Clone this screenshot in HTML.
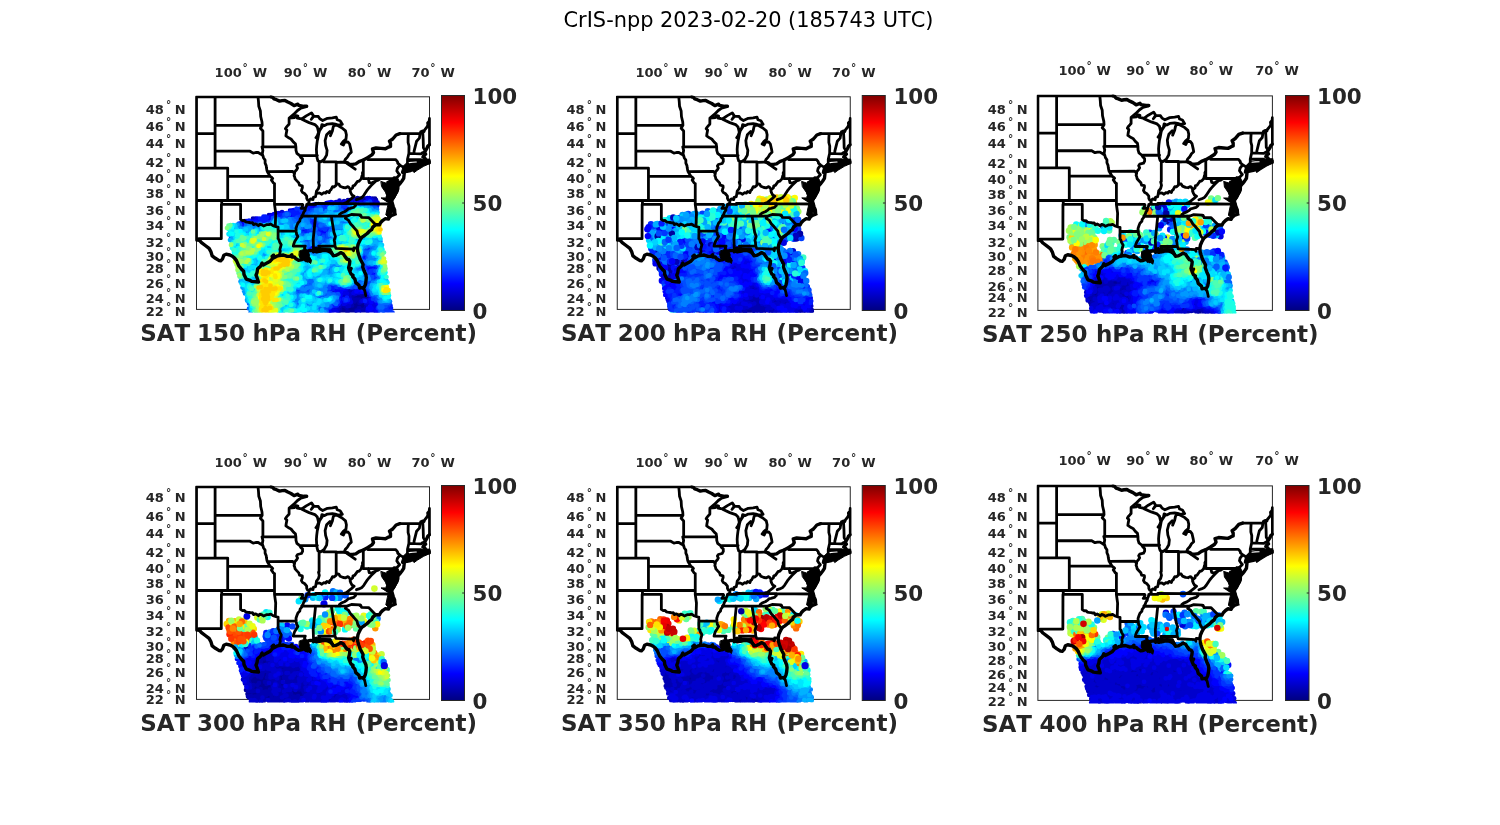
<!DOCTYPE html>
<html lang="en"><head><meta charset="utf-8"><title>CrIS-npp 2023-02-20 (185743 UTC)</title>
<style>html,body{margin:0;padding:0;background:#fff}svg{display:block}text{font-family:"DejaVu Sans","Liberation Sans",sans-serif;fill:#262626;font-kerning:none}.b{font-weight:bold}.t{font-size:13px}.c{font-size:21.4px}.x{font-size:23px}.d{font-size:10.5px}.D circle{r:3.2px}</style></head><body>
<svg width="1500" height="825" viewBox="0 0 1500 825">
<defs>
<linearGradient id="jet" x1="0" y1="0" x2="0" y2="1"><stop offset="0.0000" stop-color="#800000"/><stop offset="0.0156" stop-color="#8f0000"/><stop offset="0.0312" stop-color="#9f0000"/><stop offset="0.0469" stop-color="#af0000"/><stop offset="0.0625" stop-color="#bf0000"/><stop offset="0.0781" stop-color="#cf0000"/><stop offset="0.0938" stop-color="#df0000"/><stop offset="0.1094" stop-color="#ef0000"/><stop offset="0.1250" stop-color="#ff0000"/><stop offset="0.1406" stop-color="#ff1000"/><stop offset="0.1562" stop-color="#ff2000"/><stop offset="0.1719" stop-color="#ff3000"/><stop offset="0.1875" stop-color="#ff4000"/><stop offset="0.2031" stop-color="#ff5000"/><stop offset="0.2188" stop-color="#ff6000"/><stop offset="0.2344" stop-color="#ff7000"/><stop offset="0.2500" stop-color="#ff8000"/><stop offset="0.2656" stop-color="#ff8f00"/><stop offset="0.2812" stop-color="#ff9f00"/><stop offset="0.2969" stop-color="#ffaf00"/><stop offset="0.3125" stop-color="#ffbf00"/><stop offset="0.3281" stop-color="#ffcf00"/><stop offset="0.3438" stop-color="#ffdf00"/><stop offset="0.3594" stop-color="#ffef00"/><stop offset="0.3750" stop-color="#ffff00"/><stop offset="0.3906" stop-color="#efff10"/><stop offset="0.4062" stop-color="#dfff20"/><stop offset="0.4219" stop-color="#cfff30"/><stop offset="0.4375" stop-color="#bfff40"/><stop offset="0.4531" stop-color="#afff50"/><stop offset="0.4688" stop-color="#9fff60"/><stop offset="0.4844" stop-color="#8fff70"/><stop offset="0.5000" stop-color="#80ff80"/><stop offset="0.5156" stop-color="#70ff8f"/><stop offset="0.5312" stop-color="#60ff9f"/><stop offset="0.5469" stop-color="#50ffaf"/><stop offset="0.5625" stop-color="#40ffbf"/><stop offset="0.5781" stop-color="#30ffcf"/><stop offset="0.5938" stop-color="#20ffdf"/><stop offset="0.6094" stop-color="#10ffef"/><stop offset="0.6250" stop-color="#00ffff"/><stop offset="0.6406" stop-color="#00efff"/><stop offset="0.6562" stop-color="#00dfff"/><stop offset="0.6719" stop-color="#00cfff"/><stop offset="0.6875" stop-color="#00bfff"/><stop offset="0.7031" stop-color="#00afff"/><stop offset="0.7188" stop-color="#009fff"/><stop offset="0.7344" stop-color="#008fff"/><stop offset="0.7500" stop-color="#0080ff"/><stop offset="0.7656" stop-color="#0070ff"/><stop offset="0.7812" stop-color="#0060ff"/><stop offset="0.7969" stop-color="#0050ff"/><stop offset="0.8125" stop-color="#0040ff"/><stop offset="0.8281" stop-color="#0030ff"/><stop offset="0.8438" stop-color="#0020ff"/><stop offset="0.8594" stop-color="#0010ff"/><stop offset="0.8750" stop-color="#0000ff"/><stop offset="0.8906" stop-color="#0000ef"/><stop offset="0.9062" stop-color="#0000df"/><stop offset="0.9219" stop-color="#0000cf"/><stop offset="0.9375" stop-color="#0000bf"/><stop offset="0.9531" stop-color="#0000af"/><stop offset="0.9688" stop-color="#00009f"/><stop offset="0.9844" stop-color="#00008f"/><stop offset="1.0000" stop-color="#000080"/></linearGradient>
<clipPath id="cb"><rect x="-1.4" y="-1.4" width="235.8" height="215.4"/></clipPath>
<clipPath id="cd"><rect x="-3" y="-3" width="239.0" height="218.6"/></clipPath>
<g id="map" fill="none" stroke="#000" stroke-width="2.8" stroke-linejoin="round" stroke-linecap="round" clip-path="url(#cb)">
<path stroke-width="3.4" d="M74.6 0.0L76.2 0.5L77.5 2.1L80.0 2.9L83.1 4.3L85.6 3.8L88.5 3.6L91.3 5.2L94.5 6.7L97.6 8.8L101.4 7.4L102.3 8.6L107.4 9.5L110.2 9.5M148.3 65.2L151.1 66.1L152.7 67.4L156.2 67.6L159.3 67.1L162.5 64.9L166.8 63.2L171.5 60.6L175.7 57.8L177.0 55.7L176.0 52.2L179.5 51.2L184.5 51.6L188.9 52.0L192.1 50.3L194.0 49.6L194.0 46.6L193.0 44.4L196.2 42.2L199.6 38.2L203.4 36.9M233.0 47.9L231.4 49.2L230.5 51.4L229.2 53.5L228.0 55.5L229.1 57.4L227.3 58.7L226.5 60.2L228.3 61.2L229.5 63.3L229.9 64.8L233.0 64.8M233.0 65.7L230.2 66.3L228.9 67.0L228.6 65.0L227.0 66.7L225.8 67.1L224.8 65.5L224.2 64.6L224.2 67.6L223.6 68.2L221.4 68.6L217.9 69.0L214.7 69.2L212.2 70.5L210.0 71.4L208.4 73.0L208.1 71.3L208.4 71.3M207.7 74.5L209.4 72.6L212.8 72.0L216.6 71.5L218.5 70.1L217.3 71.7L219.5 71.3L221.2 70.7L217.9 72.4L214.1 73.7L210.3 74.6L207.7 74.9L207.7 74.5M206.2 75.5L207.8 75.9L207.5 78.8L207.2 81.6L205.3 84.5L203.4 86.9L202.0 88.3L201.8 86.3L199.6 85.3L198.1 83.7L198.1 82.9L198.4 84.9L199.0 86.9L199.6 88.4L200.9 89.5L201.2 92.2L200.3 95.0L199.0 97.0L197.4 99.8L195.5 102.8L195.1 101.3L195.8 99.4L197.1 96.3L195.8 95.8L196.2 93.8L194.6 93.4L193.3 91.0L194.3 89.4L193.3 87.7L194.3 86.1L195.2 84.5L194.6 83.3L193.3 84.5L192.4 86.1L191.4 85.7L192.4 87.7L191.8 89.8L192.1 92.2L192.7 93.4L193.2 95.5L193.6 96.6L193.0 98.8L190.8 96.6L193.3 99.4L192.7 101.7L190.8 100.2L193.3 103.5L191.1 103.3L193.3 104.1L195.2 104.3L196.0 107.2M196.0 107.2L196.8 110.0L198.1 113.1L198.4 117.3L195.2 118.5L193.0 120.4L191.9 122.3L188.9 121.8L186.4 123.5L184.2 125.7L182.9 128.0L179.2 127.9L176.3 130.3L175.1 132.9L172.9 134.4L170.7 136.7L167.2 139.3L165.6 140.4L164.4 141.7L162.8 144.8L161.5 147.8L160.9 151.4L161.2 154.4L162.2 158.0L163.7 162.3L165.3 165.2L166.6 167.7L166.2 170.2L167.8 174.5L169.4 178.0L169.8 180.8L169.4 185.1L168.8 187.9L167.5 190.6L164.4 191.0L163.1 191.2L162.5 188.5L159.3 185.8L158.4 182.3L156.2 179.8L156.5 178.4L154.6 177.3L153.3 174.5L154.6 171.7L152.7 173.1L152.1 170.9L153.0 167.4L153.3 164.5L152.1 162.7L150.5 162.3L148.6 159.8L146.7 156.9L144.2 155.8L142.6 156.9L139.2 158.6L136.7 158.9L136.0 157.6L134.4 155.8L131.6 154.2L129.1 153.6L125.9 153.8L124.7 154.2L122.7 154.5L120.9 154.9L119.6 154.9L120.3 153.3L119.6 151.5L119.0 153.6L117.1 154.9L117.1 153.8L114.0 153.6L111.5 154.2L109.6 155.1L108.3 155.8L110.2 156.2L111.5 158.0L109.6 159.1L110.8 160.9L112.4 162.0L113.0 163.4L111.1 164.1L110.8 162.7L108.6 161.3L107.1 160.2L106.7 162.3L104.5 163.1L102.0 163.4L99.5 162.0L97.9 160.2L95.4 160.2L95.4 158.0L93.8 159.5L90.7 159.6L86.9 158.2L82.8 158.7L81.2 159.0L77.5 160.9L77.1 158.4L75.6 159.5L76.2 161.6L73.7 164.4L69.9 166.5L66.8 168.1L65.5 166.3L64.2 169.2L62.7 170.6L61.1 172.0L60.5 175.9L59.5 178.4L60.8 181.6L62.0 185.3M3.0 143.5L5.0 145.8L8.8 148.7L12.6 151.6L14.5 155.1L15.7 159.1L18.9 161.5L22.7 163.8L24.2 164.0L26.1 162.0L27.3 158.4L29.6 157.4L33.4 158.2L35.9 159.5L38.1 161.3L40.0 163.8L42.2 168.9L45.0 172.5L47.2 174.5L47.5 177.7L49.7 182.3L52.9 183.3L55.4 184.6L58.9 184.9L62.0 185.3"/>
<path d="M0.0 0.0L74.6 0.0M0.0 0.0L0.0 143.5M0.0 143.5L3.0 143.5M18.6 0.0L18.6 71.3M0.0 36.9L18.6 36.9M18.6 28.5L65.7 28.5M18.6 54.4L53.5 54.4L56.7 56.3L59.2 55.7L61.7 55.7L64.5 57.4L66.4 58.8M0.0 71.3L31.2 71.3M31.2 71.3L31.2 103.7M31.2 79.6L73.7 79.6M0.0 103.7L78.0 103.7M25.2 103.7L25.2 107.6M24.9 107.6L44.1 107.6M24.9 107.6L24.8 141.9M24.8 141.9L2.4 141.9L2.4 142.8L3.0 143.5M44.1 107.6L44.1 122.6M44.1 122.6L46.0 123.8L47.9 123.7L49.1 125.0L50.7 125.4L52.9 125.7L54.5 126.0L56.0 125.9L57.0 127.8L58.9 127.0L60.8 128.0L62.0 128.9L63.3 127.3L65.5 128.0L67.1 129.2L69.9 127.9L72.4 127.8L74.3 127.3L76.5 128.9L78.8 129.6L80.3 130.1L81.6 130.3M78.8 129.6L79.2 116.2L78.0 107.6M78.0 107.6L78.0 86.8M81.6 130.3L81.6 141.9M81.6 134.3L99.7 134.4M81.6 141.9L82.5 143.0L83.1 145.2L84.7 147.9L84.1 150.0L83.4 152.6L83.8 154.4L83.4 156.2L82.8 158.7M78.0 107.6L106.1 107.6L106.4 108.4L105.5 110.4L104.7 111.5L108.9 111.5M66.4 58.8L67.1 61.2L68.6 63.3L68.6 66.3L69.7 68.8L70.0 71.3L70.4 73.4L71.2 75.5L72.4 77.5L73.7 79.6L75.3 80.7L76.2 81.6L74.9 83.3L76.1 84.9L76.8 86.1L78.0 86.8M66.4 58.8L65.8 57.0L66.4 53.5L65.5 50.1L66.4 50.1L66.4 34.2L63.9 31.5L65.7 28.5L65.5 25.2L64.2 19.7L63.9 14.2L62.3 9.5L62.0 4.8L61.5 0.0M66.4 50.1L99.4 50.1M70.7 74.8L96.2 74.6L97.6 76.3L98.1 76.5M103.0 58.6L120.9 58.8M93.8 21.1L92.6 21.9L92.6 27.3L91.6 28.4L89.7 30.6L88.9 32.0L90.4 33.3L89.7 36.9L89.4 39.1L92.6 41.3L94.5 42.2L97.0 45.3L98.9 47.0L99.4 50.1L99.5 53.5L100.4 56.5L103.0 58.6L104.5 60.8L106.0 62.1L106.1 64.6L104.9 66.7L101.1 67.7L100.1 69.2L101.1 71.3L100.1 73.0L98.2 75.1L98.1 76.5L97.6 78.8L98.2 80.2L98.6 82.1L100.4 84.1L102.3 86.1L103.0 88.4L105.8 89.0L105.9 90.7L104.9 93.8L106.1 95.8L108.0 96.7L110.2 99.4L110.2 101.5L111.1 103.3L112.4 103.7L112.7 105.3L111.8 106.8L110.2 107.6L109.9 109.2L108.9 111.5L108.6 113.5L107.4 115.0L106.4 117.7L105.2 119.3L105.2 120.4L103.6 122.3L103.3 124.2L101.4 126.1L100.4 128.8L99.5 131.4L99.7 134.4L100.1 137.4L101.4 139.7L99.8 142.3L98.2 144.8L97.3 147.1L96.8 149.3M96.8 149.3L108.8 149.3L108.0 151.5L109.3 153.6L109.6 155.1M166.8 74.3L165.9 76.3L166.2 77.9L165.5 79.0L164.7 82.1L162.5 84.5L160.9 84.5L160.3 85.6L159.0 87.3L158.1 88.6L156.5 89.0L156.2 91.0L154.6 92.4L153.7 92.4L152.1 90.2L151.1 89.9L149.2 91.0L146.7 90.7L143.6 89.4L142.3 87.3L139.7 86.9L139.5 88.6L137.6 90.2L136.0 89.9L134.4 93.0L133.5 93.6L132.6 95.8L130.4 94.6L129.1 96.4L127.2 95.9L125.3 97.5L123.4 96.3L122.2 96.2L120.3 96.7L119.5 97.4L119.0 99.8L116.8 100.5L116.5 102.9L114.0 102.1L112.4 103.7M119.5 97.4L120.0 94.2L121.9 91.8L122.8 88.6L122.0 85.3L122.6 84.9L122.6 65.4M139.7 86.9L139.7 65.5M127.1 65.0L139.7 65.0L139.7 65.5L148.3 65.2M166.8 81.9L166.8 63.2M171.5 60.6L171.5 62.9L199.3 62.9L201.1 65.0L201.2 66.3L203.4 68.3M203.4 68.3L200.9 71.6L200.3 74.2L201.8 76.3L203.1 77.9L200.7 80.4L199.0 81.2L198.1 82.9M203.4 68.3L208.4 71.3M166.8 81.9L196.5 81.9M199.0 81.2L197.7 80.9L196.5 81.9L196.5 92.2L201.2 92.2M157.6 99.4L155.5 98.2L154.6 96.6L153.7 94.4L153.7 92.4M157.6 99.4L155.2 101.6L153.0 103.3L149.9 105.7L146.9 106.8M146.9 106.8L159.4 106.9L196.0 107.2M146.9 106.8L119.2 106.5L119.2 107.6L110.2 107.6M159.4 106.9L159.0 108.8L157.1 110.6L153.7 111.5L151.8 111.9L150.5 113.3L148.0 114.9L144.8 116.2L142.9 117.7L142.8 119.3M105.2 119.3L142.8 119.3L150.4 119.3M150.4 119.3L154.9 117.7L163.5 118.1L163.5 118.9L164.2 118.5L165.1 120.6L172.1 120.8L179.2 127.9M150.4 119.3L148.9 121.6L151.8 123.3L154.0 126.9L156.2 129.2L157.7 131.0L160.6 134.4L161.2 137.4L162.8 140.0L164.4 141.7M118.4 119.3L119.0 120.0L116.7 142.6L117.1 154.9M134.8 119.3L137.4 135.4L138.9 139.7L137.7 143.4L138.2 145.6L138.5 149.3M122.2 149.3L138.5 149.3L139.4 151.5L156.2 152.4L157.1 153.9L157.4 151.1L160.9 151.4M122.2 149.3L123.4 151.8L123.1 153.6L122.7 154.5M203.4 36.9L223.6 36.9L224.2 35.1L226.2 34.2L227.6 34.7L228.0 33.3L230.5 30.2L231.4 28.4L231.1 26.1L232.7 24.3L233.0 21.6M233.0 21.6L233.0 47.9M211.9 36.9L211.6 41.3L211.6 45.7L212.5 49.2L212.4 56.5L211.0 62.5L211.0 68.8L209.7 70.5L210.0 71.4M223.6 36.9L222.9 41.3L220.1 44.4L219.1 48.3L217.6 54.4L217.5 56.7M212.4 56.5L224.8 57.0L225.4 56.3L227.3 55.4M211.0 62.5L221.7 62.8L224.3 62.8L224.3 63.8L225.1 65.5L225.8 67.1M221.7 62.8L221.7 68.0L221.4 68.6M228.6 53.7L226.9 50.9L226.7 43.1L226.2 34.2M171.8 81.7L172.7 85.8L175.2 86.4L177.0 85.2L179.4 84.1L181.8 83.4L183.3 82.4M179.4 84.1L177.0 86.4L174.6 88.8L172.7 90.9L170.9 93.0L169.1 95.8L167.3 98.5L165.5 100.6L162.4 102.1L160.0 102.9M109.9 9.8L104.4 11.3L101.0 13.7L97.1 17.6L92.7 21.2L98.1 20.7L99.8 18.8L101.4 19.3L100.8 21.3L103.4 21.7L105.3 22.2L109.7 19.1L115.0 16.1L117.0 19.1L114.7 22.6L117.5 19.3L121.8 19.7L123.3 22.0L126.2 23.7L131.0 21.5L135.9 21.0L139.8 20.3L140.7 22.9L143.6 23.9L144.8 25.8L145.8 27.5L141.7 28.3L138.8 27.3L135.9 26.8L131.0 27.3L128.1 28.8L125.4 27.8L124.7 31.2L126.2 29.2L124.2 32.2L122.1 35.5L120.8 38.9L119.4 40.9L121.8 37.5L122.8 34.1L123.5 32.2L122.3 36.5L121.5 40.9L120.8 43.8L120.2 48.6L119.9 52.5L120.2 58.3L120.7 61.7L121.5 64.2L124.2 65.1L127.6 62.7L130.1 58.3L130.6 53.5L129.1 48.6L128.6 43.8L130.1 38.0L133.5 34.6L134.9 36.5L133.9 38.9L135.9 34.1L136.7 30.2L137.8 28.3L140.7 28.5L145.6 31.2L149.0 34.1L149.9 38.0L149.5 42.3L146.6 44.8L144.8 47.2L147.0 48.2L148.3 45.2L151.4 45.0L153.1 47.2L154.3 52.5L154.8 55.4L152.6 57.4L150.9 60.3L148.7 62.7L148.0 64.8M105.3 22.5L112.6 25.8L118.4 27.8L120.8 30.2L122.1 35.5M148.0 64.8L158.7 72.4M166.4 191.3L168.1 193.4L169.3 198.8"/>
<polygon points="205.3,74.5 206.5,69.5 211.4,65.0 221.1,63.3 228.4,62.3 233.5,62.3 233.5,66.6 227.2,69.5 221.1,73.2 217.5,75.8 216.0,73.5 209.0,75.6" fill="#000" stroke-width="1"/>
<polygon points="184.7,84.7 192.0,87.1 196.8,84.2 201.1,81.1 203.2,85.3 201.9,93.8 198.3,101.1 195.8,104.7 196.8,112.0 200.0,118.1 195.8,115.8 192.2,120.7 189.3,118.1 190.8,110.8 192.0,105.9 184.5,101.1 190.8,101.1 189.5,96.2 185.3,90.1" fill="#000" stroke-width="1"/>
<polygon points="103.2,154.1 107.4,152.7 109.9,153.2 112.3,156.2 112.9,159.9 115.0,163.5 114.2,166.7 111.1,164.2 108.7,165.0 107.4,162.6 103.8,162.0 102.6,158.7" fill="#000" stroke-width="1"/>
<polygon points="117.1,150.8 134.1,151.4 135.3,153.8 137.1,157.4 134.7,157.4 132.9,154.1 117.1,153.2" fill="#000" stroke-width="1"/>
<path stroke="#fff" stroke-width="1.1" d="M212.7 65.8L216.1 65.4L219.8 65.2"/>
</g>
</defs>
<rect width="1500" height="825" fill="#fff"/>
<text x="748.5" y="27" text-anchor="middle" font-size="20.9" fill="#000" style="fill:#000">CrIS-npp 2023-02-20 (185743 UTC)</text>
<rect x="196.50" y="96.80" width="233.00" height="212.60" fill="#fff" stroke="#262626" stroke-width="1"/>
<g transform="translate(196.50,96.80) scale(1.00000,1.00000)">
<g clip-path="url(#cd)"><g transform="translate(-196.50,-96.80) scale(0.5)" fill="none" stroke-width="9.4" stroke-linecap="round"><path stroke="#000099" d="M712 398h0M715 396h0M720 397h0M725 396h0M731 397h0M750 397h0M696 400h0M715 399h0M722 401h0M727 401h0M732 400h0M726 587h0M709 592h0M714 592h0M719 591h0M723 591h0M727 591h0M708 596h0M712 596h0M717 595h0M722 595h0M725 594h0M731 594h0M734 594h0M706 598h0M722 598h0M731 598h0M712 603h0M718 605h0M706 608h0M710 608h0M714 606h0M723 608h0M729 608h0M708 611h0M712 612h0M716 612h0M721 610h0M725 611h0M730 612h0M681 617h0M688 617h0M696 616h0M701 616h0M706 615h0M711 614h0M714 616h0M723 616h0M728 616h0M683 620h0M688 620h0M693 621h0M697 620h0M704 621h0M708 619h0M682 625h0M686 624h0M692 624h0M699 623h0M704 624h0M709 623h0"/><path stroke="#0000b2" d="M745 397h0M688 402h0M700 400h0M709 399h0M718 399h0M752 400h0M674 404h0M624 410h0M628 409h0M625 413h0M538 430h0M506 437h0M703 579h0M696 582h0M700 583h0M705 583h0M721 587h0M706 591h0M733 590h0M684 594h0M703 594h0M741 594h0M709 600h0M713 599h0M719 599h0M709 603h0M719 606h0M686 611h0M689 612h0M704 611h0M679 614h0M693 615h0M718 616h0M732 615h0M680 619h0M713 621h0M717 619h0M721 619h0M727 620h0M729 619h0M677 623h0M695 623h0M724 625h0M727 624h0M734 625h0"/><path stroke="#0000cc" d="M679 401h0M705 399h0M746 401h0M672 404h0M680 404h0M684 406h0M708 404h0M725 404h0M749 403h0M616 413h0M629 414h0M558 426h0M564 424h0M542 430h0M511 437h0M631 446h0M627 449h0M609 458h0M620 496h0M624 495h0M737 532h0M741 533h0M699 579h0M707 578h0M713 578h0M660 584h0M665 583h0M668 582h0M691 581h0M698 587h0M701 588h0M711 588h0M717 586h0M730 585h0M686 590h0M690 590h0M695 591h0M699 590h0M688 595h0M699 595h0M736 600h0M722 603h0M749 604h0M682 608h0M695 608h0M700 606h0M732 607h0M737 607h0M746 606h0M679 612h0M695 612h0M698 612h0M736 610h0M669 616h0M674 616h0M665 621h0M676 619h0M662 623h0M714 624h0M718 623h0M752 624h0"/><path stroke="#0000e6" d="M735 396h0M739 396h0M743 400h0M653 406h0M657 405h0M666 405h0M689 404h0M693 403h0M699 404h0M702 405h0M717 404h0M721 404h0M745 405h0M755 405h0M631 409h0M686 408h0M745 408h0M620 414h0M626 417h0M580 421h0M584 421h0M553 426h0M566 426h0M548 428h0M490 442h0M503 442h0M507 442h0M626 443h0M483 445h0M488 446h0M625 447h0M633 447h0M607 464h0M610 463h0M646 466h0M627 493h0M615 497h0M745 532h0M741 538h0M748 546h0M746 549h0M748 558h0M671 580h0M692 579h0M686 582h0M711 582h0M718 584h0M729 583h0M685 586h0M688 585h0M694 587h0M707 586h0M737 590h0M680 595h0M745 595h0M700 600h0M728 600h0M684 604h0M699 604h0M702 604h0M725 602h0M734 604h0M739 602h0M688 608h0M691 606h0M742 609h0M751 608h0M744 613h0M749 611h0M753 610h0M663 617h0M747 615h0M750 616h0M660 621h0M671 621h0M735 621h0M745 619h0M749 620h0M669 623h0M674 625h0M737 624h0M743 623h0M746 623h0"/><path stroke="#0000ff" d="M737 401h0M662 404h0M712 406h0M654 408h0M660 409h0M663 409h0M668 409h0M674 407h0M752 409h0M755 409h0M622 416h0M650 417h0M683 418h0M686 416h0M692 417h0M695 417h0M587 420h0M591 426h0M594 426h0M550 430h0M556 430h0M561 430h0M585 430h0M592 430h0M540 434h0M544 432h0M575 434h0M581 433h0M586 433h0M515 437h0M537 438h0M541 438h0M629 437h0M493 442h0M512 441h0M515 442h0M520 441h0M524 441h0M536 440h0M539 442h0M638 445h0M484 451h0M488 451h0M626 453h0M637 459h0M644 460h0M638 463h0M644 462h0M647 462h0M653 462h0M655 462h0M649 467h0M621 493h0M740 496h0M729 512h0M727 517h0M751 533h0M735 536h0M745 537h0M748 538h0M738 541h0M742 549h0M750 550h0M750 559h0M665 571h0M671 570h0M660 579h0M676 579h0M681 579h0M685 578h0M690 577h0M717 578h0M720 580h0M673 583h0M677 582h0M682 583h0M713 583h0M724 584h0M734 582h0M680 586h0M735 587h0M681 591h0M681 599h0M741 599h0M680 604h0M694 602h0M743 604h0M753 602h0M755 607h0M740 613h0M736 617h0M743 617h0M658 620h0M740 619h0M753 620h0M781 619h0M659 624h0M755 624h0"/><path stroke="#0019ff" d="M731 404h0M646 409h0M650 410h0M676 410h0M683 410h0M690 410h0M696 409h0M727 408h0M742 407h0M635 412h0M647 414h0M652 413h0M695 413h0M754 413h0M604 418h0M609 417h0M614 418h0M617 417h0M593 422h0M596 421h0M615 420h0M619 421h0M688 420h0M694 420h0M581 424h0M586 424h0M599 425h0M603 426h0M563 430h0M588 429h0M596 428h0M602 429h0M527 433h0M531 433h0M534 435h0M559 432h0M562 435h0M589 434h0M604 433h0M520 437h0M524 439h0M529 436h0M532 437h0M626 437h0M498 441h0M531 442h0M624 441h0M506 445h0M511 445h0M514 445h0M522 445h0M528 446h0M533 445h0M632 450h0M483 453h0M487 454h0M628 455h0M604 457h0M613 459h0M642 458h0M655 459h0M659 457h0M601 464h0M616 461h0M619 462h0M609 466h0M613 467h0M639 467h0M638 472h0M643 469h0M624 480h0M600 483h0M603 483h0M628 497h0M634 497h0M734 496h0M619 499h0M725 512h0M724 516h0M733 532h0M754 536h0M744 545h0M739 550h0M753 555h0M618 558h0M718 563h0M738 566h0M661 569h0M664 575h0M669 573h0M676 575h0M681 575h0M686 575h0M720 575h0M725 575h0M666 578h0M726 579h0M731 580h0M595 582h0M656 583h0M642 595h0M694 595h0M678 599h0M688 598h0M696 600h0M690 602h0M730 602h0M664 608h0M677 608h0M666 612h0M671 611h0M674 611h0M781 611h0M779 617h0M782 616h0M776 620h0"/><path stroke="#0033ff" d="M740 403h0M637 408h0M640 409h0M699 408h0M714 410h0M720 410h0M722 408h0M731 408h0M644 413h0M656 414h0M684 414h0M690 412h0M746 412h0M750 413h0M593 417h0M600 417h0M632 418h0M646 416h0M654 418h0M602 421h0M606 422h0M612 420h0M624 420h0M647 420h0M697 422h0M573 426h0M576 427h0M608 426h0M614 425h0M672 426h0M639 431h0M567 434h0M595 434h0M600 433h0M610 432h0M564 437h0M574 437h0M597 438h0M602 437h0M621 438h0M594 442h0M633 441h0M478 447h0M492 447h0M520 446h0M538 445h0M607 445h0M621 447h0M622 451h0M635 450h0M635 455h0M639 455h0M642 454h0M646 456h0M652 455h0M658 453h0M618 458h0M650 459h0M624 462h0M633 462h0M605 467h0M618 466h0M648 471h0M651 471h0M650 476h0M655 474h0M612 479h0M615 480h0M621 480h0M653 480h0M608 484h0M612 483h0M646 484h0M643 487h0M630 491h0M638 495h0M623 501h0M728 500h0M732 501h0M736 501h0M735 512h0M734 516h0M731 521h0M740 530h0M747 530h0M682 532h0M756 533h0M730 536h0M731 540h0M741 542h0M746 541h0M736 546h0M740 545h0M731 551h0M749 553h0M622 559h0M756 558h0M736 563h0M744 562h0M621 565h0M715 567h0M733 567h0M706 570h0M713 570h0M732 570h0M735 570h0M673 574h0M704 575h0M714 573h0M729 573h0M734 574h0M594 578h0M598 578h0M735 577h0M599 584h0M618 582h0M738 581h0M601 588h0M607 586h0M670 588h0M740 586h0M742 590h0M637 596h0M750 596h0M754 595h0M692 600h0M746 598h0M752 601h0M760 598h0M776 611h0M640 615h0M659 615h0M756 616h0M769 615h0M773 617h0M653 620h0M759 619h0M767 620h0M771 621h0M769 625h0M774 624h0M780 623h0M785 625h0"/><path stroke="#004dff" d="M735 406h0M705 408h0M638 413h0M675 411h0M739 412h0M637 416h0M676 417h0M751 416h0M628 420h0M671 422h0M679 421h0M617 426h0M623 424h0M677 424h0M569 429h0M578 429h0M607 430h0M610 429h0M615 430h0M549 435h0M552 433h0M571 432h0M613 432h0M617 434h0M546 436h0M560 439h0M589 438h0M592 437h0M605 436h0M599 441h0M637 443h0M564 445h0M643 447h0M693 446h0M697 445h0M480 449h0M645 451h0M649 450h0M510 454h0M513 455h0M551 454h0M608 455h0M662 454h0M600 458h0M623 458h0M663 458h0M678 459h0M630 462h0M626 468h0M637 467h0M656 467h0M607 470h0M635 471h0M656 471h0M462 474h0M637 474h0M646 474h0M659 476h0M664 476h0M630 480h0M647 478h0M655 479h0M594 484h0M616 484h0M637 484h0M651 484h0M637 489h0M653 486h0M614 493h0M637 492h0M643 496h0M731 495h0M744 496h0M627 499h0M632 501h0M637 500h0M629 503h0M730 504h0M627 508h0M728 507h0M722 512h0M736 515h0M747 516h0M726 522h0M729 528h0M754 529h0M727 532h0M721 537h0M751 542h0M754 544h0M739 553h0M744 554h0M743 558h0M628 563h0M722 560h0M739 562h0M750 562h0M617 566h0M663 567h0M719 566h0M742 567h0M611 571h0M616 570h0M621 570h0M656 570h0M675 569h0M716 571h0M720 570h0M609 573h0M655 574h0M658 575h0M701 574h0M711 574h0M615 577h0M620 580h0M639 579h0M658 577h0M738 578h0M614 582h0M571 587h0M574 586h0M596 585h0M653 587h0M661 586h0M666 588h0M676 588h0M642 591h0M646 591h0M651 590h0M654 590h0M674 591h0M677 590h0M747 591h0M752 590h0M647 594h0M674 600h0M755 598h0M675 604h0M760 607h0M765 609h0M779 607h0M615 611h0M661 613h0M768 610h0M771 612h0M646 615h0M650 615h0M653 615h0M637 619h0M762 620h0M761 624h0M765 625h0"/><path stroke="#0066ff" d="M736 409h0M667 412h0M678 413h0M699 412h0M718 413h0M720 413h0M726 413h0M730 412h0M641 417h0M745 417h0M754 418h0M658 421h0M666 420h0M674 420h0M683 421h0M627 425h0M631 426h0M642 427h0M668 424h0M691 425h0M574 428h0M620 429h0M642 430h0M632 434h0M584 438h0M616 437h0M635 438h0M648 438h0M652 439h0M661 439h0M544 443h0M586 442h0M589 442h0M616 441h0M640 442h0M683 442h0M495 446h0M500 447h0M542 447h0M561 445h0M569 445h0M574 447h0M587 446h0M593 446h0M602 447h0M611 447h0M648 447h0M685 446h0M690 445h0M493 449h0M507 449h0M512 449h0M584 451h0M641 451h0M654 450h0M663 451h0M477 453h0M492 453h0M505 455h0M519 453h0M579 455h0M582 455h0M602 455h0M584 458h0M595 458h0M628 459h0M631 458h0M682 457h0M686 459h0M661 462h0M630 467h0M683 468h0M602 471h0M683 470h0M626 476h0M464 478h0M635 480h0M643 478h0M717 478h0M720 479h0M626 482h0M642 482h0M655 482h0M688 484h0M614 488h0M620 486h0M474 491h0M609 492h0M618 491h0M738 491h0M746 492h0M751 491h0M613 500h0M743 500h0M746 501h0M750 500h0M620 503h0M624 505h0M727 504h0M734 505h0M739 504h0M633 508h0M734 507h0M737 507h0M752 517h0M727 524h0M725 529h0M736 528h0M663 533h0M676 534h0M724 532h0M652 537h0M657 537h0M662 536h0M716 537h0M726 537h0M659 543h0M715 541h0M755 550h0M670 554h0M758 553h0M628 557h0M760 556h0M617 562h0M620 562h0M624 562h0M725 561h0M731 563h0M614 566h0M628 565h0M710 565h0M722 566h0M625 569h0M702 570h0M725 569h0M740 571h0M604 574h0M619 573h0M644 574h0M649 575h0M690 573h0M696 574h0M737 575h0M603 579h0M625 579h0M630 577h0M644 579h0M589 582h0M603 584h0M607 584h0M641 581h0M591 586h0M610 587h0M616 588h0M619 588h0M657 587h0M595 590h0M618 590h0M660 590h0M663 591h0M668 590h0M755 591h0M634 595h0M595 600h0M669 602h0M498 607h0M594 606h0M598 606h0M651 607h0M659 607h0M669 606h0M672 608h0M769 606h0M775 606h0M593 610h0M639 612h0M642 612h0M656 610h0M759 613h0M763 611h0M498 617h0M635 617h0M759 615h0M765 615h0M647 620h0M653 623h0"/><path stroke="#0080ff" d="M709 409h0M661 414h0M702 414h0M711 412h0M735 412h0M701 417h0M632 420h0M638 420h0M653 422h0M661 420h0M754 420h0M637 426h0M645 426h0M650 427h0M655 424h0M685 425h0M625 429h0M633 430h0M649 429h0M666 428h0M689 429h0M623 432h0M626 434h0M637 434h0M663 435h0M673 433h0M686 433h0M556 438h0M568 439h0M579 438h0M611 438h0M656 437h0M666 438h0M580 442h0M608 442h0M613 442h0M658 443h0M663 443h0M685 441h0M695 443h0M579 445h0M583 445h0M598 447h0M616 447h0M653 446h0M679 446h0M702 446h0M498 451h0M504 450h0M515 451h0M525 450h0M557 451h0M562 450h0M567 449h0M580 450h0M599 449h0M614 450h0M619 451h0M589 455h0M592 454h0M612 453h0M666 453h0M472 457h0M480 457h0M507 457h0M516 458h0M580 458h0M591 458h0M669 459h0M673 459h0M492 463h0M496 463h0M667 463h0M684 461h0M598 466h0M622 468h0M660 467h0M598 470h0M612 471h0M625 470h0M630 471h0M660 470h0M679 471h0M467 475h0M632 474h0M668 476h0M607 478h0M639 478h0M750 479h0M623 484h0M631 483h0M658 482h0M690 484h0M761 483h0M611 487h0M633 488h0M648 489h0M657 486h0M681 487h0M507 492h0M641 493h0M658 491h0M733 493h0M741 491h0M749 496h0M642 500h0M634 505h0M531 507h0M622 507h0M636 507h0M630 511h0M739 512h0M743 511h0M741 517h0M756 516h0M661 520h0M736 521h0M741 519h0M745 519h0M750 522h0M733 524h0M665 530h0M670 528h0M703 529h0M660 532h0M669 533h0M674 532h0M718 532h0M761 532h0M666 537h0M713 537h0M723 540h0M727 540h0M756 542h0M607 546h0M657 545h0M661 547h0M605 549h0M607 549h0M727 548h0M674 554h0M713 553h0M727 554h0M731 555h0M736 554h0M613 557h0M734 559h0M738 558h0M611 561h0M712 562h0M755 561h0M632 565h0M667 567h0M727 567h0M746 565h0M606 569h0M648 571h0M652 570h0M598 575h0M614 576h0M622 575h0M626 575h0M605 578h0M610 579h0M634 578h0M648 579h0M651 579h0M623 583h0M644 581h0M650 583h0M743 583h0M578 586h0M647 587h0M745 588h0M599 591h0M626 591h0M631 591h0M637 590h0M593 596h0M597 594h0M652 596h0M656 595h0M674 595h0M762 595h0M589 600h0M599 600h0M589 604h0M592 602h0M597 602h0M653 603h0M665 603h0M759 603h0M780 603h0M614 608h0M618 608h0M621 608h0M594 614h0M501 625h0M608 625h0"/><path stroke="#0099ff" d="M672 413h0M673 416h0M737 416h0M742 417h0M642 420h0M703 421h0M744 420h0M749 422h0M681 426h0M695 425h0M630 429h0M661 431h0M683 429h0M692 431h0M660 434h0M668 434h0M678 432h0M683 434h0M705 434h0M709 435h0M714 435h0M639 439h0M669 439h0M678 437h0M558 441h0M575 443h0M604 442h0M645 441h0M654 441h0M668 442h0M555 447h0M475 449h0M576 449h0M590 451h0M609 449h0M668 450h0M672 451h0M677 449h0M682 450h0M687 451h0M469 456h0M501 454h0M597 455h0M614 454h0M619 453h0M671 453h0M674 453h0M679 454h0M685 454h0M483 457h0M520 457h0M561 461h0M669 464h0M494 468h0M560 472h0M593 471h0M676 471h0M585 474h0M590 474h0M610 475h0M640 476h0M674 476h0M723 476h0M743 476h0M746 475h0M662 480h0M666 479h0M670 479h0M712 480h0M754 480h0M759 480h0M463 482h0M747 482h0M754 483h0M606 487h0M624 488h0M629 487h0M661 487h0M727 488h0M748 488h0M753 486h0M470 492h0M651 491h0M654 492h0M729 492h0M755 493h0M610 496h0M649 495h0M726 495h0M753 497h0M561 499h0M571 499h0M610 500h0M723 499h0M612 505h0M615 505h0M639 504h0M745 503h0M525 509h0M722 509h0M742 507h0M524 512h0M529 513h0M533 512h0M625 512h0M634 511h0M748 512h0M720 517h0M722 521h0M755 520h0M512 525h0M608 523h0M723 523h0M737 526h0M506 528h0M514 528h0M638 528h0M661 528h0M744 528h0M758 529h0M609 532h0M615 538h0M620 538h0M648 536h0M759 538h0M608 541h0M613 540h0M650 540h0M654 542h0M664 540h0M710 541h0M720 543h0M602 545h0M611 545h0M665 546h0M730 546h0M641 551h0M649 549h0M654 550h0M660 551h0M663 550h0M759 549h0M606 554h0M634 554h0M638 554h0M707 552h0M717 553h0M720 555h0M605 556h0M608 558h0M631 559h0M706 557h0M709 557h0M729 558h0M481 563h0M486 561h0M500 563h0M505 561h0M651 563h0M708 561h0M494 565h0M497 566h0M650 565h0M654 566h0M660 565h0M752 565h0M629 569h0M679 570h0M485 575h0M596 575h0M632 574h0M636 573h0M642 573h0M742 575h0M487 577h0M488 582h0M636 583h0M490 587h0M588 585h0M624 588h0M629 587h0M590 591h0M614 591h0M769 591h0M601 594h0M607 594h0M629 594h0M666 594h0M669 595h0M759 594h0M494 600h0M645 598h0M667 599h0M764 600h0M583 604h0M629 603h0M658 605h0M763 603h0M590 608h0M605 608h0M646 608h0M653 608h0M597 613h0M621 612h0M623 611h0M634 613h0M654 611h0M590 614h0M634 620h0M612 624h0M618 623h0M623 624h0M626 623h0M644 624h0M649 624h0"/><path stroke="#00b2ff" d="M668 416h0M706 418h0M728 417h0M731 416h0M658 425h0M663 426h0M751 424h0M651 430h0M670 429h0M678 428h0M641 433h0M654 435h0M691 433h0M551 439h0M642 439h0M676 438h0M684 438h0M564 442h0M649 442h0M674 442h0M677 441h0M692 440h0M656 447h0M671 445h0M730 447h0M520 449h0M534 449h0M539 450h0M545 451h0M554 449h0M594 450h0M605 450h0M658 449h0M472 454h0M496 456h0M546 453h0M557 455h0M466 457h0M490 457h0M497 460h0M502 459h0M563 458h0M576 457h0M500 463h0M518 463h0M564 461h0M569 461h0M575 463h0M498 466h0M562 467h0M567 467h0M595 466h0M685 466h0M463 471h0M467 471h0M566 472h0M588 471h0M615 471h0M621 470h0M667 471h0M599 475h0M603 476h0M612 476h0M623 475h0M728 474h0M752 474h0M755 474h0M460 480h0M468 480h0M497 479h0M675 478h0M726 479h0M730 478h0M745 478h0M590 484h0M696 485h0M751 484h0M603 487h0M667 486h0M684 488h0M717 488h0M743 488h0M757 488h0M646 491h0M719 492h0M724 492h0M473 495h0M567 499h0M576 500h0M645 501h0M529 503h0M559 504h0M607 503h0M644 503h0M652 504h0M655 505h0M757 505h0M535 507h0M608 509h0M613 507h0M618 509h0M642 508h0M621 512h0M637 512h0M512 517h0M635 517h0M640 517h0M505 520h0M509 521h0M514 521h0M607 521h0M665 521h0M516 525h0M605 524h0M672 525h0M741 525h0M745 525h0M501 529h0M510 529h0M615 528h0M629 530h0M635 529h0M643 528h0M675 528h0M681 529h0M684 529h0M720 529h0M511 533h0M605 534h0M613 532h0M618 534h0M622 532h0M655 534h0M686 534h0M715 532h0M487 537h0M491 536h0M504 538h0M510 538h0M610 536h0M708 536h0M490 541h0M509 540h0M647 540h0M668 542h0M678 542h0M643 547h0M648 546h0M651 544h0M671 547h0M676 545h0M680 544h0M716 545h0M725 545h0M601 548h0M645 549h0M506 554h0M510 554h0M611 552h0M624 554h0M628 554h0M644 555h0M661 553h0M665 553h0M702 555h0M763 553h0M483 559h0M507 557h0M513 559h0M669 557h0M681 559h0M714 558h0M718 556h0M725 557h0M492 561h0M497 562h0M510 563h0M607 561h0M633 563h0M773 562h0M508 565h0M635 567h0M640 566h0M645 567h0M704 567h0M755 566h0M634 570h0M642 571h0M686 571h0M689 571h0M744 570h0M489 573h0M746 575h0M491 578h0M745 578h0M508 582h0M585 583h0M632 584h0M750 586h0M752 586h0M587 591h0M622 591h0M773 590h0M631 598h0M640 600h0M665 601h0M778 600h0M495 602h0M624 602h0M647 603h0M662 603h0M768 602h0M772 602h0M776 602h0M581 606h0M608 609h0M627 606h0M640 609h0M501 612h0M570 613h0M575 612h0M646 611h0M502 615h0M562 615h0M565 621h0M620 619h0M644 620h0M586 624h0M635 625h0M642 625h0"/><path stroke="#00ccff" d="M708 413h0M659 416h0M665 417h0M739 420h0M742 425h0M746 426h0M755 425h0M655 430h0M674 429h0M645 433h0M696 435h0M690 437h0M695 437h0M698 438h0M704 438h0M711 437h0M550 441h0M552 441h0M567 442h0M572 441h0M701 442h0M547 445h0M675 445h0M707 446h0M470 451h0M549 449h0M571 451h0M690 451h0M700 449h0M569 454h0M574 453h0M463 457h0M474 459h0M492 459h0M513 459h0M549 457h0M559 457h0M568 458h0M571 459h0M464 463h0M486 462h0M524 463h0M579 463h0M582 463h0M598 463h0M676 464h0M680 464h0M688 463h0M693 462h0M470 466h0M479 466h0M517 467h0M590 466h0M664 468h0M669 465h0M495 470h0M505 471h0M510 472h0M568 470h0M584 471h0M670 472h0M559 474h0M563 475h0M581 474h0M596 475h0M618 476h0M734 476h0M736 476h0M603 478h0M761 478h0M668 484h0M682 482h0M715 483h0M718 483h0M474 487h0M591 486h0M675 488h0M699 486h0M730 487h0M761 488h0M467 493h0M536 493h0M539 492h0M603 491h0M764 490h0M529 495h0M533 495h0M536 496h0M541 496h0M571 496h0M583 496h0M652 497h0M656 495h0M521 500h0M558 500h0M650 498h0M522 503h0M564 505h0M570 505h0M578 503h0M649 504h0M753 504h0M761 504h0M603 507h0M646 508h0M649 508h0M654 508h0M660 509h0M752 509h0M536 511h0M644 513h0M717 513h0M754 512h0M757 513h0M509 515h0M524 515h0M660 517h0M669 517h0M624 522h0M628 521h0M635 521h0M656 520h0M670 519h0M508 524h0M613 526h0M618 526h0M642 526h0M646 526h0M656 526h0M664 524h0M667 524h0M750 526h0M518 528h0M610 528h0M620 529h0M646 529h0M656 529h0M709 529h0M493 533h0M497 533h0M516 533h0M627 533h0M709 533h0M495 537h0M607 538h0M644 537h0M669 537h0M483 541h0M494 540h0M498 541h0M502 542h0M617 543h0M683 540h0M686 542h0M705 541h0M488 545h0M495 545h0M500 545h0M626 546h0M630 545h0M698 546h0M707 545h0M711 545h0M612 549h0M626 548h0M636 548h0M669 551h0M720 550h0M722 549h0M514 555h0M616 554h0M646 555h0M653 553h0M656 554h0M489 558h0M503 557h0M636 559h0M649 557h0M679 557h0M765 558h0M769 558h0M513 561h0M644 562h0M647 562h0M667 563h0M669 561h0M489 566h0M504 567h0M595 565h0M598 565h0M610 565h0M673 565h0M676 565h0M761 566h0M490 571h0M506 569h0M508 569h0M600 569h0M639 571h0M698 569h0M749 571h0M494 583h0M504 582h0M576 583h0M628 583h0M748 582h0M750 583h0M756 582h0M564 586h0M582 585h0M642 587h0M757 586h0M562 592h0M566 592h0M582 591h0M603 591h0M495 595h0M589 594h0M611 596h0M625 596h0M662 596h0M586 598h0M604 600h0M626 599h0M636 600h0M773 600h0M601 604h0M611 603h0M615 603h0M620 605h0M633 603h0M643 603h0M631 609h0M564 613h0M588 611h0M602 611h0M610 612h0M568 617h0M577 615h0M582 616h0M586 615h0M599 615h0M610 614h0M614 615h0M623 616h0M631 615h0M502 618h0M560 619h0M614 619h0M624 620h0M630 620h0M562 625h0M566 623h0M590 625h0M632 623h0"/><path stroke="#00e5ff" d="M710 417h0M715 416h0M699 428h0M715 430h0M749 428h0M650 435h0M699 433h0M720 434h0M718 437h0M714 442h0M552 446h0M665 447h0M711 445h0M734 446h0M466 450h0M736 451h0M525 455h0M561 454h0M564 454h0M690 455h0M704 455h0M713 454h0M717 454h0M730 455h0M525 457h0M723 457h0M460 463h0M468 462h0M513 462h0M528 463h0M587 463h0M457 468h0M475 466h0M484 466h0M488 467h0M513 467h0M557 466h0M573 466h0M581 468h0M672 467h0M678 465h0M691 466h0M458 469h0M491 470h0M578 470h0M471 475h0M476 475h0M567 474h0M695 474h0M760 476h0M492 479h0M561 479h0M597 480h0M694 480h0M734 479h0M740 478h0M467 484h0M664 483h0M672 484h0M678 482h0M710 483h0M479 488h0M543 486h0M574 488h0M597 488h0M671 487h0M688 487h0M693 489h0M703 486h0M722 487h0M739 486h0M479 491h0M664 492h0M761 493h0M469 496h0M560 497h0M564 495h0M573 495h0M579 494h0M763 495h0M526 501h0M529 500h0M580 501h0M656 499h0M757 500h0M519 504h0M533 504h0M555 503h0M573 505h0M684 505h0M722 504h0M748 505h0M517 508h0M521 507h0M665 508h0M719 508h0M615 512h0M658 511h0M661 512h0M502 517h0M530 517h0M608 518h0M630 516h0M646 518h0M651 517h0M654 516h0M664 516h0M690 516h0M520 520h0M596 520h0M611 519h0M637 521h0M676 520h0M707 522h0M757 522h0M520 525h0M658 524h0M704 525h0M606 529h0M624 529h0M654 529h0M697 530h0M717 529h0M764 530h0M503 534h0M507 534h0M691 532h0M697 533h0M500 536h0M626 536h0M679 538h0M685 537h0M688 537h0M698 537h0M703 537h0M762 538h0M481 540h0M604 541h0M700 541h0M617 545h0M634 546h0M639 544h0M685 544h0M692 546h0M702 544h0M759 547h0M494 548h0M596 551h0M622 551h0M631 549h0M673 550h0M697 549h0M706 549h0M709 550h0M714 551h0M766 550h0M593 553h0M621 553h0M679 553h0M494 557h0M499 558h0M646 559h0M655 558h0M659 559h0M663 558h0M672 559h0M602 561h0M657 563h0M703 562h0M758 563h0M767 562h0M483 567h0M764 566h0M775 565h0M496 570h0M591 571h0M692 570h0M754 572h0M493 574h0M586 573h0M589 574h0M751 574h0M495 579h0M508 579h0M588 579h0M749 579h0M752 579h0M757 578h0M561 587h0M494 591h0M609 591h0M762 591h0M764 591h0M561 595h0M768 595h0M498 600h0M582 599h0M614 598h0M619 599h0M621 598h0M651 600h0M654 600h0M770 598h0M607 604h0M639 602h0M585 608h0M637 606h0M578 611h0M629 610h0M572 617h0M616 617h0M628 616h0M504 620h0M571 619h0M600 619h0M593 623h0M599 623h0M603 625h0"/><path stroke="#00ffff" d="M718 417h0M724 417h0M707 421h0M734 421h0M734 424h0M736 426h0M745 429h0M711 442h0M661 447h0M725 446h0M529 451h0M695 451h0M705 450h0M464 455h0M736 453h0M739 453h0M530 458h0M553 457h0M692 459h0M727 459h0M477 463h0M481 462h0M555 462h0M697 463h0M461 467h0M465 468h0M502 467h0M575 467h0M585 466h0M487 469h0M502 470h0M513 472h0M574 472h0M690 472h0M693 470h0M749 472h0M752 471h0M499 476h0M678 476h0M719 474h0M589 480h0M592 480h0M680 478h0M698 480h0M492 484h0M531 484h0M545 484h0M548 483h0M552 484h0M558 483h0M562 482h0M725 484h0M728 484h0M538 488h0M546 488h0M708 488h0M711 486h0M735 486h0M502 493h0M530 493h0M545 490h0M573 492h0M600 490h0M669 493h0M673 492h0M713 492h0M476 496h0M505 495h0M524 495h0M607 497h0M721 496h0M759 497h0M535 500h0M540 500h0M549 500h0M552 499h0M765 499h0M468 505h0M472 504h0M663 503h0M665 504h0M513 507h0M539 509h0M678 507h0M747 507h0M500 512h0M506 513h0M514 511h0M518 513h0M612 513h0M648 512h0M652 512h0M666 512h0M489 516h0M495 515h0M498 516h0M518 516h0M614 516h0M619 516h0M623 515h0M626 517h0M672 516h0M677 517h0M683 516h0M695 515h0M706 517h0M523 519h0M601 521h0M616 521h0M620 520h0M653 520h0M716 520h0M503 524h0M527 524h0M530 524h0M598 525h0M636 526h0M650 524h0M709 524h0M603 530h0M694 529h0M490 532h0M520 532h0M600 534h0M631 533h0M635 532h0M701 532h0M765 532h0M481 537h0M515 536h0M602 537h0M693 537h0M621 541h0M641 541h0M672 540h0M761 542h0M491 547h0M597 545h0M619 546h0M721 546h0M771 545h0M619 550h0M677 550h0M681 551h0M699 548h0M770 550h0M495 555h0M601 554h0M766 553h0M517 558h0M641 559h0M701 559h0M570 561h0M573 561h0M587 562h0M598 561h0M675 563h0M763 561h0M512 565h0M589 566h0M604 566h0M696 567h0M769 565h0M486 570h0M589 569h0M597 571h0M576 575h0M756 575h0M498 583h0M568 584h0M571 582h0M581 581h0M761 583h0M635 588h0M559 592h0M571 590h0M778 591h0M569 595h0M583 594h0M614 594h0M620 594h0M771 595h0M777 594h0M659 599h0M501 604h0M565 603h0M579 602h0M576 606h0M504 612h0M606 612h0M603 617h0M575 619h0M591 621h0M596 621h0M607 620h0M610 620h0M559 624h0"/><path stroke="#1affe5" d="M701 427h0M728 425h0M722 430h0M740 430h0M754 429h0M733 432h0M737 433h0M709 438h0M706 441h0M738 447h0M724 450h0M727 449h0M527 456h0M541 454h0M697 455h0M708 453h0M457 458h0M545 459h0M696 458h0M701 458h0M733 458h0M473 463h0M510 463h0M534 462h0M591 463h0M697 465h0M474 471h0M476 470h0M483 470h0M557 470h0M697 470h0M727 470h0M732 470h0M759 472h0M481 474h0M502 474h0M571 474h0M578 476h0M692 476h0M474 479h0M477 478h0M500 480h0M515 480h0M540 479h0M550 480h0M555 479h0M565 480h0M583 479h0M707 480h0M499 483h0M520 482h0M526 484h0M566 483h0M577 484h0M734 485h0M737 484h0M741 483h0M468 488h0M482 486h0M496 486h0M554 486h0M568 486h0M511 491h0M562 492h0M568 492h0M576 491h0M584 492h0M677 492h0M695 490h0M464 496h0M603 495h0M662 495h0M475 500h0M479 501h0M517 499h0M545 501h0M660 499h0M478 505h0M582 505h0M670 503h0M470 507h0M476 508h0M576 507h0M667 508h0M757 508h0M472 513h0M509 511h0M607 513h0M670 512h0M693 513h0M520 515h0M534 516h0M604 518h0M686 517h0M761 517h0M592 522h0M642 522h0M679 520h0M704 521h0M596 525h0M679 524h0M700 524h0M718 526h0M482 527h0M487 529h0M491 529h0M524 530h0M528 527h0M688 528h0M713 529h0M649 533h0M706 532h0M598 538h0M639 538h0M674 538h0M513 541h0M563 542h0M599 540h0M635 541h0M691 542h0M696 540h0M482 546h0M505 545h0M594 545h0M689 545h0M764 546h0M486 550h0M490 550h0M497 550h0M511 550h0M590 548h0M692 550h0M492 552h0M499 552h0M587 553h0M598 553h0M685 553h0M573 558h0M577 557h0M580 558h0M586 558h0M600 556h0M687 557h0M578 561h0M582 563h0M593 562h0M639 560h0M660 561h0M587 566h0M700 565h0M499 571h0M758 570h0M767 569h0M772 570h0M498 574h0M509 573h0M580 573h0M762 586h0M498 590h0M500 595h0M566 596h0M573 595h0M578 595h0M571 598h0M607 600h0M562 602h0M582 610h0M589 621h0"/><path stroke="#33ffcc" d="M727 420h0M731 420h0M725 424h0M703 430h0M734 430h0M723 433h0M735 437h0M720 441h0M718 446h0M722 445h0M709 449h0M719 450h0M732 450h0M531 455h0M538 454h0M694 454h0M727 454h0M534 460h0M541 458h0M539 462h0M547 464h0M507 467h0M702 472h0M743 471h0M495 475h0M527 475h0M530 474h0M555 476h0M683 474h0M687 474h0M702 475h0M705 475h0M520 478h0M537 479h0M546 478h0M570 480h0M579 480h0M683 478h0M689 479h0M702 479h0M471 483h0M485 484h0M489 483h0M517 485h0M535 483h0M539 483h0M571 484h0M701 483h0M705 483h0M534 487h0M552 488h0M566 486h0M581 491h0M596 491h0M481 496h0M510 495h0M547 496h0M554 496h0M665 496h0M707 495h0M711 495h0M718 496h0M467 500h0M469 500h0M485 499h0M490 501h0M586 500h0M605 498h0M664 498h0M761 499h0M482 503h0M513 505h0M537 504h0M543 504h0M545 503h0M551 505h0M675 503h0M679 504h0M502 508h0M508 507h0M544 509h0M563 507h0M682 509h0M760 507h0M469 512h0M477 513h0M491 513h0M495 511h0M602 511h0M676 511h0M481 518h0M483 515h0M599 517h0M709 517h0M714 516h0M500 520h0M531 522h0M589 521h0M646 521h0M713 519h0M535 525h0M623 526h0M681 526h0M756 526h0M497 528h0M530 534h0M539 534h0M645 534h0M588 538h0M594 538h0M629 538h0M634 536h0M559 542h0M585 540h0M508 546h0M575 544h0M578 545h0M767 545h0M503 549h0M507 549h0M517 551h0M572 549h0M487 553h0M690 554h0M698 555h0M773 554h0M567 558h0M566 561h0M680 563h0M515 567h0M581 566h0M683 567h0M515 570h0M583 571h0M502 575h0M572 574h0M501 578h0M573 578h0M579 579h0M583 579h0M512 583h0M497 587h0M505 587h0M638 586h0M504 591h0M575 591h0M505 594h0M557 594h0M502 600h0M568 600h0M576 599h0M564 606h0M566 609h0M572 606h0M509 616h0M511 616h0M557 615h0M579 620h0M571 623h0M577 624h0"/><path stroke="#4dffb2" d="M713 420h0M716 420h0M722 421h0M705 424h0M719 426h0M725 430h0M743 433h0M722 437h0M740 437h0M713 449h0M459 454h0M721 455h0M543 464h0M551 462h0M549 468h0M553 468h0M699 466h0M732 467h0M737 466h0M747 467h0M722 471h0M735 471h0M740 472h0M710 474h0M715 474h0M481 479h0M573 478h0M476 482h0M479 482h0M586 484h0M486 487h0M525 487h0M561 487h0M579 488h0M587 487h0M549 490h0M554 492h0M557 492h0M590 491h0M691 492h0M700 491h0M710 493h0M486 497h0M550 496h0M589 497h0M495 500h0M600 503h0M690 505h0M717 505h0M768 505h0M567 507h0M600 507h0M673 508h0M487 513h0M711 512h0M763 511h0M595 517h0M700 515h0M527 522h0M499 525h0M591 526h0M627 524h0M687 525h0M692 525h0M696 524h0M715 524h0M533 528h0M591 528h0M766 527h0M525 534h0M536 533h0M529 537h0M767 538h0M580 541h0M591 540h0M596 540h0M632 540h0M569 546h0M584 546h0M589 545h0M568 548h0M577 550h0M585 550h0M686 550h0M481 554h0M519 554h0M584 553h0M683 562h0M698 562h0M572 565h0M691 566h0M569 571h0M762 570h0M762 574h0M504 578h0M562 584h0M499 587h0M509 587h0M513 586h0M508 590h0M569 603h0M573 604h0M504 608h0M516 608h0M511 611h0M511 621h0M508 623h0M581 623h0"/><path stroke="#66ff99" d="M710 426h0M715 424h0M709 428h0M712 429h0M729 430h0M729 433h0M746 433h0M734 441h0M736 441h0M759 442h0M457 451h0M461 450h0M745 454h0M713 457h0M737 459h0M506 463h0M702 463h0M522 467h0M545 467h0M728 468h0M743 468h0M751 467h0M518 472h0M528 472h0M533 471h0M541 472h0M484 474h0M489 476h0M507 475h0M535 474h0M538 474h0M544 474h0M486 478h0M524 478h0M511 484h0M580 484h0M463 488h0M501 488h0M504 489h0M527 489h0M494 492h0M498 490h0M491 495h0M591 494h0M598 496h0M670 495h0M690 495h0M498 499h0M599 499h0M668 501h0M672 500h0M678 501h0M719 501h0M510 505h0M480 509h0M494 508h0M499 508h0M547 508h0M572 509h0M714 507h0M543 512h0M680 511h0M685 513h0M698 512h0M470 516h0M474 515h0M488 520h0M699 521h0M484 524h0M586 525h0M631 525h0M477 528h0M597 529h0M483 534h0M641 534h0M541 536h0M515 540h0M567 540h0M628 541h0M766 541h0M770 540h0M477 546h0M515 545h0M581 549h0M479 553h0M575 553h0M579 553h0M695 554h0M563 558h0M590 557h0M696 559h0M561 562h0M575 567h0M687 566h0M566 570h0M573 569h0M578 570h0M568 575h0M568 578h0M763 579h0M777 586h0M512 591h0M510 594h0M562 599h0M515 604h0M557 604h0M559 606h0M514 613h0M550 611h0M561 611h0M556 619h0M584 621h0M512 623h0"/><path stroke="#80ff80" d="M731 438h0M741 441h0M743 451h0M454 456h0M748 455h0M719 458h0M741 459h0M738 462h0M706 468h0M547 471h0M550 469h0M711 471h0M717 471h0M517 474h0M520 474h0M548 476h0M533 478h0M490 488h0M509 487h0M515 488h0M584 487h0M525 491h0M686 492h0M496 496h0M500 497h0M513 495h0M518 497h0M697 495h0M704 494h0M513 500h0M693 504h0M698 504h0M554 508h0M582 508h0M709 509h0M765 509h0M482 513h0M766 517h0M491 519h0M537 521h0M684 521h0M762 522h0M489 524h0M584 528h0M587 529h0M545 532h0M570 534h0M577 534h0M591 534h0M593 532h0M477 537h0M525 537h0M538 537h0M564 538h0M583 537h0M771 537h0M571 542h0M564 554h0M570 554h0M522 558h0M594 557h0M691 556h0M695 561h0M520 567h0M568 566h0M520 569h0M515 580h0M517 582h0M765 583h0M767 586h0M772 586h0M513 595h0M507 600h0M540 603h0M550 604h0M508 609h0M552 609h0M555 611h0M554 615h0M514 621h0M517 623h0"/><path stroke="#99ff66" d="M752 433h0M743 438h0M757 443h0M706 459h0M734 463h0M743 461h0M748 463h0M526 467h0M531 466h0M723 468h0M755 466h0M524 471h0M538 470h0M707 470h0M511 476h0M520 488h0M462 490h0M681 493h0M706 493h0M675 495h0M503 500h0M591 500h0M595 499h0M683 500h0M702 499h0M706 501h0M485 505h0M490 504h0M598 503h0M703 503h0M713 505h0M489 508h0M558 509h0M704 507h0M548 511h0M597 511h0M703 511h0M706 513h0M549 516h0M477 520h0M483 522h0M480 525h0M581 525h0M760 524h0M473 529h0M479 534h0M547 533h0M770 532h0M570 538h0M579 537h0M475 540h0M576 540h0M564 547h0M479 550h0M563 548h0M690 561h0M561 570h0M512 573h0M564 580h0M520 584h0M550 596h0M513 600h0M515 600h0M506 604h0M510 605h0M518 603h0M547 604h0M511 607h0M544 607h0M548 607h0M516 614h0M550 615h0"/><path stroke="#b3ff4c" d="M755 434h0M725 438h0M725 441h0M727 441h0M745 442h0M745 445h0M539 467h0M503 483h0M488 492h0M506 500h0M714 499h0M495 505h0M500 505h0M504 505h0M589 505h0M707 504h0M483 507h0M689 512h0M541 517h0M554 516h0M590 517h0M473 521h0M497 520h0M582 520h0M690 521h0M474 525h0M493 524h0M540 526h0M537 528h0M547 530h0M550 529h0M475 534h0M581 532h0M584 533h0M519 538h0M532 538h0M574 538h0M538 554h0M541 554h0M539 558h0M544 557h0M557 559h0M519 562h0M557 565h0M766 575h0M519 586h0M555 588h0M552 592h0M544 599h0M540 607h0M520 610h0M545 612h0M519 621h0M521 625h0"/><path stroke="#ccff33" d="M748 437h0M754 438h0M757 446h0M754 455h0M709 459h0M747 459h0M708 462h0M730 463h0M754 463h0M710 466h0M720 468h0M504 480h0M528 478h0M484 490h0M521 490h0M693 496h0M686 499h0M711 500h0M586 508h0M595 507h0M688 509h0M700 508h0M551 512h0M571 511h0M545 517h0M768 517h0M470 522h0M542 522h0M694 521h0M471 524h0M764 525h0M770 524h0M543 530h0M555 529h0M520 546h0M560 546h0M525 553h0M560 553h0M538 562h0M541 563h0M545 561h0M556 561h0M549 566h0M554 567h0M563 566h0M524 569h0M551 570h0M769 574h0M518 579h0M517 590h0M549 592h0M546 595h0M558 599h0M542 621h0M546 621h0M540 625h0"/><path stroke="#e5ff1a" d="M757 438h0M751 443h0M751 451h0M755 449h0M750 459h0M711 464h0M721 462h0M725 462h0M536 468h0M509 480h0M506 483h0M679 497h0M685 495h0M593 505h0M590 507h0M690 509h0M697 508h0M591 511h0M579 522h0M767 522h0M545 526h0M549 525h0M559 525h0M579 529h0M553 533h0M567 534h0M561 538h0M540 541h0M544 540h0M553 541h0M554 545h0M546 553h0M550 559h0M552 558h0M552 561h0M526 566h0M530 567h0M545 567h0M546 569h0M554 571h0M555 583h0M557 581h0M537 602h0M522 608h0M552 620h0M543 624h0M548 623h0M552 624h0"/><path stroke="#ffff00" d="M753 446h0M746 449h0M759 451h0M758 464h0M715 467h0M759 465h0M517 492h0M697 501h0M556 511h0M565 512h0M588 513h0M586 516h0M545 522h0M552 524h0M521 541h0M535 540h0M549 541h0M547 546h0M551 545h0M522 549h0M541 550h0M543 548h0M554 550h0M557 550h0M528 553h0M556 554h0M534 557h0M534 566h0M541 566h0M555 573h0M559 575h0M562 575h0M774 574h0M767 580h0M551 587h0M520 595h0M536 608h0M541 613h0M539 620h0"/><path stroke="#ffe500" d="M749 446h0M758 455h0M755 459h0M716 463h0M561 512h0M574 513h0M578 512h0M584 513h0M576 516h0M582 518h0M550 521h0M564 524h0M560 530h0M558 534h0M546 538h0M532 540h0M522 545h0M543 544h0M536 549h0M550 551h0M532 553h0M551 554h0M526 559h0M529 557h0M524 561h0M527 571h0M532 570h0M536 570h0M526 574h0M530 574h0M534 575h0M538 574h0M543 575h0M550 575h0M525 580h0M529 578h0M557 577h0M561 577h0M772 578h0M777 580h0M544 582h0M550 581h0M770 582h0M775 581h0M522 588h0M538 587h0M540 588h0M546 588h0M522 592h0M532 592h0M541 591h0M544 592h0M523 594h0M529 594h0M542 595h0M522 598h0M539 598h0M548 600h0M553 600h0M523 604h0M526 608h0M524 612h0M528 613h0M531 610h0M539 612h0M522 617h0M525 617h0M543 616h0M523 620h0M526 624h0M531 625h0M534 623h0"/><path stroke="#ffcc00" d="M761 459h0M691 500h0M558 518h0M563 517h0M567 515h0M571 517h0M555 519h0M560 520h0M566 520h0M570 519h0M574 520h0M568 524h0M573 526h0M576 524h0M566 529h0M569 530h0M575 529h0M561 532h0M551 537h0M555 537h0M526 542h0M528 547h0M533 544h0M537 545h0M526 548h0M531 548h0M529 561h0M532 563h0M541 571h0M517 575h0M522 574h0M531 578h0M537 578h0M541 578h0M547 578h0M551 577h0M525 583h0M530 583h0M536 583h0M538 583h0M527 586h0M532 587h0M527 590h0M535 590h0M533 594h0M536 594h0M526 598h0M529 598h0M536 599h0M529 603h0M533 604h0M531 607h0M531 616h0M536 617h0M540 616h0M527 620h0M532 621h0"/></g></g>
<use href="#map"/>
</g>
<rect x="441.50" y="95.50" width="23.00" height="215.00" fill="url(#jet)" stroke="#262626" stroke-width="1"/>
<path d="M464.50 203.00h-2.3" stroke="#262626" stroke-width="1"/>
<text class="b c" x="472.6" y="103.9">100</text>
<text class="b c" x="472.6" y="211.4">50</text>
<text class="b c" x="472.6" y="318.9">0</text>
<text class="b x" y="340.8"><tspan x="140.2">SAT</tspan><tspan x="197.0">150</tspan><tspan x="252.4">hPa</tspan><tspan x="309.5">RH</tspan><tspan x="355.7">(Percent)</tspan></text>
<text class="b t" x="214.6" y="76.9">100</text>
<text class="b d" x="245.1" y="70.6" text-anchor="middle">°</text>
<text class="b t" x="252.7" y="76.9">W</text>
<text class="b t" x="283.8" y="76.9">90</text>
<text class="b d" x="305.3" y="70.6" text-anchor="middle">°</text>
<text class="b t" x="312.9" y="76.9">W</text>
<text class="b t" x="347.8" y="76.9">80</text>
<text class="b d" x="369.3" y="70.6" text-anchor="middle">°</text>
<text class="b t" x="376.9" y="76.9">W</text>
<text class="b t" x="411.4" y="76.9">70</text>
<text class="b d" x="432.9" y="70.6" text-anchor="middle">°</text>
<text class="b t" x="440.5" y="76.9">W</text>
<text class="b t" x="145.7" y="113.7">48</text>
<text class="b d" x="168.6" y="107.6" text-anchor="middle">°</text>
<text class="b t" x="174.7" y="113.7">N</text>
<text class="b t" x="145.7" y="131.2">46</text>
<text class="b d" x="168.6" y="125.1" text-anchor="middle">°</text>
<text class="b t" x="174.7" y="131.2">N</text>
<text class="b t" x="145.7" y="148.2">44</text>
<text class="b d" x="168.6" y="142.1" text-anchor="middle">°</text>
<text class="b t" x="174.7" y="148.2">N</text>
<text class="b t" x="145.7" y="167.2">42</text>
<text class="b d" x="168.6" y="161.1" text-anchor="middle">°</text>
<text class="b t" x="174.7" y="167.2">N</text>
<text class="b t" x="145.7" y="183.4">40</text>
<text class="b d" x="168.6" y="177.3" text-anchor="middle">°</text>
<text class="b t" x="174.7" y="183.4">N</text>
<text class="b t" x="145.7" y="198.4">38</text>
<text class="b d" x="168.6" y="192.3" text-anchor="middle">°</text>
<text class="b t" x="174.7" y="198.4">N</text>
<text class="b t" x="145.7" y="215.2">36</text>
<text class="b d" x="168.6" y="209.1" text-anchor="middle">°</text>
<text class="b t" x="174.7" y="215.2">N</text>
<text class="b t" x="145.7" y="229.7">34</text>
<text class="b d" x="168.6" y="223.6" text-anchor="middle">°</text>
<text class="b t" x="174.7" y="229.7">N</text>
<text class="b t" x="145.7" y="246.7">32</text>
<text class="b d" x="168.6" y="240.6" text-anchor="middle">°</text>
<text class="b t" x="174.7" y="246.7">N</text>
<text class="b t" x="145.7" y="260.7">30</text>
<text class="b d" x="168.6" y="254.6" text-anchor="middle">°</text>
<text class="b t" x="174.7" y="260.7">N</text>
<text class="b t" x="145.7" y="273.2">28</text>
<text class="b d" x="168.6" y="267.1" text-anchor="middle">°</text>
<text class="b t" x="174.7" y="273.2">N</text>
<text class="b t" x="145.7" y="288.0">26</text>
<text class="b d" x="168.6" y="281.9" text-anchor="middle">°</text>
<text class="b t" x="174.7" y="288.0">N</text>
<text class="b t" x="145.7" y="302.5">24</text>
<text class="b d" x="168.6" y="296.4" text-anchor="middle">°</text>
<text class="b t" x="174.7" y="302.5">N</text>
<text class="b t" x="145.7" y="315.8">22</text>
<text class="b d" x="168.6" y="309.7" text-anchor="middle">°</text>
<text class="b t" x="174.7" y="315.8">N</text>
<rect x="617.25" y="96.80" width="233.00" height="212.60" fill="#fff" stroke="#262626" stroke-width="1"/>
<g transform="translate(617.25,96.80) scale(1.00000,1.00000)">
<g clip-path="url(#cd)"><g class="D" transform="translate(-196.50,-96.80)"><circle cx="256.2" cy="222.4" fill="#0000eb"/><circle cx="265.7" cy="251.6" fill="#00d8ff"/><circle cx="248.0" cy="224.2" fill="#0088ff"/><circle cx="305.6" cy="260.7" fill="#0056ff"/><circle cx="335.6" cy="258.2" fill="#0007ff"/><circle cx="276.3" cy="288.0" fill="#0096ff"/><circle cx="372.5" cy="233.5" fill="#0079ff"/><circle cx="334.0" cy="267.6" fill="#00afff"/><circle cx="339.6" cy="295.0" fill="#0041ff"/><circle cx="317.6" cy="253.7" fill="#0042ff"/><circle cx="318.1" cy="250.4" fill="#0016ff"/><circle cx="340.2" cy="281.7" fill="#0005ff"/><circle cx="307.0" cy="263.6" fill="#0046ff"/><circle cx="288.6" cy="273.7" fill="#0025ff"/><circle cx="303.7" cy="300.4" fill="#0000da"/><circle cx="348.6" cy="223.6" fill="#01fffe"/><circle cx="359.1" cy="279.2" fill="#00c3ff"/><circle cx="375.4" cy="261.9" fill="#00e7ff"/><circle cx="377.7" cy="304.7" fill="#0012ff"/><circle cx="289.1" cy="277.5" fill="#0048ff"/><circle cx="295.3" cy="286.7" fill="#2fffd0"/><circle cx="344.2" cy="308.7" fill="#0000c0"/><circle cx="353.5" cy="283.7" fill="#0083ff"/><circle cx="295.1" cy="279.3" fill="#0051ff"/><circle cx="274.7" cy="272.7" fill="#0000fd"/><circle cx="328.4" cy="289.0" fill="#0018ff"/><circle cx="318.6" cy="212.9" fill="#12ffed"/><circle cx="388.8" cy="312.1" fill="#0012ff"/><circle cx="250.8" cy="246.1" fill="#00f5ff"/><circle cx="276.3" cy="218.1" fill="#00ffff"/><circle cx="302.3" cy="210.4" fill="#00bbff"/><circle cx="253.9" cy="251.8" fill="#007cff"/><circle cx="359.0" cy="224.5" fill="#22ffdd"/><circle cx="249.5" cy="243.2" fill="#00ccff"/><circle cx="341.3" cy="238.3" fill="#05fffa"/><circle cx="371.3" cy="211.2" fill="#00e6ff"/><circle cx="299.1" cy="298.8" fill="#0000f5"/><circle cx="325.6" cy="220.1" fill="#00c5ff"/><circle cx="265.3" cy="277.4" fill="#0021ff"/><circle cx="321.2" cy="244.1" fill="#0084ff"/><circle cx="319.0" cy="302.8" fill="#0000f7"/><circle cx="332.3" cy="304.4" fill="#0000b4"/><circle cx="253.2" cy="283.7" fill="#0000ed"/><circle cx="341.4" cy="264.4" fill="#00bbff"/><circle cx="331.2" cy="218.2" fill="#00f2ff"/><circle cx="312.6" cy="235.4" fill="#00beff"/><circle cx="383.3" cy="295.2" fill="#00afff"/><circle cx="270.1" cy="299.2" fill="#0074ff"/><circle cx="330.4" cy="203.9" fill="#ffe500"/><circle cx="347.4" cy="264.5" fill="#0044ff"/><circle cx="261.1" cy="290.2" fill="#0066ff"/><circle cx="307.8" cy="258.4" fill="#0024ff"/><circle cx="259.9" cy="291.7" fill="#0000fe"/><circle cx="348.0" cy="207.2" fill="#fff600"/><circle cx="270.3" cy="248.0" fill="#002aff"/><circle cx="370.0" cy="267.5" fill="#00a7ff"/><circle cx="269.3" cy="228.6" fill="#00c0ff"/><circle cx="272.9" cy="223.3" fill="#04fffb"/><circle cx="367.6" cy="266.2" fill="#00a6ff"/><circle cx="296.8" cy="251.4" fill="#0000b0"/><circle cx="352.1" cy="218.0" fill="#42ffbd"/><circle cx="370.8" cy="236.3" fill="#0090ff"/><circle cx="274.2" cy="275.9" fill="#00009e"/><circle cx="322.0" cy="252.1" fill="#001cff"/><circle cx="327.1" cy="261.3" fill="#0000ed"/><circle cx="271.1" cy="283.3" fill="#00aeff"/><circle cx="234.4" cy="230.3" fill="#007eff"/><circle cx="292.2" cy="280.6" fill="#0000b5"/><circle cx="341.1" cy="219.2" fill="#00f6ff"/><circle cx="261.1" cy="300.9" fill="#0007ff"/><circle cx="369.7" cy="255.8" fill="#0000dd"/><circle cx="344.8" cy="291.5" fill="#0047ff"/><circle cx="334.4" cy="310.4" fill="#0000f4"/><circle cx="357.4" cy="249.1" fill="#004aff"/><circle cx="305.3" cy="224.1" fill="#00d1ff"/><circle cx="292.6" cy="226.6" fill="#00e7ff"/><circle cx="308.8" cy="297.6" fill="#0083ff"/><circle cx="287.2" cy="238.2" fill="#00edff"/><circle cx="340.2" cy="206.7" fill="#7bff84"/><circle cx="368.9" cy="213.1" fill="#56ffa9"/><circle cx="304.6" cy="308.5" fill="#0075ff"/><circle cx="283.6" cy="295.5" fill="#00afff"/><circle cx="287.1" cy="271.4" fill="#009fff"/><circle cx="297.6" cy="286.7" fill="#00c4ff"/><circle cx="313.8" cy="299.4" fill="#0000fe"/><circle cx="281.8" cy="240.1" fill="#0046ff"/><circle cx="295.1" cy="292.3" fill="#000aff"/><circle cx="346.6" cy="290.2" fill="#0000a1"/><circle cx="341.6" cy="199.3" fill="#f6ff09"/><circle cx="294.4" cy="277.6" fill="#0030ff"/><circle cx="314.1" cy="282.8" fill="#00beff"/><circle cx="246.7" cy="227.0" fill="#0098ff"/><circle cx="241.4" cy="237.0" fill="#0074ff"/><circle cx="278.2" cy="279.6" fill="#0031ff"/><circle cx="324.9" cy="288.8" fill="#0000b2"/><circle cx="249.5" cy="294.8" fill="#003fff"/><circle cx="314.1" cy="307.5" fill="#0000bf"/><circle cx="379.0" cy="276.4" fill="#00c8ff"/><circle cx="244.7" cy="279.4" fill="#0000fb"/><circle cx="280.9" cy="235.6" fill="#002bff"/><circle cx="348.0" cy="240.1" fill="#4effb1"/><circle cx="356.1" cy="291.9" fill="#0000b9"/><circle cx="282.3" cy="307.3" fill="#0023ff"/><circle cx="234.5" cy="260.1" fill="#0039ff"/><circle cx="309.0" cy="243.1" fill="#0000cf"/><circle cx="321.3" cy="207.3" fill="#a3ff5c"/><circle cx="301.2" cy="213.8" fill="#00c1ff"/><circle cx="290.6" cy="296.2" fill="#0039ff"/><circle cx="241.1" cy="280.8" fill="#0000f6"/><circle cx="278.3" cy="214.7" fill="#00d6ff"/><circle cx="295.0" cy="217.5" fill="#00faff"/><circle cx="263.7" cy="308.5" fill="#0079ff"/><circle cx="351.7" cy="307.1" fill="#00009e"/><circle cx="308.5" cy="216.3" fill="#0bfff4"/><circle cx="258.7" cy="218.0" fill="#0014ff"/><circle cx="289.2" cy="301.4" fill="#004cff"/><circle cx="319.8" cy="241.9" fill="#005bff"/><circle cx="387.9" cy="301.9" fill="#005dff"/><circle cx="372.2" cy="251.1" fill="#0000cf"/><circle cx="296.2" cy="262.0" fill="#001dff"/><circle cx="285.0" cy="260.7" fill="#006eff"/><circle cx="347.2" cy="276.8" fill="#00ebff"/><circle cx="356.7" cy="229.2" fill="#00bfff"/><circle cx="364.6" cy="276.6" fill="#007dff"/><circle cx="312.1" cy="264.8" fill="#000cff"/><circle cx="290.5" cy="266.5" fill="#0063ff"/><circle cx="235.9" cy="226.8" fill="#008cff"/><circle cx="253.0" cy="242.3" fill="#007cff"/><circle cx="265.5" cy="298.2" fill="#004bff"/><circle cx="279.5" cy="308.3" fill="#00009e"/><circle cx="257.6" cy="294.9" fill="#0000e6"/><circle cx="331.9" cy="226.0" fill="#36ffc9"/><circle cx="282.1" cy="225.3" fill="#00f8ff"/><circle cx="245.4" cy="236.4" fill="#0055ff"/><circle cx="351.6" cy="207.2" fill="#ffd300"/><circle cx="342.5" cy="310.7" fill="#0003ff"/><circle cx="288.9" cy="225.5" fill="#00dcff"/><circle cx="292.8" cy="264.4" fill="#006eff"/><circle cx="299.4" cy="217.4" fill="#00f6ff"/><circle cx="309.9" cy="249.1" fill="#00009e"/><circle cx="328.4" cy="301.1" fill="#0000d4"/><circle cx="332.7" cy="281.9" fill="#000eff"/><circle cx="244.3" cy="223.8" fill="#004cff"/><circle cx="271.0" cy="304.7" fill="#0000b8"/><circle cx="364.2" cy="216.1" fill="#00c8ff"/><circle cx="258.5" cy="311.2" fill="#000aff"/><circle cx="274.3" cy="292.7" fill="#0000ed"/><circle cx="369.4" cy="308.8" fill="#0000e7"/><circle cx="257.0" cy="307.6" fill="#0087ff"/><circle cx="255.4" cy="311.6" fill="#0016ff"/><circle cx="292.5" cy="250.8" fill="#0000a8"/><circle cx="347.2" cy="306.9" fill="#002bff"/><circle cx="308.0" cy="295.3" fill="#0018ff"/><circle cx="345.6" cy="297.7" fill="#00009e"/><circle cx="359.0" cy="305.7" fill="#0000d1"/><circle cx="358.6" cy="246.0" fill="#00e7ff"/><circle cx="249.0" cy="218.1" fill="#00ecff"/><circle cx="351.0" cy="269.3" fill="#00faff"/><circle cx="324.0" cy="310.5" fill="#0000a0"/><circle cx="328.5" cy="223.0" fill="#84ff7b"/><circle cx="253.1" cy="290.2" fill="#0000de"/><circle cx="303.5" cy="256.8" fill="#00009e"/><circle cx="274.4" cy="269.8" fill="#0021ff"/><circle cx="353.3" cy="285.8" fill="#00c8ff"/><circle cx="341.0" cy="204.0" fill="#ffe300"/><circle cx="337.2" cy="219.9" fill="#25ffda"/><circle cx="358.5" cy="225.9" fill="#00bfff"/><circle cx="258.8" cy="229.6" fill="#13ffec"/><circle cx="250.0" cy="308.2" fill="#0000c4"/><circle cx="352.5" cy="203.9" fill="#ffcb00"/><circle cx="253.2" cy="264.5" fill="#0000cc"/><circle cx="305.0" cy="289.4" fill="#0000ce"/><circle cx="276.9" cy="298.4" fill="#00d7ff"/><circle cx="301.4" cy="274.6" fill="#006eff"/><circle cx="378.9" cy="285.3" fill="#00a7ff"/><circle cx="296.0" cy="255.5" fill="#0029ff"/><circle cx="306.2" cy="285.4" fill="#0000e4"/><circle cx="310.8" cy="245.8" fill="#0000e3"/><circle cx="264.2" cy="300.8" fill="#001aff"/><circle cx="374.0" cy="285.0" fill="#006dff"/><circle cx="312.9" cy="247.8" fill="#0025ff"/><circle cx="383.8" cy="301.4" fill="#0017ff"/><circle cx="246.8" cy="233.2" fill="#005bff"/><circle cx="342.9" cy="258.8" fill="#00b8ff"/><circle cx="316.7" cy="266.1" fill="#00009e"/><circle cx="259.2" cy="236.5" fill="#00acff"/><circle cx="351.0" cy="288.9" fill="#003bff"/><circle cx="333.9" cy="273.6" fill="#0000e4"/><circle cx="345.6" cy="223.9" fill="#e7ff18"/><circle cx="377.4" cy="254.1" fill="#0072ff"/><circle cx="244.4" cy="228.6" fill="#0088ff"/><circle cx="375.0" cy="297.5" fill="#0000e1"/><circle cx="328.3" cy="280.3" fill="#001dff"/><circle cx="284.9" cy="278.7" fill="#005dff"/><circle cx="296.5" cy="244.6" fill="#0000c5"/><circle cx="350.0" cy="264.2" fill="#0054ff"/><circle cx="278.1" cy="264.7" fill="#00ccff"/><circle cx="259.9" cy="239.7" fill="#00a2ff"/><circle cx="337.5" cy="250.7" fill="#000fff"/><circle cx="364.7" cy="223.0" fill="#0025ff"/><circle cx="281.8" cy="229.7" fill="#009aff"/><circle cx="244.3" cy="255.1" fill="#0015ff"/><circle cx="271.5" cy="308.7" fill="#0051ff"/><circle cx="373.3" cy="203.5" fill="#ffd700"/><circle cx="261.1" cy="276.8" fill="#0030ff"/><circle cx="266.2" cy="248.3" fill="#0045ff"/><circle cx="322.8" cy="264.6" fill="#0031ff"/><circle cx="376.2" cy="208.5" fill="#7fff80"/><circle cx="361.0" cy="277.7" fill="#0afff5"/><circle cx="279.2" cy="288.5" fill="#00c0ff"/><circle cx="357.5" cy="295.5" fill="#0000a8"/><circle cx="355.4" cy="254.3" fill="#006eff"/><circle cx="282.1" cy="258.0" fill="#00efff"/><circle cx="249.4" cy="252.3" fill="#0081ff"/><circle cx="313.6" cy="255.6" fill="#0000b7"/><circle cx="316.5" cy="303.7" fill="#00009e"/><circle cx="343.0" cy="295.7" fill="#001cff"/><circle cx="281.5" cy="282.6" fill="#006bff"/><circle cx="250.4" cy="225.6" fill="#00a4ff"/><circle cx="364.6" cy="236.9" fill="#00a1ff"/><circle cx="247.3" cy="220.0" fill="#00d0ff"/><circle cx="373.2" cy="221.3" fill="#002aff"/><circle cx="295.6" cy="243.1" fill="#008bff"/><circle cx="317.1" cy="211.1" fill="#0efff1"/><circle cx="319.4" cy="216.6" fill="#00efff"/><circle cx="287.1" cy="299.5" fill="#0000d5"/><circle cx="301.7" cy="227.0" fill="#0082ff"/><circle cx="248.1" cy="285.0" fill="#00009e"/><circle cx="279.8" cy="280.4" fill="#0004ff"/><circle cx="341.7" cy="216.0" fill="#7bff84"/><circle cx="231.0" cy="242.7" fill="#00f0ff"/><circle cx="252.7" cy="226.9" fill="#0084ff"/><circle cx="305.2" cy="241.3" fill="#0000fc"/><circle cx="331.4" cy="228.8" fill="#00ccff"/><circle cx="380.2" cy="307.7" fill="#0030ff"/><circle cx="283.4" cy="297.4" fill="#0058ff"/><circle cx="370.6" cy="310.1" fill="#0011ff"/><circle cx="334.8" cy="229.6" fill="#11ffee"/><circle cx="323.9" cy="248.6" fill="#0032ff"/><circle cx="283.5" cy="275.5" fill="#0068ff"/><circle cx="367.9" cy="235.1" fill="#0071ff"/><circle cx="303.3" cy="311.9" fill="#0000f5"/><circle cx="228.3" cy="239.9" fill="#00d0ff"/><circle cx="371.5" cy="286.5" fill="#0010ff"/><circle cx="338.5" cy="260.8" fill="#00cfff"/><circle cx="273.4" cy="278.8" fill="#0000f9"/><circle cx="309.0" cy="273.8" fill="#0000e5"/><circle cx="261.9" cy="241.1" fill="#006bff"/><circle cx="292.4" cy="232.5" fill="#00a6ff"/><circle cx="271.5" cy="296.1" fill="#00009e"/><circle cx="265.5" cy="242.5" fill="#0007ff"/><circle cx="339.5" cy="223.3" fill="#20ffdf"/><circle cx="260.7" cy="251.3" fill="#0091ff"/><circle cx="338.9" cy="286.7" fill="#0000af"/><circle cx="286.9" cy="280.1" fill="#006fff"/><circle cx="345.6" cy="228.5" fill="#00c3ff"/><circle cx="314.1" cy="210.8" fill="#007aff"/><circle cx="253.6" cy="258.7" fill="#006aff"/><circle cx="317.6" cy="292.3" fill="#004bff"/><circle cx="374.6" cy="310.3" fill="#0000f4"/><circle cx="317.6" cy="205.1" fill="#007fff"/><circle cx="265.7" cy="290.2" fill="#0049ff"/><circle cx="247.2" cy="257.2" fill="#0058ff"/><circle cx="350.7" cy="250.4" fill="#0000f5"/><circle cx="273.5" cy="266.7" fill="#0085ff"/><circle cx="371.3" cy="198.9" fill="#81ff7e"/><circle cx="362.4" cy="306.7" fill="#00009e"/><circle cx="329.5" cy="275.8" fill="#003aff"/><circle cx="360.8" cy="260.6" fill="#00b2ff"/><circle cx="269.1" cy="294.5" fill="#0095ff"/><circle cx="382.0" cy="278.7" fill="#00deff"/><circle cx="353.1" cy="230.1" fill="#07fff8"/><circle cx="354.7" cy="257.8" fill="#00c4ff"/><circle cx="339.1" cy="288.7" fill="#0000ac"/><circle cx="246.6" cy="252.2" fill="#0021ff"/><circle cx="301.5" cy="263.5" fill="#003bff"/><circle cx="330.5" cy="243.3" fill="#00f2ff"/><circle cx="250.9" cy="273.9" fill="#005bff"/><circle cx="370.9" cy="297.8" fill="#0023ff"/><circle cx="306.8" cy="226.4" fill="#00ecff"/><circle cx="339.8" cy="245.7" fill="#00b1ff"/><circle cx="264.5" cy="295.6" fill="#001dff"/><circle cx="347.9" cy="244.7" fill="#40ffbf"/><circle cx="297.6" cy="232.9" fill="#0098ff"/><circle cx="259.9" cy="304.9" fill="#0048ff"/><circle cx="324.0" cy="236.8" fill="#0064ff"/><circle cx="275.5" cy="257.8" fill="#0000dc"/><circle cx="350.3" cy="232.1" fill="#009fff"/><circle cx="265.6" cy="244.2" fill="#0010ff"/><circle cx="344.1" cy="289.5" fill="#0000bf"/><circle cx="281.0" cy="224.3" fill="#0afff5"/><circle cx="271.1" cy="233.3" fill="#2dffd2"/><circle cx="281.8" cy="213.8" fill="#003cff"/><circle cx="294.0" cy="270.3" fill="#0000fb"/><circle cx="344.8" cy="251.4" fill="#008cff"/><circle cx="369.3" cy="251.0" fill="#0072ff"/><circle cx="350.3" cy="283.8" fill="#0000f5"/><circle cx="299.5" cy="208.9" fill="#00a6ff"/><circle cx="230.5" cy="248.6" fill="#002fff"/><circle cx="275.4" cy="227.6" fill="#0065ff"/><circle cx="341.0" cy="213.9" fill="#ddff22"/><circle cx="283.7" cy="217.4" fill="#00eaff"/><circle cx="274.3" cy="286.9" fill="#0005ff"/><circle cx="332.3" cy="254.5" fill="#0000f5"/><circle cx="304.0" cy="252.3" fill="#0000a8"/><circle cx="241.1" cy="247.6" fill="#006fff"/><circle cx="306.0" cy="278.9" fill="#0065ff"/><circle cx="321.5" cy="226.8" fill="#003dff"/><circle cx="369.8" cy="233.4" fill="#0069ff"/><circle cx="376.8" cy="257.3" fill="#0037ff"/><circle cx="304.0" cy="296.0" fill="#0055ff"/><circle cx="361.2" cy="283.5" fill="#0000e2"/><circle cx="279.6" cy="293.0" fill="#00acff"/><circle cx="338.9" cy="211.6" fill="#95ff6a"/><circle cx="337.0" cy="207.7" fill="#dcff23"/><circle cx="286.8" cy="308.5" fill="#0024ff"/><circle cx="229.7" cy="231.7" fill="#003dff"/><circle cx="322.3" cy="294.2" fill="#0015ff"/><circle cx="359.5" cy="267.9" fill="#002aff"/><circle cx="338.3" cy="255.8" fill="#008eff"/><circle cx="365.8" cy="307.4" fill="#0000a5"/><circle cx="265.9" cy="292.8" fill="#0045ff"/><circle cx="248.8" cy="273.9" fill="#0002ff"/><circle cx="333.9" cy="293.3" fill="#0000d8"/><circle cx="330.0" cy="213.7" fill="#6fff90"/><circle cx="320.8" cy="305.4" fill="#00009e"/><circle cx="297.1" cy="302.4" fill="#0059ff"/><circle cx="365.2" cy="226.0" fill="#21ffde"/><circle cx="359.5" cy="210.9" fill="#74ff8b"/><circle cx="367.1" cy="203.7" fill="#bcff43"/><circle cx="368.3" cy="290.0" fill="#0000d0"/><circle cx="262.5" cy="284.8" fill="#002cff"/><circle cx="276.7" cy="222.9" fill="#72ff8d"/><circle cx="238.8" cy="268.0" fill="#00009e"/><circle cx="251.1" cy="289.8" fill="#0028ff"/><circle cx="259.9" cy="282.9" fill="#00009e"/><circle cx="297.7" cy="266.7" fill="#006dff"/><circle cx="262.9" cy="267.6" fill="#00a3ff"/><circle cx="378.9" cy="289.0" fill="#0000d7"/><circle cx="377.4" cy="229.2" fill="#0037ff"/><circle cx="353.8" cy="248.0" fill="#71ff8e"/><circle cx="314.1" cy="262.9" fill="#0000c8"/><circle cx="331.6" cy="234.8" fill="#35ffca"/><circle cx="263.2" cy="255.6" fill="#0000ec"/><circle cx="281.1" cy="266.1" fill="#0056ff"/><circle cx="320.9" cy="266.0" fill="#0000da"/><circle cx="265.2" cy="219.0" fill="#0081ff"/><circle cx="338.7" cy="198.8" fill="#ffee00"/><circle cx="373.8" cy="226.6" fill="#0030ff"/><circle cx="315.4" cy="237.8" fill="#00abff"/><circle cx="377.0" cy="225.3" fill="#0039ff"/><circle cx="280.3" cy="298.3" fill="#0006ff"/><circle cx="238.0" cy="230.8" fill="#0052ff"/><circle cx="307.1" cy="273.4" fill="#001dff"/><circle cx="327.0" cy="294.3" fill="#0089ff"/><circle cx="378.7" cy="295.6" fill="#0007ff"/><circle cx="265.3" cy="269.4" fill="#0091ff"/><circle cx="362.2" cy="263.5" fill="#0000ec"/><circle cx="378.6" cy="293.1" fill="#008fff"/><circle cx="322.5" cy="307.9" fill="#0007ff"/><circle cx="256.8" cy="300.6" fill="#0055ff"/><circle cx="365.7" cy="300.8" fill="#00009e"/><circle cx="295.5" cy="310.7" fill="#000dff"/><circle cx="321.8" cy="257.8" fill="#0074ff"/><circle cx="373.0" cy="238.8" fill="#0032ff"/><circle cx="276.0" cy="309.0" fill="#005bff"/><circle cx="283.6" cy="242.9" fill="#002fff"/><circle cx="350.8" cy="227.0" fill="#00f7ff"/><circle cx="305.4" cy="229.2" fill="#00caff"/><circle cx="292.5" cy="282.5" fill="#003cff"/><circle cx="337.1" cy="288.7" fill="#00009e"/><circle cx="328.8" cy="271.5" fill="#0000d9"/><circle cx="318.6" cy="221.1" fill="#00c0ff"/><circle cx="357.6" cy="213.8" fill="#4fffb0"/><circle cx="272.7" cy="269.4" fill="#0057ff"/><circle cx="301.6" cy="307.2" fill="#0011ff"/><circle cx="351.6" cy="246.2" fill="#00b4ff"/><circle cx="305.6" cy="216.5" fill="#00faff"/><circle cx="323.7" cy="292.5" fill="#0000b3"/><circle cx="288.7" cy="251.3" fill="#0000f3"/><circle cx="344.8" cy="241.1" fill="#37ffc8"/><circle cx="359.1" cy="252.4" fill="#00a2ff"/><circle cx="367.1" cy="298.6" fill="#00009e"/><circle cx="328.7" cy="291.7" fill="#00009e"/><circle cx="357.0" cy="264.2" fill="#0075ff"/><circle cx="291.9" cy="311.6" fill="#003aff"/><circle cx="271.1" cy="285.4" fill="#00d8ff"/><circle cx="238.5" cy="227.4" fill="#0000e7"/><circle cx="344.8" cy="204.3" fill="#ffc900"/><circle cx="257.6" cy="245.7" fill="#0061ff"/><circle cx="308.6" cy="305.7" fill="#00a1ff"/><circle cx="362.3" cy="251.0" fill="#005fff"/><circle cx="362.8" cy="207.3" fill="#80ff7f"/><circle cx="252.7" cy="230.0" fill="#0005ff"/><circle cx="349.1" cy="262.0" fill="#003bff"/><circle cx="351.9" cy="273.5" fill="#003aff"/><circle cx="360.4" cy="203.6" fill="#fff100"/><circle cx="332.1" cy="296.0" fill="#0022ff"/><circle cx="269.1" cy="219.0" fill="#005dff"/><circle cx="258.1" cy="278.7" fill="#0067ff"/><circle cx="339.9" cy="226.1" fill="#00b4ff"/><circle cx="291.2" cy="293.2" fill="#0077ff"/><circle cx="326.2" cy="270.7" fill="#0052ff"/><circle cx="336.0" cy="299.1" fill="#0000b0"/><circle cx="314.3" cy="217.4" fill="#00ddff"/><circle cx="332.7" cy="251.1" fill="#005bff"/><circle cx="313.0" cy="279.4" fill="#0086ff"/><circle cx="343.5" cy="263.3" fill="#0081ff"/><circle cx="256.4" cy="252.5" fill="#00aeff"/><circle cx="299.7" cy="283.1" fill="#0000d2"/><circle cx="311.0" cy="290.2" fill="#0042ff"/><circle cx="261.7" cy="293.1" fill="#0062ff"/><circle cx="375.8" cy="263.1" fill="#006aff"/><circle cx="299.1" cy="248.1" fill="#0000a6"/><circle cx="301.8" cy="286.4" fill="#0000c7"/><circle cx="281.0" cy="255.5" fill="#0042ff"/><circle cx="262.0" cy="299.6" fill="#00bfff"/><circle cx="315.8" cy="286.3" fill="#0019ff"/><circle cx="319.8" cy="207.8" fill="#a1ff5e"/><circle cx="264.6" cy="239.4" fill="#0000f7"/><circle cx="297.7" cy="303.7" fill="#0047ff"/><circle cx="289.3" cy="290.0" fill="#00a1ff"/><circle cx="321.6" cy="253.5" fill="#0085ff"/><circle cx="374.0" cy="198.0" fill="#fffa00"/><circle cx="320.3" cy="297.7" fill="#000dff"/><circle cx="254.0" cy="302.8" fill="#0000e4"/><circle cx="346.2" cy="199.4" fill="#87ff78"/><circle cx="291.5" cy="305.1" fill="#00009e"/><circle cx="339.7" cy="233.3" fill="#06fff9"/><circle cx="297.1" cy="239.4" fill="#005eff"/><circle cx="261.8" cy="215.0" fill="#00a1ff"/><circle cx="323.2" cy="267.6" fill="#003eff"/><circle cx="368.2" cy="304.4" fill="#0097ff"/><circle cx="353.9" cy="252.6" fill="#00f1ff"/><circle cx="296.1" cy="276.1" fill="#008fff"/><circle cx="262.4" cy="304.2" fill="#0035ff"/><circle cx="324.8" cy="308.0" fill="#0000d4"/><circle cx="387.7" cy="293.1" fill="#0000c1"/><circle cx="326.5" cy="282.5" fill="#0000c9"/><circle cx="259.1" cy="248.1" fill="#009fff"/><circle cx="260.0" cy="255.7" fill="#0080ff"/><circle cx="308.5" cy="280.9" fill="#0021ff"/><circle cx="327.0" cy="312.0" fill="#0000d9"/><circle cx="301.4" cy="279.2" fill="#0000fd"/><circle cx="312.7" cy="268.0" fill="#0026ff"/><circle cx="330.6" cy="295.7" fill="#0000c5"/><circle cx="385.7" cy="286.6" fill="#0082ff"/><circle cx="331.3" cy="248.0" fill="#0046ff"/><circle cx="362.8" cy="289.2" fill="#0044ff"/><circle cx="358.4" cy="282.6" fill="#0035ff"/><circle cx="364.8" cy="305.8" fill="#0050ff"/><circle cx="355.5" cy="279.4" fill="#008cff"/><circle cx="321.1" cy="282.4" fill="#00009e"/><circle cx="278.1" cy="250.6" fill="#004aff"/><circle cx="263.5" cy="264.7" fill="#0052ff"/><circle cx="242.2" cy="237.9" fill="#00ecff"/><circle cx="317.4" cy="248.6" fill="#0042ff"/><circle cx="382.5" cy="257.4" fill="#3affc5"/><circle cx="381.7" cy="304.5" fill="#0038ff"/><circle cx="342.9" cy="276.2" fill="#95ff6a"/><circle cx="301.7" cy="231.8" fill="#00bfff"/><circle cx="370.5" cy="261.2" fill="#0000ff"/><circle cx="318.5" cy="296.1" fill="#0000db"/><circle cx="249.6" cy="220.1" fill="#00d5ff"/><circle cx="292.9" cy="294.9" fill="#0026ff"/><circle cx="312.0" cy="307.9" fill="#0008ff"/><circle cx="315.1" cy="295.2" fill="#0056ff"/><circle cx="338.3" cy="305.6" fill="#0000a9"/><circle cx="345.0" cy="305.4" fill="#0000ea"/><circle cx="236.6" cy="258.8" fill="#0000d3"/><circle cx="318.2" cy="289.5" fill="#0009ff"/><circle cx="257.8" cy="277.4" fill="#0000b6"/><circle cx="243.9" cy="248.8" fill="#0066ff"/><circle cx="250.5" cy="258.9" fill="#004cff"/><circle cx="280.0" cy="302.1" fill="#0078ff"/><circle cx="266.9" cy="311.8" fill="#0060ff"/><circle cx="268.6" cy="283.0" fill="#0000f6"/><circle cx="363.3" cy="210.2" fill="#88ff77"/><circle cx="307.4" cy="251.8" fill="#0000cb"/><circle cx="305.4" cy="235.5" fill="#0085ff"/><circle cx="308.1" cy="214.4" fill="#00bdff"/><circle cx="372.0" cy="201.1" fill="#65ff9a"/><circle cx="357.5" cy="262.1" fill="#00c8ff"/><circle cx="304.3" cy="225.7" fill="#00a6ff"/><circle cx="262.5" cy="247.9" fill="#00dfff"/><circle cx="334.9" cy="248.4" fill="#003dff"/><circle cx="361.0" cy="298.9" fill="#0000ac"/><circle cx="329.4" cy="265.1" fill="#0035ff"/><circle cx="365.9" cy="208.1" fill="#4fffb0"/><circle cx="289.6" cy="219.6" fill="#4bffb4"/><circle cx="328.1" cy="205.4" fill="#5fffa0"/><circle cx="330.2" cy="306.8" fill="#0000de"/><circle cx="339.2" cy="236.7" fill="#0efff1"/><circle cx="339.9" cy="252.7" fill="#006fff"/><circle cx="267.5" cy="213.9" fill="#0041ff"/><circle cx="367.4" cy="217.5" fill="#00c3ff"/><circle cx="246.5" cy="275.4" fill="#00009e"/><circle cx="310.6" cy="251.5" fill="#006eff"/><circle cx="373.5" cy="257.7" fill="#008fff"/><circle cx="363.1" cy="297.4" fill="#0000bf"/><circle cx="352.5" cy="261.3" fill="#0012ff"/><circle cx="267.5" cy="257.5" fill="#0024ff"/><circle cx="342.9" cy="214.7" fill="#86ff79"/><circle cx="291.3" cy="235.4" fill="#008aff"/><circle cx="231.3" cy="235.4" fill="#00dbff"/><circle cx="294.6" cy="266.8" fill="#005bff"/><circle cx="302.3" cy="217.6" fill="#00b1ff"/><circle cx="303.0" cy="259.8" fill="#007dff"/><circle cx="264.7" cy="226.0" fill="#00d4ff"/><circle cx="334.0" cy="261.6" fill="#00d1ff"/><circle cx="296.3" cy="228.6" fill="#0bfff4"/><circle cx="359.8" cy="309.9" fill="#0018ff"/><circle cx="306.0" cy="254.6" fill="#0000f5"/><circle cx="319.8" cy="210.3" fill="#68ff97"/><circle cx="362.5" cy="256.9" fill="#0070ff"/><circle cx="296.0" cy="271.1" fill="#009aff"/><circle cx="332.3" cy="261.2" fill="#0000bc"/><circle cx="367.4" cy="285.8" fill="#0000a8"/><circle cx="251.4" cy="263.3" fill="#0000c8"/><circle cx="251.6" cy="303.9" fill="#0049ff"/><circle cx="310.7" cy="254.3" fill="#0016ff"/><circle cx="293.5" cy="221.4" fill="#00cbff"/><circle cx="307.2" cy="277.4" fill="#0000fe"/><circle cx="338.5" cy="248.6" fill="#0028ff"/><circle cx="290.8" cy="263.3" fill="#0068ff"/><circle cx="354.7" cy="239.8" fill="#58ffa7"/><circle cx="387.8" cy="307.4" fill="#0011ff"/><circle cx="338.6" cy="217.9" fill="#38ffc7"/><circle cx="347.1" cy="269.6" fill="#00f5ff"/><circle cx="255.2" cy="267.5" fill="#00009e"/><circle cx="370.3" cy="274.2" fill="#11ffee"/><circle cx="258.1" cy="239.1" fill="#00f3ff"/><circle cx="323.2" cy="261.7" fill="#0064ff"/><circle cx="379.1" cy="258.8" fill="#0085ff"/><circle cx="272.8" cy="225.3" fill="#0071ff"/><circle cx="299.8" cy="272.5" fill="#0000e7"/><circle cx="371.0" cy="222.2" fill="#007cff"/><circle cx="340.9" cy="305.9" fill="#0012ff"/><circle cx="346.8" cy="310.2" fill="#00009e"/><circle cx="292.7" cy="301.1" fill="#005dff"/><circle cx="349.0" cy="248.2" fill="#00a8ff"/><circle cx="253.1" cy="219.1" fill="#00daff"/><circle cx="273.1" cy="262.1" fill="#0cfff3"/><circle cx="249.6" cy="299.1" fill="#0043ff"/><circle cx="342.9" cy="279.0" fill="#008cff"/><circle cx="365.6" cy="263.6" fill="#0016ff"/><circle cx="334.8" cy="216.4" fill="#64ff9b"/><circle cx="263.1" cy="280.7" fill="#0007ff"/><circle cx="327.9" cy="237.0" fill="#009aff"/><circle cx="243.8" cy="283.5" fill="#0031ff"/><circle cx="270.6" cy="241.0" fill="#0063ff"/><circle cx="297.9" cy="241.9" fill="#0013ff"/><circle cx="292.2" cy="229.1" fill="#0071ff"/><circle cx="325.0" cy="226.5" fill="#00dfff"/><circle cx="376.6" cy="271.5" fill="#00a5ff"/><circle cx="300.7" cy="246.4" fill="#0000dc"/><circle cx="330.1" cy="244.6" fill="#006aff"/><circle cx="234.7" cy="233.8" fill="#00c2ff"/><circle cx="296.0" cy="304.6" fill="#0000d7"/><circle cx="265.8" cy="281.7" fill="#0042ff"/><circle cx="355.3" cy="207.9" fill="#ffea00"/><circle cx="273.7" cy="310.0" fill="#0098ff"/><circle cx="303.0" cy="298.4" fill="#0000ec"/><circle cx="333.5" cy="301.4" fill="#00009e"/><circle cx="295.0" cy="211.8" fill="#007cff"/><circle cx="266.3" cy="223.2" fill="#00d0ff"/><circle cx="344.8" cy="271.4" fill="#0cfff3"/><circle cx="294.7" cy="298.2" fill="#0020ff"/><circle cx="271.5" cy="238.9" fill="#0059ff"/><circle cx="243.0" cy="270.1" fill="#0006ff"/><circle cx="377.1" cy="234.9" fill="#0000ba"/><circle cx="324.9" cy="276.8" fill="#0026ff"/><circle cx="251.0" cy="239.4" fill="#0084ff"/><circle cx="312.2" cy="272.7" fill="#0000c9"/><circle cx="239.8" cy="244.3" fill="#0090ff"/><circle cx="341.9" cy="211.5" fill="#b5ff4a"/><circle cx="301.9" cy="248.7" fill="#0000cb"/><circle cx="356.0" cy="197.4" fill="#ffca00"/><circle cx="312.1" cy="311.5" fill="#0011ff"/><circle cx="333.9" cy="279.4" fill="#00009e"/><circle cx="299.9" cy="290.2" fill="#0056ff"/><circle cx="278.3" cy="257.1" fill="#0068ff"/><circle cx="350.8" cy="275.5" fill="#00deff"/><circle cx="260.1" cy="260.1" fill="#0026ff"/><circle cx="290.9" cy="282.4" fill="#0000d7"/><circle cx="347.6" cy="258.7" fill="#0062ff"/><circle cx="283.6" cy="271.3" fill="#0073ff"/><circle cx="345.7" cy="253.8" fill="#00daff"/><circle cx="287.8" cy="255.3" fill="#0000bc"/><circle cx="329.5" cy="252.6" fill="#00a9ff"/><circle cx="321.1" cy="310.6" fill="#00009e"/><circle cx="321.8" cy="220.7" fill="#00d9ff"/><circle cx="248.0" cy="236.9" fill="#008fff"/><circle cx="373.5" cy="292.3" fill="#009fff"/><circle cx="313.8" cy="286.0" fill="#0000ba"/><circle cx="245.5" cy="245.8" fill="#00efff"/><circle cx="310.8" cy="208.5" fill="#00feff"/><circle cx="287.0" cy="245.1" fill="#00b5ff"/><circle cx="237.1" cy="260.2" fill="#0038ff"/><circle cx="294.5" cy="257.3" fill="#0085ff"/><circle cx="240.6" cy="254.7" fill="#0004ff"/><circle cx="279.9" cy="217.5" fill="#0efff1"/><circle cx="258.1" cy="222.4" fill="#0000f5"/><circle cx="252.4" cy="311.7" fill="#19ffe6"/><circle cx="274.8" cy="220.2" fill="#00bcff"/><circle cx="247.8" cy="255.1" fill="#0024ff"/><circle cx="365.6" cy="221.3" fill="#00b4ff"/><circle cx="366.3" cy="257.6" fill="#00beff"/><circle cx="260.8" cy="245.8" fill="#0039ff"/><circle cx="308.6" cy="266.7" fill="#0050ff"/><circle cx="350.6" cy="257.5" fill="#23ffdc"/><circle cx="377.3" cy="311.2" fill="#0000f5"/><circle cx="295.8" cy="234.9" fill="#003eff"/><circle cx="312.3" cy="212.8" fill="#00e1ff"/><circle cx="351.7" cy="300.7" fill="#0000ea"/><circle cx="370.1" cy="277.5" fill="#00f7ff"/><circle cx="291.4" cy="224.2" fill="#008bff"/><circle cx="303.9" cy="275.6" fill="#0059ff"/><circle cx="262.2" cy="216.4" fill="#00cdff"/><circle cx="353.6" cy="295.8" fill="#0088ff"/><circle cx="344.3" cy="301.1" fill="#0015ff"/><circle cx="253.5" cy="269.5" fill="#0000a6"/><circle cx="358.4" cy="257.1" fill="#007aff"/><circle cx="323.2" cy="233.0" fill="#007dff"/><circle cx="272.4" cy="251.5" fill="#005fff"/><circle cx="336.1" cy="214.3" fill="#84ff7b"/><circle cx="235.1" cy="244.7" fill="#007aff"/><circle cx="343.6" cy="282.9" fill="#0090ff"/><circle cx="381.5" cy="273.6" fill="#004bff"/><circle cx="275.0" cy="251.0" fill="#0002ff"/><circle cx="261.7" cy="235.5" fill="#00f0ff"/><circle cx="299.5" cy="238.7" fill="#0000b6"/><circle cx="371.7" cy="283.5" fill="#0076ff"/><circle cx="278.4" cy="287.2" fill="#000cff"/><circle cx="325.3" cy="238.5" fill="#00d0ff"/><circle cx="326.9" cy="262.9" fill="#0017ff"/><circle cx="325.5" cy="300.7" fill="#0000ca"/><circle cx="378.3" cy="279.8" fill="#6aff95"/><circle cx="290.2" cy="238.7" fill="#004dff"/><circle cx="319.5" cy="282.3" fill="#0018ff"/><circle cx="287.8" cy="285.5" fill="#000cff"/><circle cx="286.9" cy="228.9" fill="#0097ff"/><circle cx="332.0" cy="309.9" fill="#00009e"/><circle cx="234.6" cy="255.3" fill="#0097ff"/><circle cx="381.6" cy="267.9" fill="#003eff"/><circle cx="321.7" cy="271.2" fill="#0079ff"/><circle cx="354.1" cy="244.2" fill="#1dffe2"/><circle cx="334.4" cy="240.9" fill="#00b1ff"/><circle cx="312.1" cy="295.6" fill="#0000e0"/><circle cx="366.9" cy="197.3" fill="#fff700"/><circle cx="285.0" cy="309.8" fill="#0032ff"/><circle cx="310.5" cy="269.4" fill="#0000b8"/><circle cx="315.8" cy="279.0" fill="#0021ff"/><circle cx="323.8" cy="216.4" fill="#52ffad"/><circle cx="330.4" cy="219.6" fill="#5cffa3"/><circle cx="326.9" cy="297.4" fill="#0000fd"/><circle cx="230.4" cy="230.7" fill="#006aff"/><circle cx="372.3" cy="300.7" fill="#0029ff"/><circle cx="231.1" cy="233.0" fill="#00a2ff"/><circle cx="363.7" cy="205.0" fill="#afff50"/><circle cx="278.3" cy="262.0" fill="#0044ff"/><circle cx="370.5" cy="228.6" fill="#003bff"/><circle cx="289.0" cy="217.9" fill="#2effd1"/><circle cx="299.8" cy="211.6" fill="#009eff"/><circle cx="319.5" cy="229.4" fill="#00d5ff"/><circle cx="376.0" cy="295.0" fill="#0064ff"/><circle cx="344.5" cy="221.0" fill="#00cdff"/><circle cx="257.1" cy="289.9" fill="#000aff"/><circle cx="350.3" cy="220.7" fill="#17ffe8"/><circle cx="242.0" cy="261.9" fill="#0055ff"/><circle cx="308.7" cy="270.2" fill="#000dff"/><circle cx="240.4" cy="270.0" fill="#003eff"/><circle cx="319.2" cy="239.8" fill="#0032ff"/><circle cx="374.5" cy="305.3" fill="#0000a9"/><circle cx="249.0" cy="268.3" fill="#0000cb"/><circle cx="351.7" cy="197.4" fill="#e1ff1e"/><circle cx="362.7" cy="238.5" fill="#0028ff"/><circle cx="368.5" cy="226.7" fill="#00bcff"/><circle cx="349.1" cy="228.8" fill="#0068ff"/><circle cx="304.9" cy="211.3" fill="#00e8ff"/><circle cx="328.1" cy="268.1" fill="#0000d3"/><circle cx="242.5" cy="244.3" fill="#0087ff"/><circle cx="276.3" cy="236.0" fill="#0080ff"/><circle cx="326.1" cy="252.1" fill="#0000bd"/><circle cx="310.2" cy="291.6" fill="#00a6ff"/><circle cx="303.2" cy="222.6" fill="#53ffac"/><circle cx="272.8" cy="303.9" fill="#0055ff"/><circle cx="268.9" cy="264.9" fill="#00b6ff"/><circle cx="300.1" cy="296.5" fill="#0000ec"/><circle cx="293.1" cy="289.3" fill="#002bff"/><circle cx="268.0" cy="250.4" fill="#004dff"/><circle cx="279.2" cy="233.7" fill="#0068ff"/><circle cx="369.5" cy="202.3" fill="#9bff64"/><circle cx="240.2" cy="242.5" fill="#39ffc6"/><circle cx="328.4" cy="274.0" fill="#001cff"/><circle cx="360.1" cy="249.2" fill="#008eff"/><circle cx="342.0" cy="248.8" fill="#00b6ff"/><circle cx="253.6" cy="231.7" fill="#008aff"/><circle cx="334.0" cy="257.7" fill="#0082ff"/><circle cx="298.1" cy="288.1" fill="#008cff"/><circle cx="351.6" cy="201.4" fill="#ffd900"/><circle cx="332.4" cy="268.2" fill="#0007ff"/><circle cx="370.7" cy="279.8" fill="#00d0ff"/><circle cx="339.4" cy="204.1" fill="#ffc800"/><circle cx="277.5" cy="309.8" fill="#0000ac"/><circle cx="341.6" cy="230.4" fill="#38ffc7"/><circle cx="297.8" cy="229.1" fill="#00a3ff"/><circle cx="305.5" cy="298.0" fill="#003eff"/><circle cx="285.3" cy="250.4" fill="#0034ff"/><circle cx="280.9" cy="285.2" fill="#00c4ff"/><circle cx="377.6" cy="211.6" fill="#a0ff5f"/><circle cx="233.3" cy="225.7" fill="#0031ff"/><circle cx="289.4" cy="232.2" fill="#00dcff"/><circle cx="352.7" cy="298.5" fill="#0000fd"/><circle cx="365.7" cy="252.6" fill="#0066ff"/><circle cx="330.2" cy="233.5" fill="#00f1ff"/><circle cx="333.9" cy="219.2" fill="#00bcff"/><circle cx="278.0" cy="255.1" fill="#0000c7"/><circle cx="286.4" cy="232.9" fill="#00bcff"/><circle cx="313.9" cy="301.4" fill="#0027ff"/><circle cx="235.0" cy="239.5" fill="#00beff"/><circle cx="333.7" cy="289.5" fill="#00009e"/><circle cx="332.2" cy="207.2" fill="#71ff8e"/><circle cx="284.3" cy="274.1" fill="#0068ff"/><circle cx="360.3" cy="197.2" fill="#bcff43"/><circle cx="263.8" cy="231.9" fill="#2cffd3"/><circle cx="251.3" cy="223.0" fill="#0085ff"/><circle cx="258.0" cy="232.2" fill="#00ffff"/><circle cx="251.0" cy="270.6" fill="#0000a5"/><circle cx="281.7" cy="247.3" fill="#00009e"/><circle cx="344.9" cy="247.8" fill="#0075ff"/><circle cx="247.0" cy="270.1" fill="#00009e"/><circle cx="267.5" cy="226.6" fill="#00cfff"/><circle cx="357.0" cy="275.4" fill="#0024ff"/><circle cx="239.7" cy="252.1" fill="#00cbff"/><circle cx="357.4" cy="239.8" fill="#00cdff"/><circle cx="318.0" cy="311.6" fill="#00009e"/><circle cx="359.4" cy="228.6" fill="#6eff91"/><circle cx="267.0" cy="239.3" fill="#004cff"/><circle cx="246.7" cy="263.3" fill="#00009e"/><circle cx="349.5" cy="267.4" fill="#00edff"/><circle cx="321.4" cy="289.3" fill="#00009e"/><circle cx="316.9" cy="228.6" fill="#008cff"/><circle cx="381.0" cy="292.9" fill="#0057ff"/><circle cx="289.0" cy="256.7" fill="#0023ff"/><circle cx="297.1" cy="226.2" fill="#0030ff"/><circle cx="351.6" cy="212.8" fill="#c2ff3d"/><circle cx="276.5" cy="291.3" fill="#0013ff"/><circle cx="334.5" cy="210.7" fill="#ecff13"/><circle cx="315.7" cy="276.0" fill="#008fff"/><circle cx="349.9" cy="239.9" fill="#00abff"/><circle cx="276.2" cy="233.2" fill="#00feff"/><circle cx="268.0" cy="269.6" fill="#0000aa"/><circle cx="339.1" cy="280.7" fill="#0088ff"/><circle cx="278.3" cy="275.9" fill="#0000aa"/><circle cx="279.6" cy="296.1" fill="#0013ff"/><circle cx="290.5" cy="307.4" fill="#0000f6"/><circle cx="271.4" cy="263.5" fill="#0054ff"/><circle cx="382.5" cy="285.7" fill="#0073ff"/><circle cx="303.4" cy="246.2" fill="#000bff"/><circle cx="255.3" cy="242.2" fill="#00eaff"/><circle cx="287.8" cy="242.6" fill="#0034ff"/><circle cx="321.5" cy="273.9" fill="#0000c8"/><circle cx="301.0" cy="270.4" fill="#0000f1"/><circle cx="335.8" cy="304.0" fill="#00009e"/><circle cx="305.1" cy="303.8" fill="#0076ff"/><circle cx="356.5" cy="273.3" fill="#0090ff"/><circle cx="384.2" cy="271.1" fill="#00e7ff"/><circle cx="253.2" cy="267.7" fill="#000bff"/><circle cx="366.4" cy="311.8" fill="#0014ff"/><circle cx="257.0" cy="220.5" fill="#00a1ff"/><circle cx="347.0" cy="302.6" fill="#0000d2"/><circle cx="321.1" cy="279.8" fill="#0000b5"/><circle cx="292.6" cy="213.2" fill="#71ff8e"/><circle cx="304.9" cy="311.8" fill="#006eff"/><circle cx="370.0" cy="258.2" fill="#005eff"/><circle cx="240.2" cy="239.2" fill="#00f2ff"/><circle cx="276.7" cy="305.1" fill="#00eeff"/><circle cx="277.7" cy="229.7" fill="#00d2ff"/><circle cx="287.1" cy="211.1" fill="#0066ff"/><circle cx="274.6" cy="213.6" fill="#0069ff"/><circle cx="306.9" cy="206.6" fill="#003cff"/><circle cx="303.3" cy="238.1" fill="#0073ff"/><circle cx="385.1" cy="305.3" fill="#0000c8"/><circle cx="352.7" cy="305.6" fill="#0000fb"/><circle cx="230.2" cy="224.3" fill="#0028ff"/><circle cx="232.6" cy="237.9" fill="#0058ff"/><circle cx="363.7" cy="197.9" fill="#ffd100"/><circle cx="319.7" cy="246.2" fill="#0001ff"/><circle cx="353.8" cy="212.8" fill="#94ff6b"/><circle cx="326.0" cy="258.2" fill="#007fff"/><circle cx="374.2" cy="217.9" fill="#0082ff"/><circle cx="359.0" cy="220.3" fill="#00e5ff"/><circle cx="234.7" cy="235.9" fill="#00abff"/><circle cx="351.7" cy="236.1" fill="#004aff"/><circle cx="240.2" cy="230.5" fill="#0000f5"/><circle cx="259.4" cy="241.9" fill="#0017ff"/><circle cx="251.8" cy="280.6" fill="#00009e"/><circle cx="329.8" cy="208.1" fill="#29ffd6"/><circle cx="243.4" cy="264.9" fill="#0066ff"/><circle cx="343.5" cy="225.8" fill="#3cffc3"/><circle cx="353.5" cy="311.7" fill="#0000b0"/><circle cx="263.3" cy="224.4" fill="#00d6ff"/><circle cx="310.3" cy="286.3" fill="#0092ff"/><circle cx="375.6" cy="238.6" fill="#0000af"/><circle cx="290.7" cy="255.0" fill="#0000b3"/><circle cx="322.0" cy="275.8" fill="#0046ff"/><circle cx="226.6" cy="229.2" fill="#0002ff"/><circle cx="276.4" cy="273.3" fill="#0000da"/><circle cx="315.9" cy="233.8" fill="#00a9ff"/><circle cx="285.3" cy="236.1" fill="#0094ff"/><circle cx="267.3" cy="244.8" fill="#003dff"/><circle cx="331.3" cy="299.6" fill="#0000b9"/><circle cx="380.6" cy="238.0" fill="#003dff"/><circle cx="261.9" cy="273.5" fill="#0000f3"/><circle cx="324.9" cy="286.0" fill="#0048ff"/><circle cx="382.0" cy="311.7" fill="#0000cd"/><circle cx="335.4" cy="287.0" fill="#001bff"/><circle cx="348.3" cy="279.9" fill="#007aff"/><circle cx="257.3" cy="257.0" fill="#00b9ff"/><circle cx="252.5" cy="217.5" fill="#0000b9"/><circle cx="265.8" cy="287.0" fill="#0000f2"/><circle cx="291.1" cy="298.0" fill="#00e5ff"/><circle cx="314.7" cy="219.6" fill="#01fffe"/><circle cx="292.1" cy="242.8" fill="#0045ff"/><circle cx="300.8" cy="252.2" fill="#0057ff"/><circle cx="268.6" cy="232.8" fill="#4cffb3"/><circle cx="374.6" cy="254.5" fill="#004cff"/><circle cx="348.4" cy="216.6" fill="#00bbff"/><circle cx="374.0" cy="211.5" fill="#23ffdc"/><circle cx="287.0" cy="277.5" fill="#0090ff"/><circle cx="307.8" cy="307.7" fill="#006aff"/><circle cx="266.9" cy="273.6" fill="#000fff"/><circle cx="284.5" cy="292.4" fill="#000cff"/><circle cx="250.9" cy="235.7" fill="#00feff"/><circle cx="272.8" cy="217.5" fill="#0077ff"/><circle cx="375.8" cy="231.6" fill="#0045ff"/><circle cx="274.4" cy="249.4" fill="#0053ff"/><circle cx="348.4" cy="295.0" fill="#0005ff"/><circle cx="359.3" cy="208.2" fill="#61ff9e"/><circle cx="305.7" cy="248.9" fill="#0017ff"/><circle cx="283.0" cy="288.5" fill="#00d1ff"/><circle cx="323.3" cy="223.9" fill="#00c9ff"/><circle cx="340.0" cy="200.8" fill="#ffd200"/><circle cx="330.8" cy="222.4" fill="#00cdff"/><circle cx="291.2" cy="247.7" fill="#0000ec"/><circle cx="271.0" cy="266.9" fill="#0019ff"/><circle cx="348.5" cy="291.3" fill="#0000e7"/><circle cx="314.4" cy="208.7" fill="#00ccff"/><circle cx="241.2" cy="274.0" fill="#0014ff"/><circle cx="347.6" cy="232.1" fill="#0007ff"/><circle cx="256.1" cy="285.0" fill="#0004ff"/><circle cx="272.9" cy="214.2" fill="#00aaff"/><circle cx="309.1" cy="309.8" fill="#001aff"/><circle cx="287.3" cy="264.2" fill="#31ffce"/><circle cx="368.3" cy="208.3" fill="#8dff72"/><circle cx="356.6" cy="241.4" fill="#02fffd"/><circle cx="265.6" cy="230.1" fill="#39ffc6"/><circle cx="288.5" cy="291.4" fill="#0099ff"/><circle cx="236.9" cy="236.2" fill="#00009e"/><circle cx="331.0" cy="292.4" fill="#0000cc"/><circle cx="324.2" cy="242.8" fill="#1fffe0"/><circle cx="274.4" cy="282.1" fill="#003dff"/><circle cx="382.3" cy="283.0" fill="#0053ff"/><circle cx="342.6" cy="255.3" fill="#00a3ff"/><circle cx="300.0" cy="258.6" fill="#001dff"/><circle cx="290.6" cy="260.8" fill="#0061ff"/><circle cx="369.6" cy="291.4" fill="#0000f0"/><circle cx="352.7" cy="211.4" fill="#9aff65"/><circle cx="367.8" cy="210.2" fill="#f2ff0d"/><circle cx="253.2" cy="291.9" fill="#00009e"/><circle cx="243.8" cy="260.6" fill="#0073ff"/><circle cx="363.1" cy="311.4" fill="#0000dc"/><circle cx="302.1" cy="266.5" fill="#000cff"/><circle cx="254.7" cy="244.3" fill="#00a4ff"/><circle cx="337.6" cy="268.3" fill="#007bff"/><circle cx="270.6" cy="235.5" fill="#00cbff"/><circle cx="275.7" cy="265.1" fill="#0027ff"/><circle cx="262.0" cy="294.7" fill="#007dff"/><circle cx="380.4" cy="300.4" fill="#001aff"/><circle cx="244.3" cy="267.9" fill="#0000f7"/><circle cx="328.4" cy="211.4" fill="#8cff73"/><circle cx="376.9" cy="283.4" fill="#00a5ff"/><circle cx="299.4" cy="275.5" fill="#0004ff"/><circle cx="252.2" cy="247.6" fill="#00aeff"/><circle cx="377.4" cy="268.0" fill="#0078ff"/><circle cx="384.6" cy="289.6" fill="#003eff"/><circle cx="303.7" cy="281.9" fill="#0003ff"/><circle cx="232.0" cy="246.2" fill="#008eff"/><circle cx="355.6" cy="224.3" fill="#00e4ff"/><circle cx="254.8" cy="280.3" fill="#0076ff"/><circle cx="291.6" cy="286.5" fill="#000fff"/><circle cx="364.1" cy="261.7" fill="#0000ee"/><circle cx="316.2" cy="246.1" fill="#0000cc"/><circle cx="385.3" cy="297.4" fill="#0000a2"/><circle cx="311.5" cy="219.6" fill="#a4ff5b"/><circle cx="268.7" cy="277.4" fill="#003bff"/><circle cx="321.0" cy="286.7" fill="#0000d9"/><circle cx="335.5" cy="223.0" fill="#60ff9f"/><circle cx="259.9" cy="298.6" fill="#003eff"/><circle cx="248.0" cy="248.1" fill="#0088ff"/><circle cx="266.8" cy="235.5" fill="#10ffef"/><circle cx="273.6" cy="241.6" fill="#0069ff"/><circle cx="355.9" cy="266.0" fill="#00b6ff"/><circle cx="320.7" cy="261.7" fill="#0071ff"/><circle cx="260.0" cy="265.2" fill="#0000bf"/><circle cx="307.0" cy="240.1" fill="#002eff"/><circle cx="312.3" cy="281.7" fill="#0043ff"/><circle cx="285.8" cy="220.0" fill="#00f6ff"/><circle cx="345.4" cy="217.8" fill="#00dbff"/><circle cx="255.6" cy="230.4" fill="#00abff"/><circle cx="375.5" cy="279.4" fill="#0089ff"/><circle cx="253.8" cy="307.8" fill="#0015ff"/><circle cx="317.5" cy="271.3" fill="#0066ff"/><circle cx="377.4" cy="276.7" fill="#0000f8"/><circle cx="335.7" cy="302.3" fill="#00009e"/><circle cx="274.0" cy="254.0" fill="#003eff"/><circle cx="258.2" cy="282.5" fill="#0000d0"/><circle cx="357.3" cy="205.7" fill="#82ff7d"/><circle cx="349.7" cy="299.5" fill="#0000ff"/><circle cx="328.6" cy="285.3" fill="#0000c0"/><circle cx="235.0" cy="251.2" fill="#0000b1"/><circle cx="336.7" cy="281.8" fill="#0000cf"/><circle cx="254.7" cy="272.4" fill="#0008ff"/><circle cx="345.5" cy="210.2" fill="#ffe600"/><circle cx="379.2" cy="259.8" fill="#00aeff"/><circle cx="280.1" cy="273.0" fill="#0000c3"/><circle cx="348.0" cy="200.3" fill="#ffd400"/><circle cx="297.4" cy="263.3" fill="#0069ff"/><circle cx="288.4" cy="235.0" fill="#00b5ff"/><circle cx="273.1" cy="297.4" fill="#0076ff"/><circle cx="238.6" cy="264.4" fill="#0000dc"/><circle cx="286.5" cy="289.5" fill="#0011ff"/><circle cx="297.3" cy="219.2" fill="#0063ff"/><circle cx="368.3" cy="294.2" fill="#0000c7"/><circle cx="251.3" cy="285.3" fill="#0000ef"/><circle cx="302.3" cy="255.6" fill="#00009e"/><circle cx="319.7" cy="264.1" fill="#0081ff"/><circle cx="227.8" cy="227.2" fill="#0005ff"/><circle cx="284.6" cy="247.9" fill="#003eff"/><circle cx="303.3" cy="220.5" fill="#00d0ff"/><circle cx="270.6" cy="216.5" fill="#008aff"/><circle cx="256.6" cy="263.2" fill="#0048ff"/><circle cx="355.6" cy="288.9" fill="#0000a4"/><circle cx="361.5" cy="233.8" fill="#00b6ff"/><circle cx="259.2" cy="272.5" fill="#003fff"/><circle cx="316.7" cy="298.6" fill="#0000fb"/><circle cx="363.4" cy="286.3" fill="#005dff"/><circle cx="362.8" cy="292.2" fill="#0021ff"/><circle cx="337.6" cy="201.2" fill="#acff53"/><circle cx="362.5" cy="266.7" fill="#00eeff"/><circle cx="259.9" cy="286.1" fill="#0011ff"/><circle cx="326.7" cy="254.0" fill="#00009e"/><circle cx="277.8" cy="241.8" fill="#007aff"/><circle cx="341.4" cy="261.3" fill="#0bfff4"/><circle cx="280.4" cy="305.7" fill="#0000f9"/><circle cx="377.3" cy="273.1" fill="#0cfff3"/><circle cx="272.9" cy="301.6" fill="#006eff"/><circle cx="265.5" cy="254.2" fill="#0000fa"/><circle cx="371.7" cy="306.8" fill="#0000f4"/><circle cx="349.8" cy="253.8" fill="#00c7ff"/><circle cx="314.2" cy="292.0" fill="#00a0ff"/><circle cx="322.8" cy="229.2" fill="#009aff"/><circle cx="274.5" cy="246.1" fill="#0065ff"/><circle cx="336.3" cy="225.9" fill="#76ff89"/><circle cx="276.8" cy="247.2" fill="#0000b7"/><circle cx="321.4" cy="292.7" fill="#0000d7"/><circle cx="268.7" cy="308.3" fill="#007eff"/><circle cx="292.6" cy="273.4" fill="#0000c5"/><circle cx="354.3" cy="225.8" fill="#00b6ff"/><circle cx="382.6" cy="297.5" fill="#0037ff"/><circle cx="330.5" cy="280.2" fill="#0000e7"/><circle cx="277.9" cy="271.2" fill="#0000d4"/><circle cx="340.7" cy="276.2" fill="#09fff6"/><circle cx="301.6" cy="292.7" fill="#003aff"/><circle cx="342.1" cy="272.9" fill="#00a8ff"/><circle cx="287.0" cy="295.5" fill="#004dff"/><circle cx="311.4" cy="239.2" fill="#004bff"/><circle cx="322.1" cy="302.8" fill="#00009e"/><circle cx="239.2" cy="256.6" fill="#0000f0"/><circle cx="299.1" cy="293.1" fill="#00abff"/><circle cx="308.8" cy="232.2" fill="#00b8ff"/><circle cx="308.7" cy="236.5" fill="#0082ff"/><circle cx="340.0" cy="258.5" fill="#00d1ff"/><circle cx="287.2" cy="302.0" fill="#0000ad"/><circle cx="352.1" cy="241.1" fill="#00feff"/><circle cx="310.4" cy="223.6" fill="#35ffca"/><circle cx="258.4" cy="270.8" fill="#0000ce"/><circle cx="359.6" cy="254.2" fill="#0099ff"/><circle cx="361.0" cy="212.8" fill="#f6ff09"/><circle cx="358.9" cy="232.1" fill="#b7ff48"/><circle cx="368.4" cy="300.9" fill="#0028ff"/><circle cx="338.7" cy="241.7" fill="#0081ff"/><circle cx="355.4" cy="304.8" fill="#0031ff"/><circle cx="287.3" cy="224.1" fill="#37ffc8"/><circle cx="279.9" cy="261.7" fill="#0037ff"/><circle cx="286.6" cy="257.2" fill="#0072ff"/><circle cx="346.4" cy="283.7" fill="#0080ff"/><circle cx="231.9" cy="252.4" fill="#0029ff"/><circle cx="285.3" cy="286.5" fill="#0092ff"/><circle cx="331.5" cy="209.8" fill="#81ff7e"/><circle cx="362.2" cy="301.4" fill="#00009e"/><circle cx="262.0" cy="227.7" fill="#00f6ff"/><circle cx="311.0" cy="233.4" fill="#006dff"/><circle cx="348.8" cy="284.8" fill="#0065ff"/><circle cx="340.1" cy="308.1" fill="#00009e"/><circle cx="338.9" cy="230.1" fill="#1fffe0"/><circle cx="306.7" cy="292.6" fill="#00baff"/><circle cx="260.4" cy="219.2" fill="#0090ff"/><circle cx="353.8" cy="292.3" fill="#0000f8"/><circle cx="283.0" cy="252.7" fill="#0000ef"/><circle cx="373.9" cy="228.8" fill="#0000f4"/><circle cx="367.0" cy="273.7" fill="#0000f6"/><circle cx="352.8" cy="280.3" fill="#0083ff"/><circle cx="282.5" cy="220.5" fill="#009cff"/><circle cx="335.5" cy="309.0" fill="#00009e"/><circle cx="389.1" cy="304.1" fill="#0000d0"/><circle cx="325.0" cy="214.6" fill="#b9ff46"/><circle cx="283.0" cy="264.6" fill="#0cfff3"/><circle cx="324.9" cy="280.5" fill="#00009e"/><circle cx="345.9" cy="266.4" fill="#00fcff"/><circle cx="324.7" cy="204.8" fill="#70ff8f"/><circle cx="348.3" cy="204.8" fill="#ffc800"/><circle cx="329.0" cy="238.6" fill="#00e7ff"/><circle cx="302.9" cy="230.4" fill="#00b7ff"/><circle cx="364.4" cy="213.6" fill="#00eaff"/><circle cx="369.9" cy="305.8" fill="#004bff"/><circle cx="290.1" cy="245.2" fill="#0000b4"/><circle cx="318.3" cy="226.4" fill="#0058ff"/><circle cx="378.8" cy="269.5" fill="#00d9ff"/><circle cx="365.7" cy="288.3" fill="#00009e"/><circle cx="283.4" cy="222.4" fill="#00a3ff"/><circle cx="249.2" cy="261.6" fill="#0029ff"/><circle cx="344.8" cy="272.3" fill="#006bff"/><circle cx="296.1" cy="281.7" fill="#0000ba"/><circle cx="321.2" cy="214.9" fill="#06fff9"/><circle cx="357.3" cy="210.6" fill="#76ff89"/><circle cx="326.8" cy="232.0" fill="#007bff"/><circle cx="302.2" cy="236.4" fill="#0000ef"/><circle cx="308.3" cy="220.5" fill="#00efff"/><circle cx="263.5" cy="260.5" fill="#00009e"/><circle cx="375.9" cy="308.4" fill="#0020ff"/><circle cx="296.9" cy="214.9" fill="#00f8ff"/><circle cx="343.1" cy="200.5" fill="#ffcc00"/><circle cx="312.4" cy="300.5" fill="#0026ff"/><circle cx="242.1" cy="251.4" fill="#007dff"/><circle cx="235.1" cy="247.4" fill="#00b3ff"/><circle cx="254.5" cy="304.2" fill="#0021ff"/><circle cx="298.6" cy="260.9" fill="#0000a9"/><circle cx="256.7" cy="299.3" fill="#00c6ff"/><circle cx="366.1" cy="279.2" fill="#0088ff"/><circle cx="336.6" cy="263.6" fill="#0077ff"/><circle cx="247.8" cy="295.1" fill="#003aff"/><circle cx="348.2" cy="210.3" fill="#fdff02"/><circle cx="290.9" cy="269.4" fill="#0000c1"/><circle cx="327.0" cy="241.3" fill="#00a7ff"/><circle cx="298.4" cy="254.5" fill="#0000e3"/><circle cx="237.2" cy="255.1" fill="#0063ff"/><circle cx="354.1" cy="233.4" fill="#05fffa"/><circle cx="338.6" cy="291.9" fill="#0000e0"/><circle cx="357.8" cy="270.3" fill="#0040ff"/><circle cx="346.4" cy="225.5" fill="#13ffec"/><circle cx="339.2" cy="312.1" fill="#0000d5"/><circle cx="366.3" cy="293.3" fill="#00009e"/><circle cx="294.4" cy="239.0" fill="#008fff"/><circle cx="313.8" cy="260.4" fill="#0000ce"/><circle cx="310.3" cy="261.2" fill="#0000f7"/><circle cx="301.3" cy="241.3" fill="#0003ff"/><circle cx="265.4" cy="261.5" fill="#00009e"/><circle cx="361.5" cy="227.2" fill="#5dffa2"/><circle cx="262.9" cy="229.5" fill="#71ff8e"/><circle cx="349.7" cy="310.7" fill="#0001ff"/><circle cx="316.0" cy="225.9" fill="#2fffd0"/><circle cx="238.4" cy="248.7" fill="#008cff"/><circle cx="345.9" cy="235.5" fill="#4cffb3"/><circle cx="271.2" cy="220.0" fill="#00b7ff"/><circle cx="255.9" cy="248.0" fill="#005fff"/><circle cx="243.6" cy="233.0" fill="#0036ff"/><circle cx="227.1" cy="236.1" fill="#0000fa"/><circle cx="384.5" cy="273.1" fill="#0068ff"/><circle cx="244.9" cy="273.1" fill="#005fff"/><circle cx="326.3" cy="207.4" fill="#a1ff5e"/><circle cx="330.5" cy="282.9" fill="#0088ff"/><circle cx="357.4" cy="286.4" fill="#004cff"/><circle cx="279.7" cy="282.1" fill="#0000c5"/><circle cx="261.8" cy="308.4" fill="#0043ff"/><circle cx="269.4" cy="302.6" fill="#0098ff"/><circle cx="336.7" cy="245.8" fill="#00b7ff"/><circle cx="344.8" cy="206.5" fill="#acff53"/><circle cx="360.9" cy="236.3" fill="#65ff9a"/><circle cx="265.6" cy="305.0" fill="#00dcff"/><circle cx="328.4" cy="216.5" fill="#00c9ff"/><circle cx="329.3" cy="226.0" fill="#69ff96"/><circle cx="287.0" cy="283.9" fill="#002fff"/><circle cx="359.1" cy="216.4" fill="#05fffa"/><circle cx="315.2" cy="289.6" fill="#001aff"/><circle cx="292.6" cy="246.1" fill="#001cff"/><circle cx="359.9" cy="274.5" fill="#004aff"/><circle cx="299.2" cy="222.6" fill="#26ffd9"/><circle cx="276.7" cy="268.2" fill="#00009e"/><circle cx="267.3" cy="287.9" fill="#00ceff"/><circle cx="252.3" cy="254.3" fill="#0041ff"/><circle cx="244.0" cy="242.0" fill="#0065ff"/><circle cx="243.0" cy="257.7" fill="#0054ff"/><circle cx="363.9" cy="274.5" fill="#00aeff"/><circle cx="265.7" cy="218.0" fill="#0096ff"/><circle cx="360.8" cy="219.9" fill="#009bff"/><circle cx="248.1" cy="278.8" fill="#0020ff"/><circle cx="312.4" cy="226.9" fill="#5cffa3"/><circle cx="271.6" cy="288.1" fill="#0015ff"/><circle cx="327.5" cy="230.7" fill="#21ffde"/><circle cx="270.6" cy="253.7" fill="#0051ff"/><circle cx="283.7" cy="255.6" fill="#00c8ff"/><circle cx="373.5" cy="294.8" fill="#009fff"/><circle cx="238.2" cy="233.4" fill="#0047ff"/><circle cx="290.6" cy="212.8" fill="#34ffcb"/><circle cx="349.8" cy="272.4" fill="#0091ff"/><circle cx="287.0" cy="305.0" fill="#0000dc"/><circle cx="344.8" cy="287.0" fill="#0038ff"/><circle cx="338.1" cy="297.4" fill="#0000fa"/><circle cx="382.7" cy="275.9" fill="#007eff"/><circle cx="267.4" cy="267.0" fill="#00ceff"/><circle cx="270.9" cy="244.3" fill="#007eff"/><circle cx="357.7" cy="301.1" fill="#00009e"/><circle cx="338.7" cy="272.7" fill="#0069ff"/><circle cx="339.6" cy="270.9" fill="#004fff"/><circle cx="313.3" cy="230.0" fill="#00b1ff"/><circle cx="256.6" cy="234.8" fill="#00d2ff"/><circle cx="311.3" cy="276.8" fill="#00bdff"/><circle cx="263.8" cy="256.6" fill="#0025ff"/><circle cx="304.2" cy="231.7" fill="#00f4ff"/><circle cx="279.7" cy="220.2" fill="#44ffbb"/><circle cx="333.7" cy="239.8" fill="#00c3ff"/><circle cx="332.2" cy="276.2" fill="#0001ff"/><circle cx="308.3" cy="288.3" fill="#0072ff"/><circle cx="375.2" cy="222.4" fill="#0033ff"/><circle cx="355.1" cy="277.4" fill="#0075ff"/><circle cx="330.3" cy="286.6" fill="#00aaff"/><circle cx="367.2" cy="222.5" fill="#008aff"/><circle cx="355.5" cy="298.8" fill="#0000b5"/><circle cx="371.8" cy="218.2" fill="#0023ff"/><circle cx="234.8" cy="263.4" fill="#0000ee"/><circle cx="356.3" cy="235.4" fill="#00eeff"/><circle cx="314.5" cy="258.6" fill="#001eff"/><circle cx="271.7" cy="277.2" fill="#00009e"/><circle cx="336.9" cy="296.4" fill="#0000d2"/><circle cx="279.7" cy="227.0" fill="#16ffe9"/><circle cx="349.8" cy="198.3" fill="#e3ff1c"/><circle cx="324.0" cy="255.3" fill="#0020ff"/><circle cx="255.7" cy="261.8" fill="#0000ba"/><circle cx="380.3" cy="281.8" fill="#0000ed"/><circle cx="295.2" cy="222.5" fill="#00beff"/><circle cx="313.9" cy="305.7" fill="#0000a1"/><circle cx="376.0" cy="290.2" fill="#00a4ff"/><circle cx="359.3" cy="288.6" fill="#0000da"/><circle cx="282.2" cy="302.6" fill="#005bff"/><circle cx="276.1" cy="302.8" fill="#00ddff"/><circle cx="323.0" cy="274.6" fill="#0075ff"/><circle cx="339.8" cy="301.1" fill="#0000a7"/><circle cx="247.4" cy="293.4" fill="#0000dd"/><circle cx="280.8" cy="310.7" fill="#00009e"/><circle cx="251.1" cy="233.6" fill="#00009e"/><circle cx="237.6" cy="241.0" fill="#00f7ff"/><circle cx="255.5" cy="218.2" fill="#00c9ff"/><circle cx="357.1" cy="202.2" fill="#fff800"/><circle cx="336.3" cy="269.2" fill="#005aff"/><circle cx="275.6" cy="239.3" fill="#007cff"/><circle cx="357.4" cy="308.7" fill="#0000c9"/><circle cx="315.6" cy="251.1" fill="#0000d9"/><circle cx="324.6" cy="305.1" fill="#0000e1"/><circle cx="335.0" cy="204.5" fill="#faff05"/><circle cx="328.3" cy="257.6" fill="#0025ff"/><circle cx="381.0" cy="261.7" fill="#00d2ff"/><circle cx="302.1" cy="303.8" fill="#005dff"/><circle cx="372.6" cy="214.2" fill="#4bffb4"/><circle cx="342.6" cy="268.3" fill="#00ddff"/><circle cx="285.4" cy="305.6" fill="#00009e"/><circle cx="360.6" cy="295.2" fill="#0000ad"/><circle cx="328.0" cy="247.4" fill="#0029ff"/><circle cx="321.9" cy="239.6" fill="#0000e8"/><circle cx="244.7" cy="286.8" fill="#0057ff"/><circle cx="243.9" cy="220.3" fill="#1affe5"/><circle cx="341.7" cy="291.4" fill="#002aff"/><circle cx="261.7" cy="311.2" fill="#009aff"/><circle cx="354.1" cy="221.4" fill="#00bfff"/><circle cx="234.1" cy="242.3" fill="#00d3ff"/><circle cx="336.4" cy="233.2" fill="#00bdff"/><circle cx="316.5" cy="218.1" fill="#17ffe8"/><circle cx="348.0" cy="241.3" fill="#48ffb7"/><circle cx="364.7" cy="239.6" fill="#0047ff"/><circle cx="303.8" cy="214.7" fill="#00aeff"/><circle cx="275.7" cy="295.7" fill="#0003ff"/><circle cx="383.0" cy="308.8" fill="#0000b5"/><circle cx="355.8" cy="302.8" fill="#003fff"/><circle cx="321.0" cy="247.4" fill="#0055ff"/><circle cx="373.8" cy="271.3" fill="#006bff"/><circle cx="369.1" cy="264.5" fill="#0cfff3"/><circle cx="365.2" cy="232.5" fill="#00d0ff"/><circle cx="348.5" cy="220.7" fill="#79ff86"/><circle cx="346.5" cy="260.1" fill="#00afff"/><circle cx="325.0" cy="244.8" fill="#006aff"/><circle cx="265.2" cy="214.8" fill="#00a3ff"/><circle cx="350.3" cy="234.7" fill="#00fbff"/><circle cx="373.3" cy="275.6" fill="#001fff"/><circle cx="368.3" cy="282.8" fill="#005fff"/><circle cx="330.6" cy="274.3" fill="#0034ff"/><circle cx="354.8" cy="306.8" fill="#0002ff"/><circle cx="247.9" cy="228.6" fill="#0093ff"/><circle cx="342.0" cy="285.2" fill="#0084ff"/><circle cx="354.0" cy="223.0" fill="#0cfff3"/><circle cx="291.9" cy="217.0" fill="#29ffd6"/><circle cx="317.9" cy="261.6" fill="#0019ff"/><circle cx="253.3" cy="238.0" fill="#00b8ff"/><circle cx="273.0" cy="229.3" fill="#00d8ff"/><circle cx="243.3" cy="276.6" fill="#0000d2"/><circle cx="279.3" cy="245.3" fill="#0077ff"/><circle cx="286.2" cy="213.9" fill="#009fff"/><circle cx="250.3" cy="277.5" fill="#0000bc"/><circle cx="261.9" cy="270.6" fill="#0065ff"/><circle cx="255.0" cy="293.1" fill="#0000d2"/><circle cx="294.6" cy="308.2" fill="#0021ff"/><circle cx="310.2" cy="229.9" fill="#001fff"/><circle cx="308.1" cy="302.6" fill="#0022ff"/><circle cx="314.9" cy="270.9" fill="#0007ff"/><circle cx="379.3" cy="233.7" fill="#0000a6"/><circle cx="375.8" cy="214.0" fill="#00b8ff"/><circle cx="350.8" cy="295.3" fill="#00009e"/><circle cx="368.3" cy="259.7" fill="#0020ff"/><circle cx="332.1" cy="270.4" fill="#0000e3"/><circle cx="307.7" cy="244.5" fill="#0056ff"/><circle cx="332.3" cy="213.0" fill="#70ff8f"/><circle cx="287.4" cy="310.9" fill="#0055ff"/><circle cx="324.5" cy="299.2" fill="#00009e"/><circle cx="385.5" cy="280.9" fill="#0076ff"/><circle cx="300.0" cy="220.2" fill="#00bbff"/><circle cx="296.0" cy="272.4" fill="#0059ff"/><circle cx="287.5" cy="249.4" fill="#0024ff"/><circle cx="308.9" cy="211.4" fill="#004aff"/><circle cx="350.3" cy="304.6" fill="#00009e"/><circle cx="385.8" cy="310.1" fill="#0000b3"/><circle cx="368.2" cy="219.7" fill="#00e6ff"/><circle cx="266.5" cy="279.4" fill="#00c7ff"/><circle cx="270.2" cy="292.5" fill="#0000f3"/><circle cx="282.1" cy="233.2" fill="#0045ff"/><circle cx="321.2" cy="205.5" fill="#00aeff"/><circle cx="369.1" cy="270.9" fill="#0097ff"/><circle cx="342.6" cy="242.4" fill="#87ff78"/><circle cx="358.9" cy="291.8" fill="#0000c9"/><circle cx="249.7" cy="301.5" fill="#0037ff"/><circle cx="364.1" cy="280.1" fill="#009cff"/><circle cx="282.9" cy="246.4" fill="#0013ff"/><circle cx="366.3" cy="255.5" fill="#0014ff"/><circle cx="359.4" cy="242.1" fill="#0089ff"/><circle cx="304.9" cy="264.9" fill="#0000b2"/><circle cx="251.4" cy="261.3" fill="#0000fd"/><circle cx="297.5" cy="308.9" fill="#0028ff"/><circle cx="253.3" cy="294.9" fill="#0092ff"/><circle cx="295.3" cy="249.2" fill="#0060ff"/><circle cx="380.7" cy="262.9" fill="#26ffd9"/><circle cx="241.2" cy="267.2" fill="#0000ff"/><circle cx="258.8" cy="267.6" fill="#0000c4"/><circle cx="375.1" cy="235.8" fill="#0000bf"/><circle cx="258.4" cy="226.4" fill="#00c9ff"/><circle cx="245.8" cy="288.2" fill="#0042ff"/><circle cx="335.3" cy="235.7" fill="#008dff"/><circle cx="235.1" cy="224.4" fill="#00acff"/><circle cx="326.9" cy="304.1" fill="#00009e"/><circle cx="317.7" cy="242.9" fill="#009aff"/><circle cx="374.4" cy="273.5" fill="#25ffda"/><circle cx="229.2" cy="245.5" fill="#00f5ff"/><circle cx="334.1" cy="232.4" fill="#27ffd8"/><circle cx="337.2" cy="277.0" fill="#009eff"/><circle cx="283.9" cy="230.5" fill="#34ffcb"/><circle cx="305.5" cy="268.2" fill="#0003ff"/><circle cx="362.0" cy="202.0" fill="#fffe00"/><circle cx="297.6" cy="257.9" fill="#0080ff"/><circle cx="292.4" cy="210.4" fill="#15ffea"/><circle cx="268.9" cy="274.3" fill="#000cff"/><circle cx="315.7" cy="215.1" fill="#00b8ff"/><circle cx="304.3" cy="207.0" fill="#00b2ff"/><circle cx="332.8" cy="244.4" fill="#00e2ff"/><circle cx="353.6" cy="255.4" fill="#00d9ff"/><circle cx="269.2" cy="260.3" fill="#0000b4"/><circle cx="363.0" cy="242.8" fill="#0000e2"/><circle cx="249.6" cy="283.8" fill="#00009e"/><circle cx="372.7" cy="208.7" fill="#0efff1"/><circle cx="255.0" cy="255.5" fill="#0067ff"/><circle cx="316.7" cy="273.0" fill="#0000f1"/><circle cx="353.7" cy="270.5" fill="#0087ff"/><circle cx="373.3" cy="266.0" fill="#0075ff"/><circle cx="365.0" cy="295.6" fill="#00009e"/><circle cx="316.2" cy="222.2" fill="#1bffe4"/><circle cx="298.4" cy="235.6" fill="#004eff"/><circle cx="357.5" cy="310.7" fill="#0000b0"/><circle cx="342.8" cy="299.4" fill="#0000b2"/><circle cx="323.5" cy="211.1" fill="#5bffa4"/><circle cx="274.0" cy="235.9" fill="#0099ff"/><circle cx="319.7" cy="276.3" fill="#0000e4"/><circle cx="370.4" cy="205.5" fill="#c9ff36"/><circle cx="272.1" cy="258.4" fill="#006bff"/><circle cx="347.4" cy="213.8" fill="#73ff8c"/><circle cx="261.0" cy="232.2" fill="#01fffe"/><circle cx="320.1" cy="223.6" fill="#50ffaf"/><circle cx="335.2" cy="255.2" fill="#0000a9"/><circle cx="366.2" cy="230.3" fill="#00a4ff"/><circle cx="316.3" cy="235.8" fill="#0afff5"/><circle cx="317.5" cy="257.0" fill="#0058ff"/><circle cx="342.1" cy="236.3" fill="#2cffd3"/><circle cx="385.1" cy="291.7" fill="#007bff"/><circle cx="310.4" cy="257.9" fill="#0032ff"/><circle cx="287.8" cy="266.6" fill="#0042ff"/><circle cx="286.9" cy="227.2" fill="#00b6ff"/><circle cx="236.6" cy="224.0" fill="#00b0ff"/><circle cx="333.2" cy="308.6" fill="#00009e"/><circle cx="360.8" cy="285.0" fill="#0042ff"/><circle cx="269.3" cy="311.2" fill="#0000da"/><circle cx="347.3" cy="252.3" fill="#005aff"/><circle cx="296.2" cy="295.7" fill="#0020ff"/><circle cx="378.3" cy="299.6" fill="#004bff"/><circle cx="313.1" cy="223.8" fill="#3bffc4"/><circle cx="269.0" cy="222.4" fill="#00a3ff"/><circle cx="364.5" cy="281.9" fill="#00e4ff"/><circle cx="253.2" cy="276.2" fill="#0000e2"/><circle cx="314.0" cy="242.1" fill="#0062ff"/><circle cx="344.9" cy="232.8" fill="#00baff"/><circle cx="386.1" cy="295.1" fill="#0030ff"/><circle cx="287.2" cy="261.0" fill="#0097ff"/><circle cx="303.3" cy="269.8" fill="#0000f7"/><circle cx="372.7" cy="288.9" fill="#00a6ff"/><circle cx="344.2" cy="245.7" fill="#00b3ff"/><circle cx="321.1" cy="236.2" fill="#009bff"/><circle cx="285.4" cy="266.8" fill="#00eaff"/><circle cx="299.3" cy="280.2" fill="#0022ff"/><circle cx="242.3" cy="226.8" fill="#00c4ff"/><circle cx="307.8" cy="283.1" fill="#0000a9"/><circle cx="269.8" cy="279.8" fill="#00009e"/><circle cx="317.9" cy="308.8" fill="#00009e"/><circle cx="318.5" cy="232.1" fill="#00b7ff"/><circle cx="246.9" cy="281.9" fill="#000cff"/><circle cx="279.7" cy="239.7" fill="#0078ff"/><circle cx="240.8" cy="223.4" fill="#0019ff"/><circle cx="345.7" cy="279.2" fill="#00cbff"/><circle cx="353.6" cy="263.2" fill="#0ffff0"/><circle cx="369.5" cy="237.9" fill="#00d8ff"/><circle cx="377.0" cy="301.1" fill="#0070ff"/><circle cx="301.7" cy="301.9" fill="#0000e3"/><circle cx="372.9" cy="264.9" fill="#00acff"/><circle cx="337.0" cy="238.6" fill="#00eeff"/><circle cx="342.2" cy="222.9" fill="#00f5ff"/><circle cx="298.0" cy="310.7" fill="#0000bc"/><circle cx="352.6" cy="266.1" fill="#005eff"/><circle cx="377.4" cy="219.7" fill="#0051ff"/><circle cx="247.8" cy="239.7" fill="#0036ff"/><circle cx="357.2" cy="216.2" fill="#20ffdf"/><circle cx="353.8" cy="200.7" fill="#ffc700"/><circle cx="281.7" cy="241.4" fill="#0000ef"/><circle cx="363.2" cy="229.7" fill="#006eff"/><circle cx="344.7" cy="239.8" fill="#51ffae"/><circle cx="363.8" cy="255.8" fill="#0092ff"/><circle cx="365.3" cy="271.0" fill="#00bcff"/><circle cx="252.2" cy="299.6" fill="#004bff"/><circle cx="332.3" cy="263.2" fill="#0026ff"/><circle cx="259.8" cy="257.0" fill="#0046ff"/><circle cx="360.8" cy="271.1" fill="#00c1ff"/><circle cx="365.5" cy="200.3" fill="#ffca00"/></g><g transform="translate(-196.50,-96.80) scale(0.5)" fill="none" stroke-width="9.4" stroke-linecap="round"><path stroke="#000099" d="M626 534h0M658 602h0M662 603h0M667 602h0M644 621h0M648 621h0M652 621h0M658 621h0M661 620h0M659 623h0M664 624h0M682 623h0M686 624h0M701 624h0M760 624h0M764 624h0M782 623h0"/><path stroke="#0000b2" d="M628 530h0M632 534h0M624 536h0M662 571h0M664 574h0M668 573h0M660 577h0M666 578h0M643 586h0M660 592h0M664 592h0M695 590h0M666 596h0M672 595h0M675 596h0M649 600h0M654 599h0M660 599h0M663 598h0M667 599h0M673 600h0M677 600h0M711 599h0M669 603h0M676 604h0M707 604h0M712 602h0M718 604h0M720 603h0M731 604h0M623 609h0M637 607h0M641 606h0M673 607h0M677 609h0M706 607h0M719 606h0M724 608h0M728 606h0M731 606h0M619 613h0M661 613h0M665 613h0M671 611h0M676 613h0M681 611h0M686 611h0M692 612h0M616 616h0M659 616h0M663 615h0M669 616h0M673 616h0M678 616h0M681 616h0M685 617h0M690 615h0M705 616h0M628 619h0M666 621h0M670 620h0M675 618h0M680 620h0M685 619h0M690 620h0M699 620h0M704 620h0M707 621h0M753 621h0M758 619h0M763 619h0M782 620h0M623 623h0M649 623h0M669 623h0M674 623h0M677 623h0M780 624h0"/><path stroke="#0000cc" d="M652 520h0M526 526h0M646 525h0M623 532h0M635 534h0M619 536h0M630 538h0M648 545h0M652 544h0M656 546h0M627 550h0M650 558h0M656 572h0M665 571h0M659 575h0M672 573h0M656 579h0M670 579h0M675 577h0M646 584h0M650 581h0M670 586h0M676 586h0M655 592h0M668 590h0M678 590h0M681 592h0M638 596h0M657 596h0M660 595h0M690 594h0M708 596h0M644 600h0M682 600h0M701 600h0M705 598h0M714 599h0M719 598h0M723 598h0M729 600h0M733 600h0M639 603h0M643 604h0M646 603h0M653 605h0M702 603h0M724 604h0M735 603h0M748 604h0M598 609h0M626 607h0M631 606h0M655 606h0M659 607h0M663 609h0M667 607h0M683 608h0M701 608h0M709 608h0M715 607h0M738 607h0M596 611h0M616 612h0M625 611h0M630 613h0M633 611h0M639 610h0M643 611h0M649 610h0M653 610h0M690 610h0M699 613h0M713 611h0M718 611h0M731 611h0M758 612h0M781 612h0M613 616h0M622 617h0M628 616h0M646 616h0M651 614h0M653 615h0M696 616h0M701 616h0M743 616h0M752 615h0M759 615h0M620 621h0M626 620h0M634 621h0M639 621h0M693 619h0M713 621h0M740 621h0M749 621h0M777 619h0M633 623h0M636 624h0M710 624h0M713 624h0M751 624h0"/><path stroke="#0000e6" d="M580 507h0M533 521h0M594 521h0M596 519h0M648 520h0M658 519h0M531 525h0M627 524h0M633 524h0M651 525h0M655 524h0M659 525h0M523 527h0M621 529h0M624 529h0M633 530h0M640 530h0M643 527h0M647 529h0M652 529h0M619 532h0M640 533h0M517 536h0M610 538h0M616 536h0M635 537h0M638 537h0M643 536h0M647 537h0M653 537h0M656 536h0M511 540h0M526 542h0M529 542h0M608 540h0M631 540h0M635 540h0M640 541h0M645 540h0M650 541h0M654 542h0M660 542h0M664 542h0M644 544h0M511 548h0M642 549h0M646 550h0M659 549h0M664 549h0M668 548h0M607 553h0M616 553h0M619 553h0M630 553h0M638 553h0M642 553h0M661 554h0M635 558h0M641 557h0M645 557h0M655 557h0M644 562h0M649 563h0M653 562h0M657 562h0M661 563h0M640 566h0M646 565h0M656 566h0M664 567h0M668 566h0M674 566h0M501 570h0M671 571h0M498 573h0M507 575h0M649 575h0M654 575h0M677 574h0M492 579h0M649 580h0M653 579h0M693 579h0M639 584h0M654 582h0M660 582h0M663 582h0M669 584h0M674 583h0M678 582h0M696 584h0M714 582h0M639 587h0M649 588h0M653 587h0M656 587h0M661 588h0M665 585h0M680 586h0M685 587h0M689 587h0M694 587h0M699 588h0M646 589h0M672 591h0M685 591h0M691 590h0M699 590h0M705 591h0M493 596h0M642 594h0M646 594h0M652 596h0M681 595h0M695 596h0M698 594h0M702 596h0M712 596h0M716 595h0M722 594h0M726 595h0M730 594h0M771 595h0M780 596h0M494 599h0M499 599h0M637 599h0M640 599h0M687 599h0M692 599h0M778 598h0M495 602h0M582 604h0M634 603h0M681 604h0M684 604h0M690 603h0M698 604h0M740 602h0M752 604h0M776 604h0M582 607h0M586 608h0M594 607h0M618 607h0M645 607h0M650 608h0M688 606h0M692 606h0M696 606h0M742 607h0M746 606h0M764 608h0M770 608h0M774 607h0M602 611h0M607 611h0M611 611h0M658 611h0M704 610h0M707 613h0M722 611h0M725 612h0M734 610h0M739 612h0M753 612h0M764 611h0M767 612h0M594 615h0M599 617h0M632 616h0M637 617h0M640 616h0M711 616h0M720 617h0M729 615h0M733 616h0M738 616h0M747 615h0M755 615h0M775 616h0M777 615h0M598 621h0M601 621h0M611 621h0M615 619h0M717 619h0M721 619h0M734 620h0M743 620h0M768 620h0M773 620h0M595 623h0M600 623h0M723 623h0M734 623h0M738 623h0M742 624h0"/><path stroke="#0000ff" d="M660 501h0M578 507h0M632 507h0M626 512h0M640 512h0M648 513h0M598 517h0M645 517h0M650 516h0M654 517h0M602 520h0M606 521h0M611 522h0M623 520h0M633 522h0M644 520h0M661 520h0M600 525h0M603 524h0M613 524h0M623 525h0M642 524h0M663 525h0M656 530h0M608 534h0M614 532h0M644 532h0M650 533h0M656 533h0M660 534h0M674 533h0M515 536h0M522 536h0M606 536h0M660 536h0M665 537h0M516 542h0M522 542h0M605 541h0M612 540h0M623 542h0M627 542h0M514 546h0M519 546h0M523 544h0M527 545h0M611 545h0M614 546h0M625 545h0M629 547h0M634 546h0M639 545h0M662 546h0M667 544h0M517 551h0M548 549h0M553 549h0M599 549h0M604 549h0M610 549h0M614 550h0M618 549h0M623 548h0M632 550h0M636 548h0M649 550h0M655 551h0M672 550h0M528 553h0M596 555h0M601 553h0M612 555h0M625 554h0M635 554h0M648 554h0M652 554h0M656 555h0M665 553h0M671 554h0M593 557h0M599 558h0M605 557h0M658 557h0M515 563h0M592 562h0M596 563h0M629 561h0M633 562h0M639 563h0M512 565h0M637 566h0M650 567h0M659 567h0M504 570h0M511 569h0M519 569h0M638 569h0M643 570h0M648 570h0M652 570h0M674 569h0M490 575h0M494 573h0M504 576h0M511 575h0M646 575h0M487 577h0M499 578h0M505 578h0M509 578h0M593 580h0M681 579h0M688 579h0M698 579h0M703 578h0M713 578h0M716 578h0M488 583h0M637 584h0M681 582h0M688 583h0M693 582h0M700 583h0M705 582h0M708 582h0M719 583h0M491 586h0M515 588h0M518 588h0M522 586h0M634 586h0M707 587h0M712 588h0M716 585h0M735 587h0M489 590h0M493 591h0M516 592h0M521 590h0M641 592h0M650 590h0M709 591h0M714 591h0M723 591h0M728 590h0M733 590h0M738 591h0M497 595h0M500 595h0M582 594h0M587 594h0M616 595h0M621 595h0M624 596h0M633 596h0M684 594h0M736 595h0M741 596h0M743 596h0M749 596h0M777 596h0M614 600h0M617 600h0M622 599h0M626 598h0M632 599h0M695 599h0M739 598h0M742 598h0M768 598h0M775 599h0M560 602h0M566 604h0M587 604h0M619 604h0M625 602h0M628 604h0M693 604h0M743 603h0M767 603h0M771 603h0M506 608h0M566 609h0M576 607h0M589 606h0M605 606h0M609 607h0M614 608h0M751 606h0M756 608h0M760 608h0M506 612h0M509 611h0M561 612h0M563 612h0M589 613h0M592 613h0M744 611h0M750 612h0M773 611h0M776 612h0M522 616h0M562 615h0M591 615h0M603 616h0M716 616h0M722 615h0M765 615h0M768 617h0M592 619h0M724 620h0M729 620h0M591 624h0M608 623h0"/><path stroke="#0019ff" d="M639 505h0M657 504h0M660 503h0M573 508h0M626 509h0M635 508h0M642 509h0M644 508h0M575 511h0M629 512h0M634 512h0M643 511h0M652 513h0M657 512h0M628 517h0M631 515h0M637 516h0M640 516h0M660 517h0M587 520h0M621 522h0M629 521h0M596 524h0M609 526h0M618 525h0M636 524h0M528 529h0M606 528h0M615 529h0M663 528h0M664 534h0M668 532h0M578 537h0M582 537h0M588 537h0M671 536h0M572 540h0M618 541h0M669 542h0M534 544h0M593 546h0M597 544h0M602 545h0M607 546h0M620 544h0M672 545h0M522 550h0M525 550h0M531 550h0M536 550h0M543 548h0M594 549h0M515 554h0M519 554h0M524 553h0M583 554h0M588 554h0M592 553h0M572 559h0M590 559h0M627 558h0M631 557h0M664 558h0M566 562h0M589 561h0M601 562h0M620 562h0M624 563h0M665 561h0M517 567h0M618 565h0M632 566h0M514 569h0M597 572h0M635 571h0M680 571h0M712 571h0M516 576h0M521 575h0M563 574h0M566 574h0M596 574h0M599 573h0M682 575h0M695 575h0M711 574h0M715 574h0M718 575h0M766 576h0M770 575h0M497 578h0M514 579h0M518 579h0M565 579h0M589 578h0M598 578h0M602 578h0M605 580h0M644 578h0M685 577h0M708 578h0M720 579h0M725 578h0M769 577h0M506 584h0M512 583h0M518 583h0M598 584h0M605 581h0M731 584h0M738 582h0M496 585h0M499 587h0M506 587h0M510 587h0M529 586h0M538 587h0M606 587h0M628 588h0M703 586h0M726 587h0M729 588h0M740 588h0M498 591h0M503 590h0M511 590h0M562 590h0M587 592h0M636 591h0M718 591h0M741 590h0M745 592h0M768 591h0M773 591h0M579 596h0M630 595h0M753 596h0M757 595h0M763 595h0M766 596h0M502 599h0M562 600h0M598 600h0M746 598h0M500 605h0M552 604h0M555 604h0M579 603h0M611 602h0M615 603h0M781 602h0M503 608h0M511 607h0M558 608h0M563 608h0M572 609h0M780 606h0M538 613h0M543 612h0M569 613h0M578 611h0M584 611h0M504 616h0M508 615h0M516 615h0M526 615h0M536 615h0M557 615h0M568 615h0M586 615h0M607 617h0M500 619h0M589 620h0M606 620h0M538 623h0M544 624h0M568 623h0"/><path stroke="#0033ff" d="M644 504h0M665 504h0M568 508h0M653 507h0M660 507h0M662 508h0M570 511h0M662 512h0M584 515h0M589 518h0M595 516h0M665 517h0M537 521h0M639 519h0M667 520h0M671 521h0M536 525h0M589 524h0M668 526h0M534 530h0M536 530h0M597 529h0M612 528h0M666 529h0M671 529h0M674 528h0M684 528h0M522 534h0M540 533h0M605 532h0M678 534h0M534 538h0M548 538h0M550 536h0M602 536h0M536 540h0M576 541h0M600 540h0M537 547h0M556 544h0M674 544h0M539 548h0M558 548h0M562 548h0M566 550h0M586 551h0M590 550h0M534 555h0M538 553h0M543 555h0M547 554h0M552 553h0M556 553h0M561 554h0M676 553h0M526 557h0M534 556h0M562 558h0M576 557h0M581 558h0M608 558h0M617 557h0M670 558h0M673 557h0M519 563h0M561 562h0M569 563h0M574 562h0M578 561h0M611 562h0M670 561h0M522 565h0M524 566h0M558 565h0M567 567h0M582 567h0M586 566h0M591 566h0M622 565h0M627 567h0M678 565h0M736 565h0M523 570h0M532 570h0M561 571h0M565 570h0M574 571h0M579 569h0M593 570h0M630 570h0M707 571h0M717 571h0M526 575h0M559 576h0M589 575h0M603 575h0M686 574h0M690 574h0M701 573h0M706 575h0M732 574h0M774 573h0M527 578h0M552 578h0M555 578h0M559 578h0M582 579h0M610 580h0M730 577h0M734 579h0M740 578h0M757 578h0M762 579h0M777 579h0M494 583h0M497 583h0M502 582h0M522 581h0M540 583h0M596 583h0M607 583h0M627 582h0M632 582h0M743 583h0M532 586h0M543 586h0M564 587h0M569 586h0M593 587h0M596 586h0M601 587h0M722 588h0M744 587h0M507 590h0M581 592h0M605 590h0M622 591h0M628 592h0M632 591h0M751 590h0M756 590h0M761 591h0M506 596h0M510 595h0M515 596h0M561 595h0M564 596h0M592 594h0M559 598h0M568 598h0M589 598h0M595 598h0M610 598h0M755 600h0M761 599h0M765 600h0M570 603h0M573 602h0M593 604h0M597 603h0M602 602h0M606 603h0M758 604h0M761 604h0M497 608h0M547 607h0M552 607h0M497 612h0M499 611h0M545 611h0M555 611h0M499 615h0M511 615h0M550 616h0M554 617h0M575 616h0M581 616h0M504 621h0M515 619h0M542 619h0M548 619h0M551 619h0M570 620h0M574 620h0M577 619h0M521 624h0M534 624h0M562 623h0M572 624h0"/><path stroke="#004dff" d="M649 504h0M651 505h0M649 507h0M578 513h0M589 512h0M667 511h0M539 517h0M573 516h0M576 516h0M580 516h0M668 515h0M674 516h0M579 520h0M584 520h0M582 523h0M673 525h0M677 525h0M683 525h0M542 527h0M545 528h0M588 530h0M593 529h0M601 529h0M681 528h0M527 533h0M531 533h0M536 532h0M544 533h0M548 534h0M558 533h0M585 533h0M591 534h0M596 532h0M599 533h0M528 537h0M539 537h0M541 537h0M557 536h0M573 537h0M591 537h0M598 538h0M676 537h0M539 540h0M544 541h0M555 542h0M558 541h0M562 542h0M567 542h0M586 542h0M589 543h0M595 540h0M673 540h0M676 542h0M546 545h0M550 544h0M561 544h0M566 544h0M574 545h0M579 545h0M583 545h0M589 546h0M564 555h0M517 557h0M531 558h0M538 559h0M545 557h0M550 559h0M557 557h0M567 557h0M585 557h0M614 559h0M622 558h0M524 562h0M528 562h0M542 562h0M545 563h0M556 562h0M582 561h0M606 563h0M614 561h0M676 562h0M734 560h0M531 566h0M562 566h0M571 565h0M576 567h0M595 566h0M603 567h0M609 566h0M613 566h0M715 566h0M734 566h0M528 569h0M571 570h0M584 571h0M588 569h0M603 570h0M605 570h0M616 571h0M620 570h0M625 571h0M684 570h0M702 571h0M734 569h0M740 571h0M530 575h0M535 575h0M554 575h0M570 576h0M578 575h0M582 574h0M584 573h0M609 575h0M614 576h0M617 574h0M627 573h0M640 574h0M750 573h0M524 579h0M534 577h0M536 578h0M543 578h0M545 580h0M639 577h0M755 578h0M772 579h0M525 584h0M530 584h0M536 582h0M544 582h0M576 583h0M584 582h0M590 581h0M613 582h0M621 583h0M723 583h0M746 582h0M775 582h0M777 581h0M545 586h0M559 587h0M575 586h0M577 586h0M589 586h0M611 588h0M623 588h0M748 586h0M753 586h0M758 587h0M762 586h0M777 588h0M539 590h0M559 592h0M567 590h0M591 592h0M595 591h0M598 591h0M609 590h0M617 592h0M765 589h0M779 590h0M518 596h0M556 594h0M575 595h0M598 595h0M611 595h0M515 598h0M572 599h0M575 600h0M581 600h0M585 599h0M750 600h0M505 605h0M509 604h0M514 602h0M547 603h0M516 608h0M535 609h0M540 607h0M543 608h0M514 611h0M523 612h0M534 610h0M552 611h0M574 612h0M531 617h0M540 616h0M545 615h0M572 615h0M511 621h0M517 619h0M522 619h0M528 620h0M532 619h0M538 619h0M555 619h0M583 620h0M581 623h0"/><path stroke="#0066ff" d="M679 505h0M561 509h0M669 508h0M676 509h0M683 508h0M564 512h0M583 513h0M671 512h0M675 513h0M679 513h0M568 517h0M551 519h0M571 520h0M675 521h0M540 525h0M548 525h0M553 524h0M567 524h0M571 524h0M577 525h0M586 526h0M692 525h0M559 527h0M565 530h0M688 528h0M554 534h0M563 534h0M580 532h0M693 534h0M561 536h0M568 536h0M547 542h0M582 542h0M542 545h0M570 546h0M679 545h0M570 549h0M580 549h0M678 550h0M570 554h0M578 553h0M707 553h0M553 559h0M534 562h0M538 561h0M551 563h0M712 562h0M535 566h0M541 566h0M545 566h0M547 565h0M554 567h0M600 567h0M682 566h0M710 566h0M742 567h0M536 571h0M556 569h0M612 569h0M688 571h0M693 570h0M771 571h0M539 573h0M544 574h0M547 574h0M623 576h0M637 574h0M738 574h0M742 575h0M747 574h0M755 574h0M761 573h0M569 579h0M578 577h0M616 580h0M633 579h0M746 579h0M748 578h0M549 583h0M553 582h0M559 583h0M563 583h0M568 581h0M572 583h0M582 583h0M617 584h0M728 583h0M752 584h0M764 582h0M770 581h0M584 586h0M614 587h0M620 586h0M527 592h0M535 590h0M576 592h0M614 590h0M525 594h0M536 595h0M550 595h0M571 595h0M603 596h0M605 595h0M508 600h0M512 599h0M522 598h0M543 600h0M554 600h0M604 598h0M519 602h0M524 604h0M533 602h0M542 604h0M520 606h0M518 612h0M561 619h0"/><path stroke="#0080ff" d="M671 505h0M674 507h0M559 513h0M544 518h0M676 517h0M543 520h0M546 521h0M555 519h0M561 520h0M565 522h0M574 522h0M679 521h0M683 520h0M543 523h0M557 523h0M562 525h0M686 523h0M552 528h0M555 528h0M570 530h0M579 529h0M583 530h0M693 530h0M568 533h0M575 534h0M683 532h0M695 533h0M566 537h0M692 536h0M682 541h0M577 550h0M574 552h0M522 557h0M709 559h0M680 562h0M707 561h0M702 567h0M746 567h0M542 570h0M546 572h0M552 570h0M697 570h0M745 570h0M750 571h0M752 571h0M757 570h0M763 571h0M631 575h0M573 580h0M620 577h0M624 579h0M628 579h0M755 583h0M760 583h0M555 587h0M773 587h0M530 592h0M544 592h0M554 590h0M572 591h0M528 595h0M541 595h0M545 596h0M526 600h0M530 599h0M536 600h0M540 600h0M549 599h0M527 604h0M536 603h0M524 608h0M531 606h0M528 610h0M564 619h0"/><path stroke="#0099ff" d="M675 505h0M556 512h0M684 513h0M550 516h0M554 515h0M557 518h0M563 515h0M681 515h0M574 528h0M573 532h0M687 533h0M679 537h0M698 536h0M683 544h0M702 553h0M677 558h0M705 559h0M702 563h0M687 567h0M704 566h0M551 588h0M767 587h0M549 590h0M533 596h0"/><path stroke="#00b2ff" d="M551 511h0M688 513h0M681 550h0M704 551h0"/><path stroke="#00ccff" d="M687 517h0M701 549h0M680 555h0M684 562h0"/><path stroke="#00e5ff" d="M686 538h0M690 538h0M688 540h0M700 541h0M700 546h0M702 545h0M697 548h0M683 553h0M699 553h0M682 557h0M700 557h0M691 565h0M695 566h0"/><path stroke="#00ffff" d="M690 519h0M695 545h0M687 548h0M693 551h0M698 561h0"/><path stroke="#1affe5" d="M692 540h0M695 541h0M690 546h0M695 554h0M695 561h0"/><path stroke="#33ffcc" d="M688 554h0M687 557h0M689 562h0"/><path stroke="#4dffb2" d="M692 557h0M695 558h0"/></g></g>
<use href="#map"/>
</g>
<rect x="862.25" y="95.50" width="23.00" height="215.00" fill="url(#jet)" stroke="#262626" stroke-width="1"/>
<path d="M885.25 203.00h-2.3" stroke="#262626" stroke-width="1"/>
<text class="b c" x="893.4" y="103.9">100</text>
<text class="b c" x="893.4" y="211.4">50</text>
<text class="b c" x="893.4" y="318.9">0</text>
<text class="b x" y="340.8"><tspan x="561.0">SAT</tspan><tspan x="617.8">200</tspan><tspan x="673.1">hPa</tspan><tspan x="730.2">RH</tspan><tspan x="776.5">(Percent)</tspan></text>
<text class="b t" x="635.4" y="76.9">100</text>
<text class="b d" x="665.9" y="70.6" text-anchor="middle">°</text>
<text class="b t" x="673.5" y="76.9">W</text>
<text class="b t" x="704.5" y="76.9">90</text>
<text class="b d" x="726.0" y="70.6" text-anchor="middle">°</text>
<text class="b t" x="733.6" y="76.9">W</text>
<text class="b t" x="768.5" y="76.9">80</text>
<text class="b d" x="790.0" y="70.6" text-anchor="middle">°</text>
<text class="b t" x="797.6" y="76.9">W</text>
<text class="b t" x="832.1" y="76.9">70</text>
<text class="b d" x="853.6" y="70.6" text-anchor="middle">°</text>
<text class="b t" x="861.2" y="76.9">W</text>
<text class="b t" x="566.5" y="113.7">48</text>
<text class="b d" x="589.4" y="107.6" text-anchor="middle">°</text>
<text class="b t" x="595.5" y="113.7">N</text>
<text class="b t" x="566.5" y="131.2">46</text>
<text class="b d" x="589.4" y="125.1" text-anchor="middle">°</text>
<text class="b t" x="595.5" y="131.2">N</text>
<text class="b t" x="566.5" y="148.2">44</text>
<text class="b d" x="589.4" y="142.1" text-anchor="middle">°</text>
<text class="b t" x="595.5" y="148.2">N</text>
<text class="b t" x="566.5" y="167.2">42</text>
<text class="b d" x="589.4" y="161.1" text-anchor="middle">°</text>
<text class="b t" x="595.5" y="167.2">N</text>
<text class="b t" x="566.5" y="183.4">40</text>
<text class="b d" x="589.4" y="177.3" text-anchor="middle">°</text>
<text class="b t" x="595.5" y="183.4">N</text>
<text class="b t" x="566.5" y="198.4">38</text>
<text class="b d" x="589.4" y="192.3" text-anchor="middle">°</text>
<text class="b t" x="595.5" y="198.4">N</text>
<text class="b t" x="566.5" y="215.2">36</text>
<text class="b d" x="589.4" y="209.1" text-anchor="middle">°</text>
<text class="b t" x="595.5" y="215.2">N</text>
<text class="b t" x="566.5" y="229.7">34</text>
<text class="b d" x="589.4" y="223.6" text-anchor="middle">°</text>
<text class="b t" x="595.5" y="229.7">N</text>
<text class="b t" x="566.5" y="246.7">32</text>
<text class="b d" x="589.4" y="240.6" text-anchor="middle">°</text>
<text class="b t" x="595.5" y="246.7">N</text>
<text class="b t" x="566.5" y="260.7">30</text>
<text class="b d" x="589.4" y="254.6" text-anchor="middle">°</text>
<text class="b t" x="595.5" y="260.7">N</text>
<text class="b t" x="566.5" y="273.2">28</text>
<text class="b d" x="589.4" y="267.1" text-anchor="middle">°</text>
<text class="b t" x="595.5" y="273.2">N</text>
<text class="b t" x="566.5" y="288.0">26</text>
<text class="b d" x="589.4" y="281.9" text-anchor="middle">°</text>
<text class="b t" x="595.5" y="288.0">N</text>
<text class="b t" x="566.5" y="302.5">24</text>
<text class="b d" x="589.4" y="296.4" text-anchor="middle">°</text>
<text class="b t" x="595.5" y="302.5">N</text>
<text class="b t" x="566.5" y="315.8">22</text>
<text class="b d" x="589.4" y="309.7" text-anchor="middle">°</text>
<text class="b t" x="595.5" y="315.8">N</text>
<rect x="1037.90" y="95.90" width="234.50" height="214.50" fill="#fff" stroke="#262626" stroke-width="1"/>
<g transform="translate(1037.90,95.90) scale(1.00644,1.00894)">
<g clip-path="url(#cd)"><g class="D" transform="translate(-196.50,-96.80)"><circle cx="252.4" cy="256.2" fill="#ff9700"/><circle cx="248.1" cy="235.7" fill="#bdff42"/><circle cx="227.4" cy="230.4" fill="#a2ff5d"/><circle cx="237.3" cy="244.3" fill="#ff8200"/><circle cx="247.3" cy="249.3" fill="#ff8900"/><circle cx="239.8" cy="244.8" fill="#ff9e00"/><circle cx="236.2" cy="240.5" fill="#5affa5"/><circle cx="229.1" cy="227.3" fill="#a4ff5b"/><circle cx="248.3" cy="229.3" fill="#fdff02"/><circle cx="235.3" cy="237.2" fill="#d8ff27"/><circle cx="243.7" cy="239.9" fill="#ffbf00"/><circle cx="238.1" cy="254.6" fill="#ff8300"/><circle cx="252.8" cy="255.0" fill="#ff7d00"/><circle cx="233.4" cy="233.4" fill="#c4ff3b"/><circle cx="240.5" cy="248.6" fill="#ff8600"/><circle cx="243.7" cy="264.1" fill="#ff8000"/><circle cx="247.3" cy="228.5" fill="#8dff72"/><circle cx="233.6" cy="258.0" fill="#ffb100"/><circle cx="235.2" cy="259.8" fill="#ff9a00"/><circle cx="245.8" cy="260.6" fill="#ff7800"/><circle cx="252.6" cy="237.5" fill="#75ff8a"/><circle cx="248.1" cy="265.9" fill="#21ffde"/><circle cx="242.6" cy="236.8" fill="#c1ff3e"/><circle cx="258.6" cy="253.3" fill="#a8ff57"/><circle cx="243.7" cy="250.3" fill="#ff9200"/><circle cx="244.3" cy="232.9" fill="#78ff87"/><circle cx="243.0" cy="227.7" fill="#8bff74"/><circle cx="249.8" cy="228.6" fill="#fffe00"/><circle cx="240.5" cy="230.1" fill="#afff50"/><circle cx="244.9" cy="230.2" fill="#b6ff49"/><circle cx="241.3" cy="242.0" fill="#ffe500"/><circle cx="243.8" cy="244.3" fill="#ff8600"/><circle cx="243.6" cy="257.8" fill="#ff8400"/><circle cx="245.6" cy="253.5" fill="#ff6900"/><circle cx="238.7" cy="262.7" fill="#ff8c00"/><circle cx="259.4" cy="259.2" fill="#ff7a00"/><circle cx="235.5" cy="255.3" fill="#ff9700"/><circle cx="228.0" cy="237.0" fill="#7fff80"/><circle cx="252.9" cy="244.4" fill="#ff9b00"/><circle cx="259.0" cy="256.5" fill="#ff7900"/><circle cx="240.6" cy="254.2" fill="#ff7c00"/><circle cx="245.1" cy="242.3" fill="#91ff6e"/><circle cx="248.8" cy="254.2" fill="#ff9a00"/><circle cx="248.5" cy="259.0" fill="#ff7700"/><circle cx="234.6" cy="224.2" fill="#04fffb"/><circle cx="230.2" cy="237.6" fill="#ffd600"/><circle cx="250.8" cy="241.4" fill="#f0ff0f"/><circle cx="249.9" cy="251.0" fill="#ff8000"/><circle cx="246.3" cy="256.9" fill="#ff8f00"/><circle cx="261.0" cy="254.5" fill="#ff7000"/><circle cx="232.2" cy="244.6" fill="#d0ff2f"/><circle cx="252.1" cy="249.1" fill="#ff9e00"/><circle cx="244.2" cy="265.2" fill="#75ff8a"/><circle cx="242.3" cy="260.1" fill="#ff9300"/><circle cx="231.8" cy="231.6" fill="#afff50"/><circle cx="248.3" cy="242.2" fill="#dcff23"/><circle cx="243.1" cy="267.8" fill="#00baff"/><circle cx="236.3" cy="228.7" fill="#8eff71"/><circle cx="254.5" cy="253.2" fill="#ff9900"/><circle cx="238.8" cy="247.0" fill="#ff8f00"/><circle cx="250.6" cy="234.1" fill="#82ff7d"/><circle cx="257.5" cy="257.4" fill="#ff9000"/><circle cx="249.2" cy="238.2" fill="#d7ff28"/><circle cx="247.4" cy="245.6" fill="#ff9100"/><circle cx="239.7" cy="256.8" fill="#ff7d00"/><circle cx="244.2" cy="223.8" fill="#007dff"/><circle cx="239.3" cy="225.4" fill="#8bff74"/><circle cx="230.7" cy="242.4" fill="#4cffb3"/><circle cx="248.1" cy="224.5" fill="#18ffe7"/><circle cx="246.6" cy="232.6" fill="#6fff90"/><circle cx="237.9" cy="236.7" fill="#7aff85"/><circle cx="247.7" cy="239.6" fill="#a4ff5b"/><circle cx="240.6" cy="267.8" fill="#00b9ff"/><circle cx="254.2" cy="252.1" fill="#ff7d00"/><circle cx="239.4" cy="232.2" fill="#89ff76"/><circle cx="238.8" cy="243.0" fill="#8eff71"/><circle cx="247.0" cy="263.8" fill="#ff9a00"/><circle cx="255.8" cy="262.3" fill="#00f6ff"/><circle cx="256.2" cy="261.1" fill="#ff7600"/><circle cx="232.1" cy="253.5" fill="#ff8a00"/><circle cx="239.9" cy="251.7" fill="#ff8c00"/><circle cx="240.3" cy="226.3" fill="#6cff93"/><circle cx="236.6" cy="257.2" fill="#ff9a00"/><circle cx="228.9" cy="240.4" fill="#b0ff4f"/><circle cx="236.8" cy="261.9" fill="#ff8d00"/><circle cx="250.9" cy="230.9" fill="#67ff98"/><circle cx="245.1" cy="247.4" fill="#ff7c00"/><circle cx="244.5" cy="236.4" fill="#bdff42"/><circle cx="233.1" cy="252.0" fill="#ff7f00"/><circle cx="250.5" cy="257.6" fill="#ff7d00"/><circle cx="237.5" cy="251.9" fill="#ff9200"/><circle cx="249.3" cy="261.9" fill="#ff8500"/><circle cx="250.3" cy="244.7" fill="#ff8c00"/><circle cx="230.5" cy="247.1" fill="#ffa800"/><circle cx="238.6" cy="259.3" fill="#ff9000"/><circle cx="237.5" cy="265.6" fill="#aaff55"/><circle cx="240.5" cy="224.1" fill="#05fffa"/><circle cx="230.4" cy="232.3" fill="#95ff6a"/><circle cx="235.0" cy="243.0" fill="#fffe00"/><circle cx="234.1" cy="230.2" fill="#dcff23"/><circle cx="242.7" cy="266.8" fill="#00fdff"/><circle cx="236.9" cy="229.3" fill="#8dff72"/><circle cx="254.0" cy="239.7" fill="#fbff04"/><circle cx="240.1" cy="238.8" fill="#9dff62"/><circle cx="251.4" cy="260.2" fill="#ff7300"/><circle cx="233.7" cy="248.7" fill="#ff7900"/><circle cx="235.2" cy="234.0" fill="#82ff7d"/><circle cx="232.4" cy="226.6" fill="#77ff88"/><circle cx="247.1" cy="250.3" fill="#ff8900"/><circle cx="232.1" cy="239.6" fill="#7bff84"/><circle cx="363.3" cy="286.8" fill="#009dff"/><circle cx="357.3" cy="264.8" fill="#dcff23"/><circle cx="357.8" cy="263.2" fill="#00d0ff"/><circle cx="366.0" cy="286.9" fill="#06fff9"/><circle cx="355.5" cy="257.1" fill="#a0ff5f"/><circle cx="363.2" cy="260.3" fill="#0064ff"/><circle cx="353.2" cy="253.5" fill="#00aaff"/><circle cx="346.2" cy="254.2" fill="#00c5ff"/><circle cx="359.0" cy="257.6" fill="#009eff"/><circle cx="353.1" cy="263.3" fill="#16ffe9"/><circle cx="364.5" cy="271.4" fill="#00b5ff"/><circle cx="356.2" cy="255.1" fill="#15ffea"/><circle cx="358.4" cy="252.0" fill="#0092ff"/><circle cx="363.4" cy="284.8" fill="#0035ff"/><circle cx="359.9" cy="278.5" fill="#00bfff"/><circle cx="362.5" cy="280.3" fill="#0092ff"/><circle cx="352.8" cy="257.9" fill="#a1ff5e"/><circle cx="355.7" cy="268.7" fill="#ffcb00"/><circle cx="359.5" cy="265.5" fill="#99ff66"/><circle cx="351.1" cy="252.0" fill="#00eaff"/><circle cx="364.9" cy="274.2" fill="#00cfff"/><circle cx="366.2" cy="281.4" fill="#0087ff"/><circle cx="360.0" cy="255.0" fill="#04fffb"/><circle cx="356.6" cy="272.1" fill="#11ffee"/><circle cx="364.8" cy="268.7" fill="#00c6ff"/><circle cx="349.2" cy="257.7" fill="#45ffba"/><circle cx="359.3" cy="261.0" fill="#003eff"/><circle cx="350.5" cy="253.2" fill="#00f9ff"/><circle cx="360.7" cy="272.4" fill="#00baff"/><circle cx="357.6" cy="276.8" fill="#02fffd"/><circle cx="357.9" cy="269.5" fill="#74ff8b"/><circle cx="366.1" cy="271.5" fill="#00a3ff"/><circle cx="364.1" cy="278.7" fill="#00b6ff"/><circle cx="354.3" cy="266.9" fill="#8fff70"/><circle cx="351.3" cy="259.6" fill="#00b9ff"/><circle cx="363.1" cy="266.6" fill="#00c8ff"/><circle cx="362.6" cy="269.4" fill="#00f3ff"/><circle cx="356.7" cy="259.6" fill="#008aff"/><circle cx="355.8" cy="262.1" fill="#47ffb8"/><circle cx="346.1" cy="256.7" fill="#00ffff"/><circle cx="362.3" cy="263.8" fill="#53ffac"/><circle cx="352.7" cy="260.8" fill="#2fffd0"/><circle cx="361.9" cy="275.4" fill="#00edff"/><circle cx="359.9" cy="274.6" fill="#00e4ff"/><circle cx="268.4" cy="221.1" fill="#b6ff49"/><circle cx="261.1" cy="225.9" fill="#009cff"/><circle cx="263.6" cy="223.9" fill="#27ffd8"/><circle cx="269.8" cy="222.4" fill="#b4ff4b"/><circle cx="267.5" cy="224.2" fill="#93ff6c"/><circle cx="264.2" cy="226.4" fill="#13ffec"/><circle cx="267.3" cy="230.2" fill="#4cffb3"/><circle cx="264.2" cy="220.7" fill="#44ffbb"/><circle cx="253.5" cy="226.9" fill="#32ffcd"/><circle cx="256.1" cy="230.5" fill="#16ffe9"/><circle cx="267.5" cy="227.2" fill="#00e5ff"/><circle cx="262.2" cy="230.7" fill="#00f1ff"/><circle cx="269.5" cy="242.5" fill="#32ffcd"/><circle cx="270.6" cy="254.7" fill="#00dcff"/><circle cx="266.0" cy="255.3" fill="#00d8ff"/><circle cx="277.4" cy="241.7" fill="#76ff89"/><circle cx="266.9" cy="247.6" fill="#70ff8f"/><circle cx="260.9" cy="245.8" fill="#82ff7d"/><circle cx="271.6" cy="251.8" fill="#00caff"/><circle cx="272.0" cy="239.5" fill="#5affa5"/><circle cx="262.3" cy="249.1" fill="#59ffa6"/><circle cx="268.8" cy="245.8" fill="#5fffa0"/><circle cx="268.1" cy="239.7" fill="#68ff97"/><circle cx="273.0" cy="249.5" fill="#4affb5"/><circle cx="277.2" cy="248.8" fill="#2bffd4"/><circle cx="265.6" cy="244.8" fill="#00e0ff"/><circle cx="271.1" cy="257.3" fill="#009bff"/><circle cx="263.9" cy="258.6" fill="#005cff"/><circle cx="265.1" cy="250.8" fill="#32ffcd"/><circle cx="268.9" cy="248.7" fill="#64ff9b"/><circle cx="268.5" cy="250.7" fill="#68ff97"/><circle cx="267.0" cy="242.6" fill="#62ff9d"/><circle cx="262.7" cy="254.8" fill="#71ff8e"/><circle cx="267.0" cy="257.6" fill="#004aff"/><circle cx="277.9" cy="253.8" fill="#00f6ff"/><circle cx="273.2" cy="254.9" fill="#00f5ff"/><circle cx="278.4" cy="246.1" fill="#2effd1"/><circle cx="368.9" cy="226.2" fill="#59ffa6"/><circle cx="340.4" cy="222.5" fill="#0dfff2"/><circle cx="296.9" cy="242.5" fill="#0000f1"/><circle cx="341.8" cy="232.7" fill="#5cffa3"/><circle cx="307.7" cy="232.4" fill="#0033ff"/><circle cx="352.5" cy="224.2" fill="#ff7800"/><circle cx="356.8" cy="218.6" fill="#76ff89"/><circle cx="287.4" cy="241.7" fill="#0082ff"/><circle cx="333.3" cy="231.8" fill="#0058ff"/><circle cx="333.6" cy="238.0" fill="#0038ff"/><circle cx="298.7" cy="245.4" fill="#19ffe6"/><circle cx="353.0" cy="219.2" fill="#fff200"/><circle cx="305.6" cy="249.1" fill="#00009e"/><circle cx="327.9" cy="229.2" fill="#0023ff"/><circle cx="338.2" cy="217.3" fill="#009dff"/><circle cx="301.8" cy="240.6" fill="#00f4ff"/><circle cx="285.5" cy="252.5" fill="#0025ff"/><circle cx="336.8" cy="248.6" fill="#31ffce"/><circle cx="352.6" cy="237.5" fill="#59ffa6"/><circle cx="330.7" cy="231.4" fill="#13ffec"/><circle cx="335.1" cy="220.8" fill="#00d4ff"/><circle cx="357.6" cy="228.3" fill="#03fffc"/><circle cx="355.2" cy="222.4" fill="#ffea00"/><circle cx="333.4" cy="225.8" fill="#00e3ff"/><circle cx="331.3" cy="222.7" fill="#50ffaf"/><circle cx="377.3" cy="228.0" fill="#0058ff"/><circle cx="292.5" cy="244.5" fill="#0039ff"/><circle cx="325.2" cy="237.2" fill="#ddff22"/><circle cx="330.1" cy="238.5" fill="#0093ff"/><circle cx="350.7" cy="221.0" fill="#2fffd0"/><circle cx="289.4" cy="240.9" fill="#00f7ff"/><circle cx="330.7" cy="225.3" fill="#0060ff"/><circle cx="372.6" cy="229.4" fill="#009aff"/><circle cx="345.0" cy="217.3" fill="#6dff92"/><circle cx="307.1" cy="238.7" fill="#0097ff"/><circle cx="336.8" cy="224.5" fill="#00bfff"/><circle cx="316.3" cy="248.2" fill="#004eff"/><circle cx="327.3" cy="222.3" fill="#0046ff"/><circle cx="371.6" cy="231.5" fill="#00a4ff"/><circle cx="317.7" cy="241.0" fill="#00abff"/><circle cx="314.6" cy="237.3" fill="#18ffe7"/><circle cx="338.1" cy="244.9" fill="#04fffb"/><circle cx="289.3" cy="234.6" fill="#41ffbe"/><circle cx="377.9" cy="236.0" fill="#0000de"/><circle cx="351.4" cy="229.6" fill="#a0ff5f"/><circle cx="334.5" cy="245.5" fill="#00bbff"/><circle cx="324.3" cy="220.7" fill="#00009e"/><circle cx="300.8" cy="239.4" fill="#0089ff"/><circle cx="366.6" cy="227.6" fill="#0098ff"/><circle cx="288.5" cy="231.8" fill="#37ffc8"/><circle cx="338.7" cy="242.5" fill="#94ff6b"/><circle cx="347.1" cy="234.0" fill="#30ffcf"/><circle cx="291.7" cy="237.2" fill="#00c4ff"/><circle cx="344.5" cy="249.0" fill="#0097ff"/><circle cx="341.8" cy="224.7" fill="#00feff"/><circle cx="343.2" cy="229.0" fill="#d4ff2b"/><circle cx="372.6" cy="225.2" fill="#00a5ff"/><circle cx="343.3" cy="241.3" fill="#00aeff"/><circle cx="284.5" cy="238.6" fill="#00f4ff"/><circle cx="362.3" cy="228.3" fill="#009cff"/><circle cx="339.0" cy="248.7" fill="#ffa600"/><circle cx="317.9" cy="244.8" fill="#72ff8d"/><circle cx="348.1" cy="228.0" fill="#a8ff57"/><circle cx="313.7" cy="234.4" fill="#88ff77"/><circle cx="363.6" cy="224.9" fill="#0043ff"/><circle cx="363.0" cy="221.9" fill="#19ffe6"/><circle cx="345.9" cy="230.6" fill="#feff01"/><circle cx="338.3" cy="231.5" fill="#72ff8d"/><circle cx="281.4" cy="234.0" fill="#26ffd9"/><circle cx="339.2" cy="227.6" fill="#76ff89"/><circle cx="295.3" cy="250.5" fill="#00a8ff"/><circle cx="308.3" cy="247.0" fill="#0000df"/><circle cx="295.3" cy="239.3" fill="#00efff"/><circle cx="327.2" cy="218.7" fill="#001aff"/><circle cx="329.9" cy="244.4" fill="#0059ff"/><circle cx="363.1" cy="232.4" fill="#0000ed"/><circle cx="332.7" cy="248.3" fill="#00d3ff"/><circle cx="343.1" cy="221.4" fill="#00e7ff"/><circle cx="331.6" cy="240.9" fill="#008aff"/><circle cx="341.5" cy="217.6" fill="#6fff90"/><circle cx="287.0" cy="236.1" fill="#81ff7e"/><circle cx="366.5" cy="220.8" fill="#26ffd9"/><circle cx="298.0" cy="234.7" fill="#72ff8d"/><circle cx="355.2" cy="229.1" fill="#ffe100"/><circle cx="373.6" cy="234.9" fill="#00b9ff"/><circle cx="293.9" cy="242.6" fill="#00d1ff"/><circle cx="316.9" cy="228.0" fill="#00a9ff"/><circle cx="349.8" cy="232.2" fill="#31ffce"/><circle cx="310.7" cy="244.6" fill="#002aff"/><circle cx="375.0" cy="232.3" fill="#0000b6"/><circle cx="293.9" cy="234.1" fill="#5fffa0"/><circle cx="282.3" cy="240.8" fill="#004eff"/><circle cx="340.5" cy="244.6" fill="#00f2ff"/><circle cx="304.4" cy="241.2" fill="#0095ff"/><circle cx="304.2" cy="232.2" fill="#2fffd0"/><circle cx="325.1" cy="245.9" fill="#4fffb0"/><circle cx="340.5" cy="238.7" fill="#9dff62"/><circle cx="307.7" cy="245.7" fill="#14ffeb"/><circle cx="369.1" cy="232.4" fill="#00fbff"/><circle cx="291.1" cy="249.2" fill="#0088ff"/><circle cx="336.8" cy="241.5" fill="#00e7ff"/><circle cx="328.0" cy="249.0" fill="#007dff"/><circle cx="344.8" cy="238.2" fill="#0030ff"/><circle cx="302.6" cy="248.6" fill="#007cff"/><circle cx="348.5" cy="224.6" fill="#ff8e00"/><circle cx="321.7" cy="244.0" fill="#98ff67"/><circle cx="288.4" cy="238.8" fill="#18ffe7"/><circle cx="320.2" cy="240.4" fill="#2affd5"/><circle cx="321.1" cy="222.6" fill="#0063ff"/><circle cx="309.8" cy="237.8" fill="#0000cc"/><circle cx="360.5" cy="231.2" fill="#00f9ff"/><circle cx="313.6" cy="248.2" fill="#0025ff"/><circle cx="321.7" cy="237.5" fill="#0000e0"/><circle cx="340.6" cy="235.8" fill="#0000ea"/><circle cx="327.3" cy="241.9" fill="#6cff93"/><circle cx="357.8" cy="231.9" fill="#dbff24"/><circle cx="325.1" cy="247.6" fill="#0068ff"/><circle cx="279.6" cy="235.1" fill="#00b8ff"/><circle cx="323.5" cy="218.8" fill="#00009e"/><circle cx="346.4" cy="224.2" fill="#00e9ff"/><circle cx="320.2" cy="235.3" fill="#00e8ff"/><circle cx="323.4" cy="240.8" fill="#7cff83"/><circle cx="370.7" cy="235.5" fill="#0023ff"/><circle cx="304.3" cy="235.9" fill="#47ffb8"/><circle cx="317.9" cy="237.5" fill="#0093ff"/><circle cx="315.2" cy="244.3" fill="#002dff"/><circle cx="358.2" cy="222.0" fill="#ffa100"/><circle cx="336.2" cy="228.9" fill="#abff54"/><circle cx="283.7" cy="244.4" fill="#16ffe9"/><circle cx="343.7" cy="235.1" fill="#ff9600"/><circle cx="355.0" cy="236.0" fill="#0bfff4"/><circle cx="295.6" cy="232.2" fill="#72ff8d"/><circle cx="379.3" cy="231.2" fill="#0004ff"/><circle cx="297.6" cy="248.5" fill="#95ff6a"/><circle cx="288.0" cy="244.2" fill="#00e1ff"/><circle cx="295.8" cy="245.2" fill="#005fff"/><circle cx="318.6" cy="225.0" fill="#0000ee"/><circle cx="335.4" cy="236.0" fill="#27ffd8"/><circle cx="287.4" cy="251.4" fill="#00d0ff"/><circle cx="367.2" cy="234.4" fill="#003bff"/><circle cx="294.5" cy="248.5" fill="#22ffdd"/><circle cx="369.0" cy="229.1" fill="#b7ff48"/><circle cx="309.2" cy="242.2" fill="#0000b1"/><circle cx="304.6" cy="238.2" fill="#00e2ff"/><circle cx="329.7" cy="218.4" fill="#00009e"/><circle cx="346.5" cy="222.9" fill="#ff9c00"/><circle cx="353.1" cy="230.5" fill="#00e8ff"/><circle cx="309.0" cy="234.9" fill="#47ffb8"/><circle cx="280.6" cy="237.3" fill="#ff8f00"/><circle cx="311.8" cy="240.8" fill="#4dffb2"/><circle cx="336.6" cy="238.1" fill="#00c0ff"/><circle cx="312.1" cy="232.7" fill="#00a6ff"/><circle cx="320.7" cy="212.6" fill="#003fff"/><circle cx="326.5" cy="210.4" fill="#00bfff"/><circle cx="330.5" cy="202.8" fill="#00a2ff"/><circle cx="311.1" cy="208.9" fill="#0000ab"/><circle cx="340.1" cy="206.4" fill="#d0ff2f"/><circle cx="332.5" cy="204.9" fill="#07fff8"/><circle cx="368.6" cy="198.4" fill="#78ff87"/><circle cx="345.1" cy="203.0" fill="#39ffc6"/><circle cx="338.2" cy="208.5" fill="#00fbff"/><circle cx="323.1" cy="205.1" fill="#0097ff"/><circle cx="371.1" cy="201.7" fill="#c5ff3a"/><circle cx="329.2" cy="209.5" fill="#00b8ff"/><circle cx="334.0" cy="201.8" fill="#00a4ff"/><circle cx="313.1" cy="212.4" fill="#95ff6a"/><circle cx="326.2" cy="215.4" fill="#00e4ff"/><circle cx="322.8" cy="208.3" fill="#0000ef"/><circle cx="302.0" cy="208.9" fill="#4bffb4"/><circle cx="343.0" cy="201.7" fill="#00d3ff"/><circle cx="372.8" cy="200.1" fill="#00e1ff"/><circle cx="300.4" cy="212.1" fill="#99ff66"/><circle cx="344.8" cy="204.8" fill="#00d3ff"/><circle cx="365.5" cy="202.4" fill="#f4ff0b"/><circle cx="306.9" cy="212.1" fill="#ff7700"/><circle cx="330.8" cy="213.1" fill="#0efff1"/><circle cx="336.7" cy="205.8" fill="#04fffb"/><circle cx="303.4" cy="212.8" fill="#a9ff56"/><circle cx="312.3" cy="206.5" fill="#2fffd0"/><circle cx="327.9" cy="205.7" fill="#0bfff4"/><circle cx="320.4" cy="204.9" fill="#0000c3"/><circle cx="333.3" cy="210.4" fill="#0dfff2"/><circle cx="337.9" cy="201.9" fill="#00e0ff"/><circle cx="375.3" cy="198.1" fill="#77ff88"/><circle cx="326.6" cy="202.5" fill="#0016ff"/><circle cx="342.0" cy="208.9" fill="#000aff"/><circle cx="324.1" cy="213.3" fill="#00009e"/><circle cx="318.0" cy="209.3" fill="#00b7ff"/><circle cx="335.8" cy="213.0" fill="#e7ff18"/><circle cx="316.5" cy="211.8" fill="#0060ff"/><circle cx="316.0" cy="207.0" fill="#00009e"/><circle cx="305.9" cy="210.6" fill="#ff8600"/><circle cx="376.8" cy="271.3" fill="#00deff"/><circle cx="382.2" cy="279.0" fill="#008fff"/><circle cx="383.3" cy="276.3" fill="#00d1ff"/><circle cx="382.0" cy="261.8" fill="#0037ff"/><circle cx="371.5" cy="251.0" fill="#0016ff"/><circle cx="371.8" cy="269.7" fill="#004eff"/><circle cx="369.0" cy="276.0" fill="#12ffed"/><circle cx="373.8" cy="260.8" fill="#0054ff"/><circle cx="367.7" cy="273.0" fill="#00deff"/><circle cx="363.9" cy="255.2" fill="#00d9ff"/><circle cx="375.5" cy="273.1" fill="#00a6ff"/><circle cx="371.6" cy="273.7" fill="#00f3ff"/><circle cx="383.1" cy="264.2" fill="#008cff"/><circle cx="384.9" cy="278.5" fill="#00bcff"/><circle cx="370.8" cy="266.6" fill="#0058ff"/><circle cx="368.3" cy="261.1" fill="#009eff"/><circle cx="383.3" cy="270.5" fill="#0025ff"/><circle cx="379.5" cy="257.1" fill="#009dff"/><circle cx="368.1" cy="255.2" fill="#00cbff"/><circle cx="386.4" cy="282.3" fill="#005eff"/><circle cx="385.2" cy="273.7" fill="#00d1ff"/><circle cx="378.7" cy="270.5" fill="#0094ff"/><circle cx="378.8" cy="254.4" fill="#001eff"/><circle cx="368.9" cy="252.3" fill="#0045ff"/><circle cx="377.0" cy="258.4" fill="#0059ff"/><circle cx="373.2" cy="263.2" fill="#00c1ff"/><circle cx="371.9" cy="276.0" fill="#00deff"/><circle cx="373.3" cy="255.0" fill="#008aff"/><circle cx="378.2" cy="274.3" fill="#00e7ff"/><circle cx="386.1" cy="276.4" fill="#006cff"/><circle cx="378.2" cy="267.7" fill="#00abff"/><circle cx="365.1" cy="263.3" fill="#008bff"/><circle cx="369.7" cy="270.6" fill="#00e1ff"/><circle cx="383.9" cy="282.1" fill="#0068ff"/><circle cx="384.1" cy="266.6" fill="#005bff"/><circle cx="366.1" cy="257.0" fill="#00c6ff"/><circle cx="360.9" cy="252.5" fill="#009eff"/><circle cx="368.5" cy="263.9" fill="#008fff"/><circle cx="379.3" cy="276.8" fill="#00c0ff"/><circle cx="370.2" cy="254.0" fill="#002dff"/><circle cx="371.7" cy="262.0" fill="#00b8ff"/><circle cx="380.8" cy="273.8" fill="#00b8ff"/><circle cx="379.2" cy="261.8" fill="#00abff"/><circle cx="376.3" cy="263.2" fill="#00a4ff"/><circle cx="368.7" cy="258.0" fill="#00faff"/><circle cx="363.5" cy="260.2" fill="#007eff"/><circle cx="375.3" cy="250.6" fill="#0000ff"/><circle cx="376.7" cy="277.6" fill="#00deff"/><circle cx="373.5" cy="258.7" fill="#008fff"/><circle cx="377.6" cy="279.6" fill="#2effd1"/><circle cx="379.4" cy="264.7" fill="#00b8ff"/><circle cx="382.8" cy="267.1" fill="#0017ff"/><circle cx="364.4" cy="251.8" fill="#006aff"/><circle cx="366.6" cy="267.6" fill="#00b7ff"/><circle cx="374.0" cy="266.1" fill="#005cff"/><circle cx="370.3" cy="279.4" fill="#86ff79"/></g><g transform="translate(-196.50,-96.80) scale(0.5)" fill="none" stroke-width="9.4" stroke-linecap="round"><path stroke="#000099" d="M518 563h0M543 562h0M547 562h0M550 563h0M516 566h0M545 565h0M549 566h0M509 569h0M518 571h0M541 571h0M566 569h0M513 575h0M517 575h0M562 575h0M561 577h0M564 577h0M535 582h0M541 581h0M505 587h0M509 587h0M498 591h0M506 590h0M562 592h0M492 595h0M495 594h0M497 600h0M497 603h0M499 608h0M517 606h0M537 612h0M541 612h0M561 615h0M713 620h0M717 619h0M714 623h0"/><path stroke="#0000b2" d="M562 555h0M522 557h0M526 558h0M529 559h0M538 558h0M559 557h0M576 558h0M505 563h0M522 562h0M533 563h0M536 563h0M557 563h0M559 561h0M568 561h0M573 561h0M507 567h0M513 565h0M522 566h0M525 566h0M531 565h0M534 567h0M539 565h0M554 565h0M559 566h0M571 565h0M506 570h0M514 569h0M522 569h0M527 569h0M532 570h0M538 570h0M546 570h0M559 571h0M569 570h0M573 571h0M521 574h0M534 573h0M540 576h0M558 573h0M567 575h0M509 579h0M528 579h0M536 579h0M540 578h0M556 578h0M569 579h0M503 583h0M513 582h0M516 584h0M521 582h0M526 582h0M545 582h0M559 583h0M500 587h0M523 586h0M529 586h0M532 588h0M536 587h0M557 586h0M561 587h0M565 587h0M493 590h0M504 592h0M513 590h0M530 589h0M544 590h0M567 590h0M571 590h0M500 594h0M510 594h0M570 594h0M575 594h0M504 599h0M506 598h0M550 600h0M573 598h0M501 604h0M506 604h0M513 603h0M542 602h0M511 606h0M521 607h0M545 608h0M557 607h0M563 607h0M534 612h0M556 612h0M561 613h0M565 610h0M503 617h0M506 616h0M539 614h0M549 615h0M558 616h0M678 616h0M682 614h0M710 615h0M715 616h0M719 615h0M722 616h0M734 617h0M505 619h0M560 621h0M564 620h0M678 620h0M690 619h0M692 621h0M698 620h0M702 619h0M707 620h0M721 619h0M731 621h0M559 624h0M562 623h0M687 623h0M709 624h0M723 624h0M738 623h0"/><path stroke="#0000cc" d="M518 545h0M523 545h0M527 545h0M531 544h0M513 548h0M516 550h0M521 550h0M504 553h0M508 554h0M525 555h0M529 554h0M550 554h0M556 553h0M566 555h0M508 559h0M512 559h0M518 558h0M534 557h0M543 557h0M549 557h0M553 558h0M562 558h0M568 557h0M571 559h0M509 563h0M515 561h0M528 562h0M565 562h0M578 561h0M583 562h0M562 565h0M566 565h0M577 565h0M581 566h0M500 571h0M551 571h0M555 571h0M591 571h0M501 573h0M506 575h0M526 575h0M530 574h0M544 575h0M572 575h0M575 574h0M490 578h0M506 579h0M516 578h0M519 578h0M522 578h0M533 577h0M547 579h0M552 579h0M573 580h0M580 580h0M582 579h0M489 583h0M506 582h0M529 582h0M549 583h0M553 582h0M563 582h0M567 583h0M570 583h0M576 582h0M497 586h0M516 587h0M520 587h0M543 586h0M546 585h0M550 586h0M573 586h0M517 591h0M526 590h0M536 590h0M539 592h0M554 590h0M557 591h0M577 591h0M506 596h0M542 594h0M555 595h0M560 596h0M579 595h0M717 596h0M492 599h0M512 600h0M532 600h0M541 599h0M544 600h0M554 599h0M576 600h0M719 598h0M510 603h0M520 602h0M523 603h0M536 604h0M547 602h0M551 604h0M556 604h0M571 602h0M574 603h0M503 608h0M506 607h0M527 608h0M532 606h0M534 606h0M539 609h0M548 608h0M568 606h0M706 607h0M501 610h0M504 612h0M509 611h0M522 611h0M529 612h0M547 611h0M716 612h0M721 613h0M525 617h0M545 615h0M552 615h0M674 616h0M688 616h0M699 617h0M705 615h0M515 619h0M518 619h0M556 620h0M647 619h0M666 621h0M669 619h0M675 620h0M685 621h0M726 619h0M735 619h0M527 624h0M531 623h0M567 624h0M672 623h0M679 624h0M729 624h0M741 624h0"/><path stroke="#0000e6" d="M529 537h0M536 538h0M564 536h0M508 542h0M511 541h0M515 542h0M521 542h0M539 542h0M545 541h0M504 546h0M509 546h0M515 544h0M536 544h0M541 545h0M550 546h0M527 549h0M548 550h0M552 549h0M513 555h0M534 555h0M547 554h0M571 553h0M575 553h0M579 554h0M502 558h0M580 557h0M617 558h0M621 559h0M501 561h0M615 562h0M621 562h0M625 561h0M502 567h0M586 565h0M614 566h0M580 570h0M584 571h0M605 570h0M493 575h0M498 574h0M548 575h0M552 574h0M581 575h0M584 576h0M591 575h0M496 578h0M499 579h0M587 578h0M492 588h0M569 586h0M578 586h0M489 590h0M520 590h0M549 591h0M582 591h0M589 592h0M595 591h0M515 594h0M518 596h0M533 595h0M536 594h0M546 595h0M551 594h0M564 596h0M582 596h0M707 596h0M516 600h0M520 599h0M527 599h0M535 599h0M558 598h0M568 598h0M581 599h0M706 598h0M709 600h0M715 599h0M532 602h0M560 603h0M565 604h0M580 602h0M583 603h0M589 602h0M701 603h0M708 602h0M711 603h0M554 608h0M573 606h0M576 607h0M580 608h0M584 607h0M710 606h0M515 613h0M518 611h0M552 611h0M569 611h0M707 613h0M713 612h0M726 613h0M499 615h0M512 615h0M516 616h0M522 616h0M530 616h0M534 616h0M567 615h0M571 616h0M580 615h0M585 615h0M640 617h0M669 615h0M692 615h0M695 616h0M729 615h0M500 620h0M508 620h0M523 620h0M543 619h0M570 619h0M638 620h0M643 621h0M651 620h0M657 620h0M660 620h0M739 619h0M743 620h0M502 624h0M553 623h0M572 624h0M577 624h0M584 623h0M617 624h0M636 623h0M639 623h0M644 624h0M650 624h0"/><path stroke="#0000ff" d="M529 524h0M535 534h0M543 532h0M571 534h0M508 537h0M519 537h0M524 537h0M533 537h0M542 536h0M561 537h0M526 540h0M530 541h0M535 541h0M549 542h0M552 542h0M558 541h0M501 547h0M547 544h0M556 545h0M570 546h0M575 546h0M577 546h0M502 550h0M507 548h0M531 550h0M534 549h0M539 548h0M544 549h0M558 549h0M562 549h0M568 548h0M571 550h0M576 550h0M582 551h0M605 549h0M607 549h0M519 554h0M536 554h0M541 553h0M582 553h0M499 558h0M584 557h0M589 562h0M591 561h0M612 562h0M630 561h0M498 565h0M589 567h0M595 565h0M601 565h0M616 566h0M627 565h0M495 571h0M586 570h0M598 571h0M601 571h0M610 570h0M594 575h0M593 579h0M493 582h0M497 582h0M581 584h0M592 586h0M586 592h0M598 591h0M524 595h0M528 595h0M587 596h0M592 596h0M702 596h0M711 594h0M564 600h0M586 600h0M591 599h0M696 600h0M700 600h0M724 600h0M529 604h0M683 604h0M688 602h0M699 603h0M716 602h0M639 608h0M699 608h0M714 608h0M720 609h0M643 613h0M656 612h0M662 611h0M676 613h0M689 611h0M701 612h0M736 613h0M575 617h0M635 616h0M654 616h0M659 615h0M663 615h0M738 615h0M742 615h0M527 620h0M531 619h0M548 621h0M551 620h0M575 620h0M579 621h0M582 620h0M586 619h0M617 621h0M620 620h0M633 619h0M749 619h0M507 623h0M539 623h0M548 624h0M610 623h0M612 624h0M654 624h0M659 624h0M747 623h0M752 624h0"/><path stroke="#0019ff" d="M528 522h0M532 522h0M527 524h0M540 533h0M558 534h0M567 533h0M488 538h0M495 538h0M501 538h0M504 536h0M513 537h0M545 538h0M552 538h0M556 538h0M571 537h0M573 536h0M579 537h0M584 537h0M587 537h0M502 542h0M567 541h0M573 541h0M577 540h0M495 546h0M562 545h0M565 547h0M586 545h0M591 545h0M498 550h0M585 550h0M590 550h0M613 548h0M492 554h0M499 553h0M589 554h0M591 553h0M614 554h0M494 557h0M589 558h0M614 557h0M632 558h0M598 561h0M603 561h0M492 567h0M607 565h0M622 567h0M487 570h0M492 569h0M614 570h0M623 570h0M628 570h0M489 574h0M600 575h0M596 579h0M585 583h0M590 583h0M617 584h0M584 586h0M588 587h0M598 587h0M615 587h0M705 592h0M597 596h0M601 594h0M606 595h0M693 596h0M698 595h0M722 594h0M726 595h0M595 599h0M651 600h0M690 600h0M643 603h0M656 604h0M680 604h0M694 603h0M591 607h0M596 608h0M646 607h0M651 606h0M655 609h0M658 609h0M664 608h0M668 607h0M673 608h0M678 607h0M683 607h0M687 607h0M695 608h0M575 611h0M578 613h0M587 612h0M638 611h0M667 611h0M672 610h0M693 611h0M697 612h0M730 611h0M591 616h0M633 615h0M646 614h0M747 616h0M537 619h0M625 618h0M630 619h0M752 621h0M595 623h0M605 623h0"/><path stroke="#0033ff" d="M534 518h0M536 522h0M535 524h0M528 529h0M525 533h0M531 532h0M564 532h0M577 534h0M492 536h0M591 538h0M601 537h0M493 540h0M497 541h0M563 540h0M580 540h0M590 540h0M594 541h0M601 540h0M585 546h0M597 544h0M625 546h0M628 546h0M492 550h0M595 550h0M598 550h0M619 549h0M622 548h0M486 554h0M496 553h0M598 553h0M601 553h0M606 553h0M610 555h0M619 553h0M594 559h0M599 557h0M605 558h0M610 557h0M627 557h0M637 557h0M490 561h0M496 561h0M606 562h0M635 563h0M484 567h0M488 566h0M605 566h0M632 566h0M620 572h0M485 573h0M605 574h0M610 573h0M601 579h0M596 582h0M598 584h0M623 584h0M627 584h0M650 583h0M601 587h0M611 586h0M647 587h0M652 585h0M605 591h0M609 590h0M612 590h0M649 592h0M654 590h0M714 592h0M718 592h0M609 596h0M615 595h0M734 595h0M637 599h0M641 599h0M644 599h0M654 599h0M687 599h0M728 600h0M733 598h0M593 604h0M639 603h0M648 602h0M652 604h0M661 604h0M667 602h0M670 604h0M722 602h0M635 608h0M690 609h0M724 608h0M592 613h0M634 613h0M647 610h0M654 613h0M680 610h0M685 610h0M740 611h0M748 611h0M752 610h0M628 615h0M651 615h0M752 615h0M592 619h0M598 624h0"/><path stroke="#004dff" d="M575 508h0M522 529h0M533 529h0M538 529h0M569 530h0M574 530h0M498 533h0M504 533h0M507 532h0M582 534h0M591 534h0M596 536h0M587 540h0M491 546h0M616 545h0M488 549h0M626 550h0M481 552h0M624 554h0M629 553h0M633 554h0M639 554h0M484 558h0M489 559h0M487 562h0M695 562h0M633 571h0M613 575h0M618 575h0M624 574h0M647 577h0M680 578h0M614 581h0M631 583h0M645 581h0M653 582h0M658 583h0M662 582h0M607 585h0M621 588h0M625 587h0M628 588h0M634 586h0M639 587h0M670 586h0M616 590h0M622 590h0M645 592h0M702 591h0M708 589h0M638 596h0M643 594h0M648 595h0M652 595h0M656 595h0M663 596h0M671 595h0M676 596h0M690 595h0M730 594h0M600 600h0M604 600h0M658 600h0M665 599h0M669 599h0M674 598h0M681 599h0M597 603h0M625 605h0M632 605h0M675 603h0M725 605h0M600 608h0M614 607h0M617 607h0M621 607h0M727 607h0M754 607h0M584 610h0M596 612h0M615 612h0M621 611h0M624 613h0M630 613h0M744 610h0M595 615h0M600 616h0M604 616h0M613 617h0M623 616h0M755 614h0M597 619h0M607 619h0M610 619h0M758 620h0M756 623h0"/><path stroke="#0066ff" d="M639 505h0M572 507h0M624 512h0M630 513h0M633 513h0M626 517h0M541 521h0M520 526h0M541 524h0M563 524h0M543 528h0M561 528h0M633 529h0M512 533h0M521 533h0M549 533h0M553 533h0M594 532h0M604 532h0M607 538h0M489 541h0M605 542h0M608 540h0M601 545h0M631 550h0M642 556h0M482 561h0M639 561h0M697 562h0M649 571h0M627 575h0M632 574h0M650 573h0M655 575h0M686 575h0M690 573h0M612 579h0M617 578h0M621 578h0M625 578h0M643 579h0M654 577h0M657 578h0M662 579h0M666 580h0M677 578h0M684 579h0M699 580h0M703 579h0M610 582h0M641 583h0M667 581h0M674 582h0M692 583h0M697 583h0M642 588h0M658 587h0M665 586h0M675 586h0M658 591h0M663 591h0M669 590h0M722 590h0M728 592h0M619 596h0M633 596h0M665 595h0M679 596h0M683 594h0M741 594h0M614 598h0M626 599h0M678 600h0M601 603h0M616 603h0M630 604h0M730 603h0M757 603h0M603 608h0M609 608h0M731 606h0M752 608h0M760 608h0M601 612h0M605 612h0M612 611h0M757 611h0M619 616h0M603 619h0"/><path stroke="#0080ff" d="M642 504h0M567 508h0M628 508h0M631 508h0M638 511h0M540 516h0M582 517h0M600 518h0M606 520h0M567 526h0M513 529h0M518 529h0M564 529h0M578 528h0M593 528h0M597 529h0M628 528h0M639 529h0M600 532h0M610 534h0M627 533h0M618 542h0M487 546h0M607 544h0M611 545h0M620 545h0M634 546h0M484 549h0M642 553h0M646 557h0M649 559h0M642 562h0M637 567h0M640 567h0M650 566h0M639 569h0M642 571h0M653 569h0M656 570h0M635 574h0M644 575h0M682 573h0M696 573h0M700 573h0M770 575h0M606 580h0M630 577h0M633 577h0M689 577h0M708 579h0M605 583h0M678 582h0M681 582h0M699 582h0M662 587h0M693 587h0M703 588h0M707 587h0M627 591h0M633 590h0M640 591h0M672 590h0M677 591h0M683 592h0M686 591h0M693 590h0M696 590h0M732 591h0M738 592h0M624 594h0M629 596h0M743 596h0M610 600h0M623 599h0M630 599h0M736 600h0M606 604h0M610 602h0M620 602h0M627 607h0M631 606h0M743 609h0M747 607h0M608 615h0"/><path stroke="#0099ff" d="M637 508h0M565 511h0M578 512h0M583 512h0M587 513h0M543 517h0M549 518h0M554 517h0M585 517h0M633 517h0M636 515h0M546 519h0M550 522h0M630 521h0M545 526h0M581 525h0M590 524h0M623 526h0M628 525h0M547 529h0M557 529h0M584 530h0M588 529h0M602 529h0M605 530h0M626 528h0M644 528h0M516 532h0M612 534h0M622 532h0M631 534h0M649 533h0M611 536h0M625 538h0M630 537h0M485 543h0M612 541h0M632 542h0M652 546h0M636 550h0M656 558h0M704 557h0M647 561h0M653 561h0M688 562h0M645 565h0M654 565h0M689 571h0M693 570h0M699 569h0M776 570h0M641 573h0M660 575h0M663 574h0M678 575h0M764 575h0M775 573h0M669 578h0M712 577h0M716 578h0M771 577h0M637 581h0M687 584h0M706 583h0M710 582h0M724 584h0M728 584h0M680 587h0M684 586h0M689 588h0M698 586h0M713 588h0M720 588h0M725 588h0M636 592h0M742 592h0M748 594h0M736 604h0M740 602h0M752 604h0M762 602h0M760 617h0"/><path stroke="#00b2ff" d="M646 505h0M652 504h0M657 504h0M557 509h0M642 508h0M644 508h0M554 513h0M560 512h0M570 513h0M557 517h0M589 516h0M594 519h0M596 521h0M602 522h0M611 521h0M626 520h0M633 520h0M547 524h0M557 523h0M586 523h0M595 524h0M609 525h0M613 523h0M617 525h0M632 526h0M635 525h0M550 528h0M610 529h0M615 528h0M648 528h0M653 528h0M586 532h0M619 533h0M645 532h0M655 533h0M623 541h0M636 541h0M659 541h0M482 546h0M647 546h0M641 550h0M644 549h0M651 550h0M656 548h0M649 554h0M652 553h0M702 557h0M710 557h0M714 558h0M685 561h0M659 566h0M692 567h0M696 567h0M660 570h0M704 571h0M706 569h0M711 569h0M773 569h0M667 574h0M704 576h0M709 576h0M638 579h0M693 577h0M720 578h0M725 579h0M766 580h0M714 581h0M719 582h0M717 588h0M761 592h0M753 596h0M619 599h0M742 600h0M748 598h0M752 600h0M747 605h0M738 607h0M763 611h0M761 619h0"/><path stroke="#00ccff" d="M651 508h0M548 514h0M574 512h0M644 511h0M564 517h0M567 515h0M573 517h0M576 518h0M595 516h0M554 521h0M559 520h0M564 520h0M570 520h0M577 519h0M583 521h0M589 521h0M639 521h0M657 522h0M553 524h0M572 524h0M578 523h0M600 524h0M605 524h0M640 525h0M644 523h0M651 524h0M620 529h0M656 529h0M636 534h0M642 533h0M658 532h0M616 536h0M619 537h0M635 537h0M638 536h0M642 537h0M648 538h0M651 538h0M656 536h0M662 538h0M626 542h0M641 541h0M654 542h0M664 542h0M638 545h0M656 544h0M660 546h0M478 550h0M657 555h0M702 553h0M707 553h0M660 559h0M682 559h0M752 557h0M658 563h0M703 563h0M709 562h0M712 563h0M717 562h0M686 567h0M700 567h0M704 567h0M709 567h0M718 567h0M761 566h0M667 571h0M670 569h0M674 570h0M681 570h0M684 569h0M717 569h0M736 571h0M767 569h0M673 574h0M715 574h0M723 575h0M762 577h0M766 582h0M769 583h0M731 586h0M735 587h0M746 592h0M750 591h0M759 594h0M762 595h0M755 598h0M779 600h0M746 603h0M765 608h0M761 624h0"/><path stroke="#00e5ff" d="M663 504h0M654 508h0M678 507h0M682 508h0M552 512h0M641 517h0M649 517h0M656 516h0M660 518h0M575 521h0M644 519h0M662 519h0M655 525h0M661 530h0M662 532h0M680 537h0M644 542h0M651 541h0M644 545h0M665 547h0M671 555h0M677 554h0M678 555h0M663 557h0M668 556h0M688 559h0M692 558h0M746 557h0M660 563h0M664 567h0M676 565h0M683 567h0M715 567h0M722 571h0M763 570h0M719 573h0M760 575h0M757 578h0M776 579h0M733 583h0M762 583h0M759 586h0M762 586h0M754 590h0M765 592h0M770 595h0M759 598h0M766 600h0M765 615h0"/><path stroke="#00ffff" d="M659 507h0M686 509h0M648 513h0M653 511h0M658 513h0M646 516h0M664 518h0M648 521h0M652 520h0M666 520h0M672 522h0M658 525h0M673 524h0M667 529h0M671 529h0M666 536h0M685 538h0M669 542h0M673 541h0M676 540h0M670 546h0M660 550h0M691 550h0M702 549h0M704 551h0M661 554h0M666 554h0M684 554h0M689 552h0M694 553h0M749 554h0M677 558h0M695 557h0M670 562h0M677 561h0M679 563h0M672 566h0M741 569h0M758 569h0M738 574h0M768 587h0M769 591h0M768 596h0M777 602h0M773 617h0M781 619h0"/><path stroke="#1affe5" d="M667 505h0M663 508h0M668 507h0M662 511h0M667 525h0M676 524h0M675 529h0M671 538h0M674 536h0M665 550h0M695 549h0M709 550h0M697 554h0M672 559h0M666 562h0M669 566h0M738 567h0M744 570h0M755 575h0M736 578h0M740 577h0M748 578h0M753 580h0M737 582h0M756 584h0M775 584h0M740 586h0M744 587h0M754 586h0M772 586h0M776 588h0M773 591h0M778 591h0M775 594h0M769 600h0M774 598h0M768 604h0M771 604h0M781 605h0M769 608h0M774 607h0M780 607h0M768 612h0M771 612h0M777 613h0M782 612h0M770 615h0M778 617h0M782 616h0M767 621h0M776 620h0M783 623h0"/><path stroke="#33ffcc" d="M670 503h0M673 508h0M666 513h0M681 513h0M689 511h0M668 518h0M672 517h0M676 516h0M675 520h0M679 521h0M663 523h0M681 525h0M696 524h0M679 529h0M690 528h0M668 533h0M685 534h0M701 532h0M674 546h0M680 545h0M668 549h0M683 550h0M687 549h0M748 562h0M741 565h0M755 567h0M742 574h0M746 573h0M751 574h0M744 577h0M772 621h0M771 624h0M775 624h0"/><path stroke="#4dffb2" d="M683 513h0M682 515h0M687 515h0M690 518h0M685 519h0M687 525h0M690 523h0M692 529h0M672 533h0M690 536h0M682 542h0M685 544h0M688 546h0M673 549h0M676 549h0M745 563h0M758 563h0M745 565h0M751 567h0M748 571h0M753 569h0M741 583h0M746 582h0M750 581h0M748 586h0"/><path stroke="#66ff99" d="M672 513h0M675 513h0M689 520h0M694 519h0M684 530h0M698 530h0M679 532h0M683 532h0M692 532h0M697 534h0M690 542h0M699 544h0M704 545h0M708 545h0M755 562h0"/><path stroke="#80ff80" d="M693 537h0M688 541h0M695 545h0"/><path stroke="#b3ff4c" d="M698 538h0M697 542h0"/><path stroke="#ccff33" d="M703 537h0M700 541h0"/><path stroke="#ffff00" d="M705 541h0"/></g></g>
<use href="#map"/>
</g>
<rect x="1285.50" y="95.50" width="23.50" height="215.00" fill="url(#jet)" stroke="#262626" stroke-width="1"/>
<path d="M1309.00 203.00h-2.3" stroke="#262626" stroke-width="1"/>
<text class="b c" x="1317.1" y="103.9">100</text>
<text class="b c" x="1317.1" y="211.4">50</text>
<text class="b c" x="1317.1" y="318.9">0</text>
<text class="b x" y="341.6"><tspan x="982.0">SAT</tspan><tspan x="1039.6">250</tspan><tspan x="1095.9">hPa</tspan><tspan x="1151.7">RH</tspan><tspan x="1197.2">(Percent)</tspan></text>
<text class="b t" x="1058.5" y="75.4">100</text>
<text class="b d" x="1089.0" y="69.1" text-anchor="middle">°</text>
<text class="b t" x="1096.6" y="75.4">W</text>
<text class="b t" x="1126.3" y="75.4">90</text>
<text class="b d" x="1147.8" y="69.1" text-anchor="middle">°</text>
<text class="b t" x="1155.4" y="75.4">W</text>
<text class="b t" x="1189.6" y="75.4">80</text>
<text class="b d" x="1211.1" y="69.1" text-anchor="middle">°</text>
<text class="b t" x="1218.7" y="75.4">W</text>
<text class="b t" x="1255.3" y="75.4">70</text>
<text class="b d" x="1276.8" y="69.1" text-anchor="middle">°</text>
<text class="b t" x="1284.4" y="75.4">W</text>
<text class="b t" x="987.8" y="113.7">48</text>
<text class="b d" x="1010.7" y="107.6" text-anchor="middle">°</text>
<text class="b t" x="1016.8" y="113.7">N</text>
<text class="b t" x="987.8" y="131.2">46</text>
<text class="b d" x="1010.7" y="125.1" text-anchor="middle">°</text>
<text class="b t" x="1016.8" y="131.2">N</text>
<text class="b t" x="987.8" y="148.2">44</text>
<text class="b d" x="1010.7" y="142.1" text-anchor="middle">°</text>
<text class="b t" x="1016.8" y="148.2">N</text>
<text class="b t" x="987.8" y="167.7">42</text>
<text class="b d" x="1010.7" y="161.6" text-anchor="middle">°</text>
<text class="b t" x="1016.8" y="167.7">N</text>
<text class="b t" x="987.8" y="183.9">40</text>
<text class="b d" x="1010.7" y="177.8" text-anchor="middle">°</text>
<text class="b t" x="1016.8" y="183.9">N</text>
<text class="b t" x="987.8" y="198.7">38</text>
<text class="b d" x="1010.7" y="192.6" text-anchor="middle">°</text>
<text class="b t" x="1016.8" y="198.7">N</text>
<text class="b t" x="987.8" y="215.4">36</text>
<text class="b d" x="1010.7" y="209.3" text-anchor="middle">°</text>
<text class="b t" x="1016.8" y="215.4">N</text>
<text class="b t" x="987.8" y="229.7">34</text>
<text class="b d" x="1010.7" y="223.6" text-anchor="middle">°</text>
<text class="b t" x="1016.8" y="229.7">N</text>
<text class="b t" x="987.8" y="246.7">32</text>
<text class="b d" x="1010.7" y="240.6" text-anchor="middle">°</text>
<text class="b t" x="1016.8" y="246.7">N</text>
<text class="b t" x="987.8" y="260.9">30</text>
<text class="b d" x="1010.7" y="254.8" text-anchor="middle">°</text>
<text class="b t" x="1016.8" y="260.9">N</text>
<text class="b t" x="987.8" y="275.4">28</text>
<text class="b d" x="1010.7" y="269.3" text-anchor="middle">°</text>
<text class="b t" x="1016.8" y="275.4">N</text>
<text class="b t" x="987.8" y="290.7">26</text>
<text class="b d" x="1010.7" y="284.6" text-anchor="middle">°</text>
<text class="b t" x="1016.8" y="290.7">N</text>
<text class="b t" x="987.8" y="301.9">24</text>
<text class="b d" x="1010.7" y="295.8" text-anchor="middle">°</text>
<text class="b t" x="1016.8" y="301.9">N</text>
<text class="b t" x="987.8" y="317.2">22</text>
<text class="b d" x="1010.7" y="311.1" text-anchor="middle">°</text>
<text class="b t" x="1016.8" y="317.2">N</text>
<rect x="196.50" y="486.80" width="233.00" height="212.60" fill="#fff" stroke="#262626" stroke-width="1"/>
<g transform="translate(196.50,486.80) scale(1.00000,1.00000)">
<g clip-path="url(#cd)"><g class="D" transform="translate(-196.50,-96.80)"><circle cx="251.2" cy="253.7" fill="#00c4ff"/><circle cx="249.3" cy="253.6" fill="#39ffc6"/><circle cx="244.8" cy="260.4" fill="#00a1ff"/><circle cx="234.0" cy="243.2" fill="#ff5e00"/><circle cx="237.4" cy="237.0" fill="#ffef00"/><circle cx="248.5" cy="236.6" fill="#ffdc00"/><circle cx="237.6" cy="248.3" fill="#ff3800"/><circle cx="248.0" cy="247.2" fill="#ff5200"/><circle cx="229.0" cy="231.0" fill="#ffad00"/><circle cx="241.8" cy="241.3" fill="#ff3c00"/><circle cx="231.7" cy="236.2" fill="#ff5b00"/><circle cx="246.0" cy="241.8" fill="#ff2d00"/><circle cx="242.9" cy="258.0" fill="#00b3ff"/><circle cx="234.8" cy="231.3" fill="#ffb900"/><circle cx="250.3" cy="252.3" fill="#00efff"/><circle cx="236.0" cy="246.0" fill="#ff4700"/><circle cx="244.2" cy="230.4" fill="#e5ff1a"/><circle cx="249.0" cy="245.7" fill="#ff2d00"/><circle cx="243.4" cy="244.2" fill="#ff4f00"/><circle cx="234.8" cy="253.8" fill="#ffc700"/><circle cx="250.8" cy="248.4" fill="#ff3800"/><circle cx="235.9" cy="234.2" fill="#ffe900"/><circle cx="248.4" cy="241.5" fill="#ff6500"/><circle cx="239.3" cy="254.1" fill="#97ff68"/><circle cx="252.4" cy="250.6" fill="#3affc5"/><circle cx="258.4" cy="254.7" fill="#0051ff"/><circle cx="246.4" cy="258.2" fill="#0000c2"/><circle cx="243.8" cy="238.7" fill="#45ffba"/><circle cx="242.3" cy="233.2" fill="#fffe00"/><circle cx="239.1" cy="257.4" fill="#92ff6d"/><circle cx="230.1" cy="233.3" fill="#cbff34"/><circle cx="232.4" cy="244.4" fill="#ff4900"/><circle cx="229.5" cy="240.3" fill="#ff7b00"/><circle cx="253.8" cy="238.9" fill="#ffe100"/><circle cx="254.8" cy="247.5" fill="#00e6ff"/><circle cx="252.3" cy="242.5" fill="#ff5500"/><circle cx="226.7" cy="233.9" fill="#ffd800"/><circle cx="245.6" cy="233.5" fill="#ffb600"/><circle cx="245.3" cy="247.1" fill="#ff4d00"/><circle cx="235.3" cy="249.4" fill="#ff3a00"/><circle cx="228.6" cy="237.4" fill="#ff4500"/><circle cx="231.9" cy="232.6" fill="#dcff23"/><circle cx="229.5" cy="244.3" fill="#ff2200"/><circle cx="240.3" cy="244.8" fill="#ff3700"/><circle cx="240.7" cy="259.5" fill="#0087ff"/><circle cx="233.7" cy="251.4" fill="#ff8700"/><circle cx="237.2" cy="252.1" fill="#ff5500"/><circle cx="249.0" cy="238.3" fill="#9aff65"/><circle cx="237.2" cy="238.7" fill="#95ff6a"/><circle cx="244.4" cy="236.6" fill="#4fffb0"/><circle cx="251.0" cy="256.2" fill="#0027ff"/><circle cx="254.2" cy="253.0" fill="#00c9ff"/><circle cx="241.4" cy="236.7" fill="#fff200"/><circle cx="245.8" cy="252.1" fill="#fbff04"/><circle cx="254.2" cy="244.7" fill="#ff3500"/><circle cx="254.2" cy="256.9" fill="#005bff"/><circle cx="242.1" cy="254.5" fill="#00f5ff"/><circle cx="247.6" cy="240.0" fill="#b0ff4f"/><circle cx="239.0" cy="229.5" fill="#c8ff37"/><circle cx="245.3" cy="254.0" fill="#33ffcc"/><circle cx="249.5" cy="233.7" fill="#cbff34"/><circle cx="257.0" cy="250.4" fill="#1affe5"/><circle cx="238.5" cy="241.7" fill="#ff5400"/><circle cx="234.4" cy="236.4" fill="#ff5c00"/><circle cx="239.1" cy="251.3" fill="#ff4200"/><circle cx="231.3" cy="248.8" fill="#ff3700"/><circle cx="252.6" cy="236.3" fill="#ebff14"/><circle cx="243.5" cy="251.3" fill="#ff5300"/><circle cx="235.4" cy="257.4" fill="#00b2ff"/><circle cx="240.0" cy="238.2" fill="#77ff88"/><circle cx="230.2" cy="241.6" fill="#ff5100"/><circle cx="241.9" cy="231.4" fill="#ff6900"/><circle cx="239.6" cy="233.9" fill="#ffa400"/><circle cx="231.3" cy="230.8" fill="#9cff63"/><circle cx="240.6" cy="248.9" fill="#ff4d00"/><circle cx="247.4" cy="244.8" fill="#ff3a00"/><circle cx="232.8" cy="238.5" fill="#ff8600"/><circle cx="281.6" cy="238.3" fill="#0065ff"/><circle cx="266.2" cy="222.3" fill="#00e7ff"/><circle cx="310.2" cy="235.9" fill="#40ffbf"/><circle cx="312.3" cy="230.5" fill="#16ffe9"/><circle cx="307.0" cy="236.5" fill="#17ffe8"/><circle cx="257.2" cy="227.5" fill="#deff21"/><circle cx="287.1" cy="235.4" fill="#0000f7"/><circle cx="311.9" cy="231.7" fill="#00d0ff"/><circle cx="263.4" cy="224.5" fill="#3cffc3"/><circle cx="259.8" cy="229.6" fill="#56ffa9"/><circle cx="299.3" cy="234.9" fill="#2bffd4"/><circle cx="300.6" cy="239.1" fill="#18ffe7"/><circle cx="302.0" cy="235.1" fill="#19ffe6"/><circle cx="261.6" cy="226.7" fill="#d2ff2d"/><circle cx="281.6" cy="235.5" fill="#00cfff"/><circle cx="267.7" cy="227.0" fill="#0dfff2"/><circle cx="269.4" cy="222.8" fill="#2affd5"/><circle cx="264.6" cy="226.4" fill="#4cffb3"/><circle cx="301.4" cy="233.3" fill="#3affc5"/><circle cx="306.8" cy="233.9" fill="#9bff64"/><circle cx="262.5" cy="230.4" fill="#acff53"/><circle cx="292.5" cy="236.4" fill="#0045ff"/><circle cx="303.1" cy="232.8" fill="#55ffaa"/><circle cx="312.8" cy="235.8" fill="#00b5ff"/><circle cx="281.8" cy="245.4" fill="#000dff"/><circle cx="265.7" cy="246.2" fill="#0045ff"/><circle cx="266.3" cy="242.9" fill="#0017ff"/><circle cx="269.9" cy="242.4" fill="#0082ff"/><circle cx="287.5" cy="242.1" fill="#003aff"/><circle cx="269.7" cy="248.1" fill="#0017ff"/><circle cx="268.2" cy="252.1" fill="#0046ff"/><circle cx="279.0" cy="239.3" fill="#005cff"/><circle cx="266.3" cy="248.1" fill="#002cff"/><circle cx="284.7" cy="242.0" fill="#0055ff"/><circle cx="283.3" cy="247.6" fill="#001aff"/><circle cx="278.0" cy="250.5" fill="#0000ef"/><circle cx="281.6" cy="251.9" fill="#0007ff"/><circle cx="282.0" cy="239.6" fill="#0084ff"/><circle cx="289.0" cy="244.3" fill="#0064ff"/><circle cx="288.9" cy="248.6" fill="#0000f9"/><circle cx="271.7" cy="244.2" fill="#0000e9"/><circle cx="286.0" cy="244.7" fill="#0061ff"/><circle cx="278.2" cy="245.8" fill="#0010ff"/><circle cx="280.0" cy="247.4" fill="#0000d2"/><circle cx="275.9" cy="251.2" fill="#005dff"/><circle cx="277.1" cy="248.6" fill="#0026ff"/><circle cx="273.2" cy="241.3" fill="#0027ff"/><circle cx="286.9" cy="240.1" fill="#00afff"/><circle cx="279.9" cy="242.8" fill="#0068ff"/><circle cx="272.1" cy="251.1" fill="#002eff"/><circle cx="276.2" cy="244.1" fill="#0019ff"/><circle cx="267.6" cy="245.0" fill="#0085ff"/><circle cx="273.8" cy="247.6" fill="#004bff"/><circle cx="276.4" cy="241.0" fill="#0070ff"/><circle cx="338.4" cy="232.0" fill="#ff6f00"/><circle cx="337.8" cy="218.6" fill="#00f0ff"/><circle cx="364.3" cy="231.6" fill="#f3ff0c"/><circle cx="326.7" cy="231.0" fill="#3bffc4"/><circle cx="340.3" cy="231.0" fill="#ff5000"/><circle cx="331.3" cy="228.9" fill="#ffc200"/><circle cx="335.9" cy="234.0" fill="#ff7500"/><circle cx="347.1" cy="228.9" fill="#ff8f00"/><circle cx="334.7" cy="238.5" fill="#ff9500"/><circle cx="330.1" cy="239.1" fill="#ff4200"/><circle cx="370.6" cy="227.7" fill="#00fdff"/><circle cx="372.3" cy="232.3" fill="#bcff43"/><circle cx="322.3" cy="239.2" fill="#ff5800"/><circle cx="316.0" cy="235.2" fill="#00b0ff"/><circle cx="324.8" cy="241.8" fill="#f9ff06"/><circle cx="330.4" cy="224.7" fill="#36ffc9"/><circle cx="320.5" cy="228.3" fill="#46ffb9"/><circle cx="356.0" cy="238.5" fill="#5cffa3"/><circle cx="322.8" cy="231.9" fill="#5affa5"/><circle cx="344.0" cy="234.5" fill="#ff8400"/><circle cx="319.6" cy="235.4" fill="#00c4ff"/><circle cx="338.3" cy="225.0" fill="#d7ff28"/><circle cx="358.5" cy="229.2" fill="#ffc400"/><circle cx="316.4" cy="241.6" fill="#4effb1"/><circle cx="328.0" cy="235.5" fill="#ffdb00"/><circle cx="329.0" cy="241.5" fill="#ff4700"/><circle cx="358.1" cy="234.0" fill="#ff7d00"/><circle cx="332.8" cy="232.2" fill="#ff4e00"/><circle cx="370.1" cy="234.2" fill="#7aff85"/><circle cx="344.4" cy="231.7" fill="#ffaf00"/><circle cx="339.4" cy="221.2" fill="#00f0ff"/><circle cx="323.6" cy="235.8" fill="#ffd200"/><circle cx="349.8" cy="235.4" fill="#ff8000"/><circle cx="342.8" cy="221.1" fill="#05fffa"/><circle cx="370.9" cy="224.3" fill="#45ffba"/><circle cx="339.9" cy="233.9" fill="#ff2f00"/><circle cx="377.6" cy="228.6" fill="#0076ff"/><circle cx="346.7" cy="222.8" fill="#00f0ff"/><circle cx="337.8" cy="239.5" fill="#97ff68"/><circle cx="363.7" cy="225.7" fill="#e7ff18"/><circle cx="331.6" cy="240.9" fill="#ff8300"/><circle cx="376.1" cy="231.6" fill="#38ffc7"/><circle cx="345.0" cy="239.4" fill="#00feff"/><circle cx="323.4" cy="228.9" fill="#5bffa4"/><circle cx="375.3" cy="238.2" fill="#ff9700"/><circle cx="327.9" cy="229.0" fill="#a0ff5f"/><circle cx="353.0" cy="226.1" fill="#61ff9e"/><circle cx="369.0" cy="225.7" fill="#24ffdb"/><circle cx="356.3" cy="225.7" fill="#a4ff5b"/><circle cx="377.1" cy="234.2" fill="#fff100"/><circle cx="320.9" cy="241.4" fill="#0092ff"/><circle cx="351.8" cy="232.6" fill="#d0ff2f"/><circle cx="340.5" cy="227.5" fill="#ffdc00"/><circle cx="356.4" cy="231.9" fill="#87ff78"/><circle cx="319.4" cy="237.9" fill="#7bff84"/><circle cx="334.8" cy="227.9" fill="#ffab00"/><circle cx="328.9" cy="222.7" fill="#b7ff48"/><circle cx="325.1" cy="224.5" fill="#0090ff"/><circle cx="330.1" cy="231.2" fill="#ff7c00"/><circle cx="353.7" cy="235.0" fill="#81ff7e"/><circle cx="373.3" cy="227.2" fill="#6cff93"/><circle cx="361.6" cy="232.5" fill="#00a2ff"/><circle cx="335.1" cy="242.0" fill="#44ffbb"/><circle cx="350.5" cy="228.8" fill="#ff8b00"/><circle cx="349.5" cy="232.9" fill="#ff6a00"/><circle cx="361.4" cy="228.4" fill="#97ff68"/><circle cx="332.1" cy="220.7" fill="#65ff9a"/><circle cx="344.8" cy="224.8" fill="#7aff85"/><circle cx="346.8" cy="235.7" fill="#ff6600"/><circle cx="343.8" cy="227.8" fill="#c7ff38"/><circle cx="348.0" cy="237.8" fill="#9fff60"/><circle cx="318.6" cy="231.1" fill="#00eeff"/><circle cx="372.5" cy="234.8" fill="#83ff7c"/><circle cx="326.0" cy="204.2" fill="#00b6ff"/><circle cx="317.6" cy="206.0" fill="#63ff9c"/><circle cx="301.4" cy="208.5" fill="#74ff8b"/><circle cx="329.2" cy="205.1" fill="#00c7ff"/><circle cx="313.0" cy="207.8" fill="#00baff"/><circle cx="305.3" cy="209.3" fill="#0099ff"/><circle cx="333.0" cy="201.2" fill="#0072ff"/><circle cx="325.4" cy="207.3" fill="#001dff"/><circle cx="341.2" cy="205.5" fill="#0052ff"/><circle cx="336.4" cy="202.4" fill="#00b7ff"/><circle cx="337.2" cy="205.7" fill="#00beff"/><circle cx="340.1" cy="202.6" fill="#0062ff"/><circle cx="321.4" cy="206.2" fill="#004eff"/><circle cx="339.3" cy="207.9" fill="#007eff"/><circle cx="335.0" cy="208.2" fill="#00dcff"/><circle cx="345.7" cy="205.4" fill="#0052ff"/><circle cx="307.6" cy="205.3" fill="#0031ff"/><circle cx="317.9" cy="207.7" fill="#14ffeb"/><circle cx="319.6" cy="208.1" fill="#00c6ff"/><circle cx="313.7" cy="205.1" fill="#00deff"/><circle cx="332.2" cy="207.9" fill="#0036ff"/><circle cx="298.8" cy="211.2" fill="#00e3ff"/><circle cx="325.1" cy="202.4" fill="#00fdff"/><circle cx="336.3" cy="262.6" fill="#ffce00"/><circle cx="334.4" cy="258.4" fill="#ff9000"/><circle cx="348.0" cy="261.7" fill="#a5ff5a"/><circle cx="361.9" cy="265.3" fill="#79ff86"/><circle cx="350.1" cy="266.2" fill="#09fff6"/><circle cx="353.8" cy="267.2" fill="#00b2ff"/><circle cx="332.3" cy="255.0" fill="#c5ff3a"/><circle cx="386.7" cy="279.9" fill="#46ffb9"/><circle cx="378.0" cy="274.4" fill="#a7ff58"/><circle cx="357.7" cy="267.9" fill="#0cfff3"/><circle cx="370.4" cy="265.9" fill="#ffef00"/><circle cx="368.8" cy="268.9" fill="#06fff9"/><circle cx="365.1" cy="267.5" fill="#50ffaf"/><circle cx="368.3" cy="261.1" fill="#fff000"/><circle cx="344.8" cy="257.9" fill="#ffab00"/><circle cx="357.6" cy="260.9" fill="#9fff60"/><circle cx="369.3" cy="270.5" fill="#00e1ff"/><circle cx="372.4" cy="254.9" fill="#ffb900"/><circle cx="353.3" cy="259.3" fill="#68ff97"/><circle cx="339.6" cy="255.8" fill="#abff54"/><circle cx="375.8" cy="273.1" fill="#77ff88"/><circle cx="358.9" cy="252.5" fill="#ff3e00"/><circle cx="344.7" cy="255.2" fill="#ff4c00"/><circle cx="332.2" cy="259.5" fill="#fffc00"/><circle cx="366.2" cy="252.5" fill="#ff4900"/><circle cx="372.9" cy="258.4" fill="#c9ff36"/><circle cx="363.5" cy="253.9" fill="#ff1500"/><circle cx="353.2" cy="270.9" fill="#72ff8d"/><circle cx="368.0" cy="250.7" fill="#ff4b00"/><circle cx="366.3" cy="265.4" fill="#13ffec"/><circle cx="350.8" cy="255.4" fill="#ffc000"/><circle cx="351.7" cy="253.1" fill="#ff2400"/><circle cx="328.9" cy="260.0" fill="#ffcf00"/><circle cx="330.2" cy="256.4" fill="#ffa800"/><circle cx="377.0" cy="265.5" fill="#ffd200"/><circle cx="338.9" cy="253.4" fill="#ff5b00"/><circle cx="365.9" cy="259.9" fill="#fff600"/><circle cx="348.3" cy="258.1" fill="#acff53"/><circle cx="356.9" cy="252.7" fill="#ff8000"/><circle cx="374.2" cy="263.0" fill="#ff8200"/><circle cx="364.5" cy="255.8" fill="#ff2a00"/><circle cx="377.4" cy="277.6" fill="#b7ff48"/><circle cx="381.6" cy="264.2" fill="#c6ff39"/><circle cx="353.8" cy="249.8" fill="#ff3100"/><circle cx="383.0" cy="275.3" fill="#5cffa3"/><circle cx="332.5" cy="261.6" fill="#ff8b00"/><circle cx="337.5" cy="255.2" fill="#ff3200"/><circle cx="341.7" cy="258.0" fill="#88ff77"/><circle cx="354.6" cy="257.0" fill="#ff2600"/><circle cx="367.2" cy="256.2" fill="#ff5000"/><circle cx="369.3" cy="251.7" fill="#ff3d00"/><circle cx="378.0" cy="267.0" fill="#ffd700"/><circle cx="372.3" cy="265.6" fill="#ffcb00"/><circle cx="331.9" cy="252.2" fill="#73ff8c"/><circle cx="362.1" cy="261.9" fill="#c2ff3d"/><circle cx="360.6" cy="271.7" fill="#008bff"/><circle cx="372.8" cy="277.6" fill="#97ff68"/><circle cx="378.0" cy="270.5" fill="#cdff32"/><circle cx="363.3" cy="259.7" fill="#a7ff58"/><circle cx="370.6" cy="274.1" fill="#00ffff"/><circle cx="376.2" cy="267.4" fill="#ff9c00"/><circle cx="344.1" cy="262.7" fill="#ff8400"/><circle cx="350.0" cy="261.3" fill="#a5ff5a"/><circle cx="348.0" cy="256.4" fill="#ff3c00"/><circle cx="327.0" cy="262.2" fill="#fff400"/><circle cx="321.2" cy="252.5" fill="#daff25"/><circle cx="340.6" cy="262.8" fill="#fff400"/><circle cx="350.8" cy="268.2" fill="#4bffb4"/><circle cx="361.4" cy="267.5" fill="#00e2ff"/><circle cx="349.9" cy="251.9" fill="#ff9200"/><circle cx="381.8" cy="269.1" fill="#31ffce"/><circle cx="355.2" cy="262.8" fill="#fff000"/><circle cx="337.6" cy="258.8" fill="#ff8500"/><circle cx="323.3" cy="255.5" fill="#eeff11"/><circle cx="384.7" cy="277.7" fill="#bcff43"/><circle cx="356.2" cy="258.3" fill="#9aff65"/><circle cx="370.8" cy="251.0" fill="#ff4100"/><circle cx="381.4" cy="271.9" fill="#00f6ff"/><circle cx="349.9" cy="250.8" fill="#ff9a00"/><circle cx="353.4" cy="264.6" fill="#00fdff"/><circle cx="356.1" cy="270.4" fill="#0075ff"/><circle cx="324.3" cy="253.8" fill="#ff5600"/><circle cx="383.7" cy="272.0" fill="#0065ff"/><circle cx="326.3" cy="256.1" fill="#ff6900"/><circle cx="358.9" cy="255.7" fill="#ff2400"/><circle cx="378.5" cy="279.5" fill="#00d2ff"/><circle cx="372.6" cy="261.5" fill="#c2ff3d"/><circle cx="336.1" cy="251.0" fill="#fffc00"/><circle cx="345.6" cy="253.8" fill="#ff7c00"/><circle cx="359.5" cy="258.0" fill="#ffc300"/><circle cx="335.2" cy="252.1" fill="#ffe200"/><circle cx="382.3" cy="279.4" fill="#e0ff1f"/><circle cx="355.1" cy="264.8" fill="#8cff73"/><circle cx="373.5" cy="270.3" fill="#ffca00"/><circle cx="379.7" cy="277.7" fill="#54ffab"/><circle cx="369.7" cy="258.8" fill="#ff5400"/><circle cx="361.7" cy="254.9" fill="#ff3d00"/><circle cx="365.5" cy="261.1" fill="#d5ff2a"/><circle cx="329.6" cy="262.1" fill="#fbff04"/><circle cx="324.6" cy="258.2" fill="#ffba00"/><circle cx="371.9" cy="268.2" fill="#f2ff0d"/><circle cx="327.3" cy="253.1" fill="#ffed00"/><circle cx="368.5" cy="273.9" fill="#4dffb2"/><circle cx="342.6" cy="253.7" fill="#ff3000"/><circle cx="359.6" cy="264.8" fill="#00f9ff"/></g><g transform="translate(-196.50,-96.80) scale(0.5)" fill="none" stroke-width="9.4" stroke-linecap="round"><path stroke="#000099" d="M526 540h0M529 542h0M524 544h0M527 546h0M532 546h0M562 556h0M567 557h0M581 559h0M592 560h0M598 561h0M520 565h0M531 566h0M534 565h0M527 571h0M533 570h0M561 571h0M565 570h0M508 574h0M511 574h0M526 575h0M531 574h0M562 576h0M501 578h0M505 578h0M509 578h0M515 577h0M518 579h0M524 579h0M527 580h0M534 578h0M560 578h0M564 577h0M504 584h0M509 583h0M511 582h0M515 584h0M521 583h0M525 583h0M549 583h0M554 582h0M576 584h0M585 584h0M505 585h0M509 586h0M513 588h0M525 587h0M527 586h0M560 586h0M566 586h0M513 591h0M521 590h0M527 591h0M531 592h0M536 591h0M540 592h0M561 592h0M568 590h0M613 590h0M509 594h0M515 594h0M520 596h0M522 594h0M528 594h0M532 594h0M538 596h0M542 594h0M492 600h0M498 598h0M507 600h0M512 598h0M527 598h0M531 599h0M534 598h0M595 600h0M604 599h0M500 603h0M584 603h0M586 603h0M592 603h0M598 604h0M601 603h0M495 608h0M499 606h0M503 607h0M508 608h0M511 607h0M557 609h0M568 609h0M586 607h0M589 609h0M595 607h0M600 607h0M605 608h0M506 612h0M527 613h0M538 611h0M541 612h0M546 612h0M579 613h0M584 613h0M592 611h0M601 613h0M607 610h0M531 615h0M536 615h0M538 615h0M548 615h0M591 615h0M556 619h0M559 620h0"/><path stroke="#0000b2" d="M570 525h0M524 530h0M521 532h0M526 532h0M531 534h0M539 533h0M543 534h0M520 537h0M523 537h0M529 537h0M533 537h0M515 542h0M522 542h0M536 541h0M540 540h0M515 545h0M519 545h0M538 545h0M542 545h0M527 550h0M535 548h0M504 554h0M510 554h0M537 554h0M551 554h0M555 553h0M561 554h0M565 552h0M570 554h0M573 553h0M580 553h0M583 555h0M593 554h0M598 555h0M509 559h0M530 558h0M545 556h0M553 559h0M557 557h0M573 556h0M577 559h0M586 557h0M590 558h0M596 557h0M599 557h0M514 562h0M523 561h0M527 562h0M534 562h0M538 563h0M542 563h0M564 562h0M571 561h0M573 563h0M580 562h0M583 563h0M589 563h0M506 565h0M517 565h0M525 567h0M541 567h0M543 566h0M554 565h0M568 566h0M582 567h0M584 567h0M501 569h0M505 571h0M509 569h0M515 571h0M519 571h0M524 571h0M536 570h0M571 571h0M575 571h0M580 572h0M594 570h0M497 573h0M501 575h0M516 573h0M522 575h0M534 575h0M557 576h0M568 575h0M571 573h0M577 576h0M591 574h0M596 574h0M600 574h0M496 577h0M539 578h0M542 578h0M546 579h0M552 579h0M569 577h0M574 577h0M577 579h0M583 579h0M588 577h0M594 579h0M610 578h0M498 584h0M530 584h0M536 584h0M540 582h0M544 583h0M558 583h0M562 584h0M573 583h0M581 582h0M591 583h0M594 583h0M609 583h0M635 582h0M639 581h0M500 588h0M518 586h0M533 588h0M542 586h0M545 585h0M555 586h0M570 588h0M574 587h0M577 587h0M585 586h0M588 587h0M592 588h0M597 588h0M601 586h0M605 587h0M615 586h0M621 588h0M503 590h0M507 590h0M515 590h0M545 591h0M558 590h0M603 590h0M609 591h0M617 591h0M505 594h0M557 596h0M559 594h0M565 595h0M570 595h0M574 594h0M584 594h0M602 596h0M607 596h0M502 598h0M516 599h0M521 598h0M540 599h0M543 600h0M563 599h0M568 600h0M585 598h0M599 599h0M608 598h0M628 598h0M496 602h0M504 603h0M510 602h0M520 603h0M523 604h0M528 604h0M532 603h0M537 604h0M543 604h0M556 602h0M561 603h0M566 604h0M573 603h0M579 604h0M607 603h0M610 602h0M614 604h0M620 604h0M517 606h0M522 607h0M526 608h0M532 607h0M534 608h0M540 608h0M545 608h0M561 608h0M572 606h0M577 609h0M582 607h0M609 608h0M612 608h0M635 607h0M641 608h0M670 609h0M674 608h0M496 613h0M502 612h0M509 613h0M513 613h0M519 612h0M524 612h0M532 610h0M552 613h0M555 611h0M561 611h0M564 611h0M588 613h0M596 612h0M643 612h0M647 611h0M667 612h0M671 612h0M681 611h0M498 615h0M502 615h0M506 617h0M511 616h0M515 617h0M522 616h0M543 616h0M555 616h0M557 616h0M567 617h0M571 616h0M575 615h0M581 615h0M585 616h0M594 617h0M600 616h0M633 615h0M665 617h0M667 615h0M678 615h0M506 620h0M513 621h0M518 619h0M523 621h0M528 621h0M531 619h0M543 619h0M547 619h0M550 619h0M565 621h0M569 619h0M583 619h0M589 619h0M593 620h0M597 619h0M625 619h0M657 619h0M660 619h0M516 624h0M527 623h0M539 624h0M544 624h0M548 623h0M554 623h0M562 624h0M566 624h0M586 623h0M594 623h0M614 623h0"/><path stroke="#0000cc" d="M524 522h0M532 520h0M537 520h0M543 521h0M529 524h0M534 526h0M540 524h0M562 526h0M568 524h0M527 528h0M531 528h0M538 527h0M543 530h0M516 533h0M536 532h0M549 534h0M497 536h0M515 537h0M536 538h0M541 537h0M546 536h0M560 538h0M583 538h0M606 538h0M508 542h0M511 542h0M543 540h0M549 541h0M557 541h0M562 541h0M577 541h0M591 541h0M598 542h0M605 540h0M610 541h0M508 546h0M547 545h0M552 544h0M556 546h0M565 545h0M569 547h0M574 544h0M578 544h0M584 544h0M587 546h0M594 546h0M597 545h0M509 551h0M511 549h0M515 550h0M522 551h0M531 550h0M540 548h0M550 548h0M555 550h0M558 548h0M566 549h0M571 549h0M580 549h0M586 549h0M591 549h0M593 550h0M600 549h0M514 553h0M523 554h0M527 553h0M533 552h0M542 552h0M545 552h0M587 552h0M602 553h0M503 557h0M511 558h0M518 559h0M521 558h0M526 558h0M535 557h0M540 558h0M548 558h0M486 563h0M505 561h0M509 561h0M518 561h0M546 562h0M552 561h0M555 563h0M559 561h0M603 563h0M607 562h0M499 565h0M502 565h0M513 565h0M550 567h0M562 567h0M573 566h0M576 566h0M589 567h0M595 566h0M600 567h0M604 566h0M610 566h0M613 566h0M497 570h0M541 570h0M547 570h0M556 569h0M584 571h0M588 570h0M598 569h0M607 569h0M488 574h0M494 575h0M541 575h0M544 573h0M548 574h0M554 574h0M581 575h0M585 575h0M603 576h0M609 575h0M614 574h0M618 575h0M622 575h0M627 574h0M486 579h0M491 578h0M554 577h0M598 578h0M602 579h0M606 578h0M625 579h0M640 579h0M494 581h0M566 584h0M599 584h0M603 581h0M613 583h0M618 583h0M622 581h0M628 584h0M631 582h0M490 587h0M496 588h0M538 586h0M551 587h0M611 586h0M630 586h0M493 592h0M499 590h0M553 590h0M577 592h0M582 591h0M590 590h0M596 590h0M598 590h0M621 591h0M628 592h0M633 590h0M635 591h0M644 591h0M655 590h0M667 592h0M673 590h0M496 596h0M500 595h0M547 594h0M552 596h0M579 596h0M588 594h0M597 595h0M611 595h0M614 595h0M626 594h0M628 595h0M634 595h0M652 594h0M657 596h0M549 598h0M553 599h0M558 600h0M572 600h0M575 600h0M580 600h0M591 600h0M612 600h0M623 599h0M633 600h0M636 600h0M646 599h0M649 599h0M653 600h0M688 599h0M516 602h0M547 603h0M550 605h0M568 603h0M624 603h0M630 604h0M634 603h0M643 604h0M648 604h0M651 603h0M550 607h0M553 608h0M618 607h0M621 606h0M626 608h0M631 607h0M646 608h0M651 607h0M678 608h0M687 607h0M692 608h0M569 612h0M573 611h0M612 611h0M615 610h0M620 612h0M625 611h0M633 612h0M638 612h0M651 611h0M663 612h0M676 613h0M685 613h0M688 611h0M694 610h0M525 615h0M564 615h0M604 616h0M609 615h0M613 616h0M618 615h0M622 617h0M637 617h0M640 615h0M674 616h0M681 617h0M688 617h0M690 616h0M696 617h0M502 620h0M509 620h0M536 620h0M574 621h0M578 621h0M602 621h0M610 619h0M615 619h0M619 619h0M630 619h0M633 621h0M638 619h0M643 621h0M667 619h0M671 621h0M675 621h0M693 619h0M502 623h0M508 623h0M512 623h0M522 623h0M571 623h0M582 624h0M590 623h0M599 624h0M603 623h0M623 623h0M627 623h0M631 624h0M637 624h0M641 624h0M650 623h0M663 623h0M667 623h0M692 624h0"/><path stroke="#0000e6" d="M543 513h0M588 514h0M534 516h0M541 518h0M545 516h0M553 516h0M585 517h0M590 516h0M511 520h0M527 521h0M545 520h0M569 521h0M574 522h0M602 519h0M606 522h0M520 526h0M526 524h0M545 524h0M576 526h0M581 525h0M605 526h0M607 526h0M518 528h0M561 527h0M566 530h0M569 529h0M575 529h0M577 529h0M552 533h0M558 532h0M563 534h0M567 532h0M572 532h0M578 532h0M589 533h0M491 538h0M500 538h0M509 536h0M552 538h0M555 537h0M566 536h0M575 538h0M577 537h0M587 538h0M593 536h0M596 538h0M603 537h0M612 538h0M484 542h0M490 542h0M493 541h0M498 541h0M504 540h0M552 541h0M566 541h0M570 541h0M581 542h0M584 541h0M594 540h0M612 541h0M505 547h0M561 546h0M603 544h0M606 544h0M616 546h0M497 550h0M502 549h0M545 550h0M562 548h0M575 549h0M605 550h0M612 550h0M617 548h0M481 553h0M487 553h0M490 553h0M495 554h0M501 553h0M520 554h0M608 552h0M610 554h0M494 556h0M498 559h0M605 558h0M610 559h0M614 558h0M501 563h0M610 562h0M616 562h0M484 566h0M489 565h0M494 566h0M557 567h0M617 566h0M486 571h0M491 569h0M551 571h0M602 569h0M612 569h0M616 570h0M619 570h0M633 574h0M617 580h0M620 578h0M630 577h0M634 577h0M644 579h0M489 583h0M645 583h0M651 582h0M692 582h0M696 581h0M626 586h0M643 587h0M647 585h0M652 588h0M690 585h0M550 590h0M571 592h0M585 590h0M642 591h0M651 591h0M663 592h0M676 590h0M493 594h0M592 594h0M620 596h0M639 596h0M643 596h0M647 595h0M661 595h0M665 596h0M670 595h0M690 596h0M693 595h0M698 596h0M702 595h0M616 600h0M641 600h0M660 600h0M662 600h0M672 598h0M681 600h0M692 599h0M702 599h0M637 602h0M658 602h0M676 603h0M680 604h0M685 604h0M688 603h0M656 606h0M658 608h0M665 608h0M681 606h0M695 606h0M699 606h0M629 612h0M656 612h0M699 612h0M704 612h0M628 615h0M646 615h0M649 616h0M653 615h0M659 614h0M701 616h0M711 615h0M607 620h0M649 619h0M653 619h0M681 621h0M684 619h0M688 621h0M698 621h0M646 624h0M654 624h0M696 624h0"/><path stroke="#0000ff" d="M536 513h0M552 513h0M557 513h0M564 513h0M585 512h0M592 512h0M520 517h0M525 517h0M530 517h0M548 518h0M557 516h0M563 516h0M581 515h0M595 516h0M599 515h0M604 516h0M505 521h0M514 520h0M552 519h0M556 519h0M561 520h0M564 521h0M579 521h0M582 520h0M588 521h0M597 520h0M611 521h0M509 524h0M518 526h0M550 525h0M554 526h0M557 525h0M584 525h0M601 524h0M612 524h0M506 528h0M509 529h0M513 528h0M548 528h0M555 529h0M582 530h0M589 530h0M592 528h0M597 530h0M601 528h0M605 529h0M612 529h0M616 528h0M497 532h0M502 533h0M511 533h0M581 532h0M586 533h0M595 532h0M599 533h0M608 532h0M613 532h0M474 538h0M478 538h0M488 538h0M505 536h0M570 538h0M616 537h0M481 545h0M487 545h0M492 544h0M497 547h0M499 545h0M610 546h0M621 546h0M481 550h0M484 549h0M490 550h0M495 550h0M609 551h0M615 553h0M638 555h0M628 559h0M491 561h0M621 561h0M624 562h0M630 561h0M634 562h0M631 567h0M635 566h0M640 566h0M649 567h0M633 571h0M640 571h0M648 569h0M637 575h0M642 574h0M659 575h0M647 577h0M651 579h0M657 578h0M662 577h0M656 584h0M633 586h0M637 587h0M658 587h0M662 587h0M667 587h0M674 586h0M695 586h0M699 587h0M703 586h0M660 591h0M683 592h0M692 591h0M696 589h0M702 592h0M704 591h0M676 596h0M680 595h0M685 596h0M668 600h0M678 600h0M697 600h0M666 604h0M671 604h0M699 604h0M706 604h0M705 609h0M709 611h0M713 612h0M716 613h0M704 617h0M715 617h0M702 619h0M713 619h0M682 624h0M702 623h0"/><path stroke="#0019ff" d="M576 509h0M548 511h0M560 511h0M574 513h0M579 512h0M507 515h0M512 516h0M518 515h0M567 516h0M573 516h0M576 516h0M518 521h0M593 520h0M614 522h0M502 526h0M512 524h0M591 525h0M617 525h0M550 529h0M620 528h0M506 532h0M604 532h0M618 534h0M483 537h0M479 542h0M619 542h0M477 546h0M624 544h0M629 546h0M621 550h0M619 554h0M634 555h0M483 558h0M489 558h0M618 557h0M622 559h0M631 558h0M636 557h0M482 561h0M497 562h0M643 561h0M622 565h0M628 565h0M654 567h0M625 569h0M631 570h0M643 570h0M652 570h0M645 575h0M667 578h0M671 579h0M697 579h0M659 582h0M674 582h0M679 584h0M687 581h0M700 583h0M704 584h0M670 586h0M679 586h0M707 587h0M687 590h0M715 590h0M712 596h0M705 600h0M709 600h0M661 603h0M694 602h0M703 603h0M712 604h0M709 606h0M714 608h0M720 610h0M719 617h0M709 619h0"/><path stroke="#0033ff" d="M535 507h0M539 508h0M545 507h0M548 507h0M553 508h0M558 508h0M563 509h0M567 507h0M573 508h0M582 508h0M584 508h0M522 513h0M528 513h0M534 512h0M569 511h0M502 519h0M495 525h0M498 524h0M595 526h0M495 528h0M501 528h0M623 530h0M489 533h0M493 532h0M621 532h0M621 538h0M623 541h0M637 550h0M643 553h0M647 554h0M641 558h0M638 561h0M648 562h0M646 565h0M657 571h0M662 571h0M649 574h0M654 574h0M663 573h0M668 575h0M673 574h0M682 575h0M701 574h0M706 574h0M674 578h0M680 577h0M684 579h0M688 579h0M694 579h0M704 579h0M707 578h0M665 581h0M670 584h0M683 582h0M709 583h0M684 588h0M713 588h0M711 590h0M719 591h0M709 595h0M714 599h0M715 602h0M720 609h0M716 620h0M720 620h0M727 619h0M729 619h0M706 624h0M708 623h0"/><path stroke="#004dff" d="M525 509h0M529 508h0M495 521h0M623 524h0M628 526h0M631 525h0M629 528h0M481 533h0M485 533h0M626 533h0M624 537h0M635 538h0M628 541h0M633 540h0M633 546h0M628 550h0M631 549h0M641 549h0M626 553h0M629 553h0M646 557h0M650 557h0M659 558h0M652 562h0M663 561h0M659 565h0M679 570h0M699 570h0M704 569h0M708 570h0M677 574h0M687 573h0M709 576h0M713 574h0M711 579h0M717 594h0M721 594h0M718 599h0M722 603h0M725 607h0M727 607h0M729 616h0M736 615h0M734 619h0M737 623h0"/><path stroke="#0066ff" d="M513 513h0M622 516h0M486 521h0M624 519h0M629 522h0M488 526h0M486 529h0M491 529h0M633 529h0M628 536h0M637 537h0M643 546h0M645 550h0M651 550h0M653 554h0M656 554h0M661 555h0M654 559h0M665 558h0M656 562h0M665 561h0M669 563h0M665 567h0M668 565h0M673 567h0M700 566h0M705 566h0M709 567h0M665 569h0M671 571h0M674 569h0M683 570h0M688 569h0M695 570h0M690 574h0M695 574h0M715 584h0M717 585h0M734 592h0M725 596h0M724 598h0M736 604h0M733 608h0M729 610h0M723 615h0M733 615h0M740 621h0"/><path stroke="#0080ff" d="M519 511h0M623 512h0M626 517h0M631 516h0M635 524h0M483 529h0M474 534h0M632 533h0M635 534h0M636 541h0M641 542h0M650 541h0M647 544h0M654 549h0M668 557h0M673 558h0M676 557h0M691 558h0M696 557h0M701 558h0M675 561h0M697 562h0M701 562h0M706 561h0M677 565h0M692 567h0M695 565h0M711 570h0M722 587h0M728 592h0M738 590h0M730 596h0M729 599h0M733 598h0M725 603h0M730 603h0M738 608h0M727 611h0M734 613h0M768 612h0M771 611h0M743 616h0M757 617h0M761 617h0M764 616h0M771 614h0M767 619h0M772 619h0M764 623h0M769 624h0"/><path stroke="#0099ff" d="M634 519h0M483 524h0M642 536h0M646 541h0M656 540h0M638 545h0M653 544h0M656 546h0M661 546h0M660 549h0M665 549h0M691 551h0M669 553h0M675 553h0M689 553h0M694 554h0M699 554h0M686 557h0M706 557h0M710 557h0M680 562h0M694 562h0M713 561h0M682 565h0M687 565h0M717 571h0M720 574h0M718 578h0M721 579h0M724 580h0M719 581h0M724 581h0M724 590h0M736 594h0M738 600h0M740 604h0M739 612h0M759 613h0M764 611h0M775 616h0M758 620h0M762 619h0"/><path stroke="#00b2ff" d="M628 512h0M472 530h0M647 538h0M665 546h0M671 545h0M679 546h0M672 551h0M678 549h0M681 550h0M696 551h0M666 553h0M681 555h0M685 554h0M703 552h0M681 558h0M715 556h0M718 559h0M689 562h0M717 562h0M715 567h0M722 570h0M722 574h0M727 575h0M732 579h0M735 579h0M732 582h0M736 582h0M725 587h0M736 588h0M743 592h0M739 596h0M741 599h0M743 607h0M747 609h0M778 608h0M744 612h0M755 612h0M777 611h0M747 616h0M751 617h0M778 615h0M746 619h0M752 620h0M776 620h0M752 624h0M755 623h0"/><path stroke="#00ccff" d="M633 511h0M481 521h0M480 524h0M479 528h0M652 537h0M659 542h0M668 542h0M673 541h0M676 544h0M667 548h0M686 550h0M704 550h0M709 550h0M709 554h0M724 557h0M738 558h0M685 563h0M721 563h0M730 563h0M720 566h0M725 567h0M727 571h0M733 576h0M729 582h0M731 586h0M738 586h0M756 598h0M771 599h0M773 598h0M777 598h0M776 602h0M752 607h0M760 608h0M775 608h0M749 612h0M781 611h0M749 620h0M781 620h0M745 624h0M780 624h0"/><path stroke="#00e5ff" d="M627 508h0M630 507h0M639 522h0M646 534h0M657 537h0M662 538h0M688 536h0M663 541h0M679 541h0M683 547h0M700 548h0M714 549h0M712 554h0M716 555h0M727 557h0M732 557h0M734 563h0M729 565h0M732 567h0M730 571h0M738 577h0M747 590h0M743 596h0M754 595h0M758 595h0M772 595h0M775 596h0M745 600h0M752 598h0M759 600h0M766 601h0M745 602h0M768 603h0M772 604h0M754 607h0M766 606h0M769 606h0M784 623h0"/><path stroke="#00ffff" d="M637 515h0M473 521h0M471 526h0M476 525h0M639 523h0M639 529h0M641 532h0M651 533h0M669 537h0M677 537h0M684 538h0M694 538h0M698 537h0M682 542h0M687 541h0M690 546h0M695 547h0M711 546h0M719 550h0M720 553h0M725 552h0M731 554h0M726 561h0M735 570h0M738 576h0M745 588h0M764 594h0M767 595h0M750 603h0M754 605h0M759 602h0M763 602h0"/><path stroke="#1affe5" d="M655 534h0M691 533h0M696 533h0M667 536h0M680 536h0M699 545h0M703 544h0M707 545h0M725 549h0M727 549h0M736 555h0M741 557h0M738 565h0M739 571h0M745 579h0M743 584h0M745 581h0M752 590h0M749 594h0"/><path stroke="#33ffcc" d="M641 518h0M647 530h0M652 530h0M664 534h0M686 532h0M690 542h0M697 542h0M700 542h0M732 550h0M738 554h0M741 563h0M745 570h0M743 574h0M750 577h0M747 587h0M753 588h0M772 587h0M756 590h0M769 590h0M775 592h0"/><path stroke="#4dffb2" d="M638 513h0M658 532h0M682 533h0M741 567h0M745 567h0M752 576h0M753 579h0M755 583h0M765 581h0M760 590h0M766 590h0"/><path stroke="#66ff99" d="M643 520h0M644 524h0M644 528h0M669 532h0M677 532h0M736 550h0M749 569h0M754 571h0M748 574h0M755 575h0M758 580h0M777 580h0M751 584h0M761 583h0M769 582h0M775 582h0M767 586h0M775 588h0"/><path stroke="#80ff80" d="M657 530h0M694 530h0M672 532h0M746 557h0M745 563h0M752 566h0M761 574h0M763 579h0M771 578h0M759 586h0"/><path stroke="#99ff66" d="M684 528h0M690 528h0M749 561h0M759 570h0M764 569h0M776 571h0M765 574h0M768 578h0M763 587h0"/><path stroke="#b3ff4c" d="M643 513h0M661 529h0M680 528h0M752 562h0M767 569h0M773 571h0M771 575h0"/><path stroke="#ccff33" d="M665 530h0M757 562h0M756 566h0M769 566h0M773 566h0M774 574h0"/><path stroke="#e5ff1a" d="M669 530h0M765 566h0"/><path stroke="#ffff00" d="M675 528h0M760 565h0"/></g><g transform="translate(-196.50,-96.80)"><circle cx="246.9" cy="226.3" r="3.4" fill="#0000e6"/><circle cx="324.0" cy="213.9" r="3.6" fill="#0000e6"/><circle cx="384.3" cy="275.7" r="3.6" fill="#0000e6"/><circle cx="374.4" cy="198.6" r="3.3" fill="#d1ff2e"/></g></g>
<use href="#map"/>
</g>
<rect x="441.50" y="485.50" width="23.00" height="215.00" fill="url(#jet)" stroke="#262626" stroke-width="1"/>
<path d="M464.50 593.00h-2.3" stroke="#262626" stroke-width="1"/>
<text class="b c" x="472.6" y="493.9">100</text>
<text class="b c" x="472.6" y="601.4">50</text>
<text class="b c" x="472.6" y="708.9">0</text>
<text class="b x" y="730.8"><tspan x="140.2">SAT</tspan><tspan x="197.0">300</tspan><tspan x="252.4">hPa</tspan><tspan x="309.5">RH</tspan><tspan x="355.7">(Percent)</tspan></text>
<text class="b t" x="214.6" y="466.9">100</text>
<text class="b d" x="245.1" y="460.6" text-anchor="middle">°</text>
<text class="b t" x="252.7" y="466.9">W</text>
<text class="b t" x="283.8" y="466.9">90</text>
<text class="b d" x="305.3" y="460.6" text-anchor="middle">°</text>
<text class="b t" x="312.9" y="466.9">W</text>
<text class="b t" x="347.8" y="466.9">80</text>
<text class="b d" x="369.3" y="460.6" text-anchor="middle">°</text>
<text class="b t" x="376.9" y="466.9">W</text>
<text class="b t" x="411.4" y="466.9">70</text>
<text class="b d" x="432.9" y="460.6" text-anchor="middle">°</text>
<text class="b t" x="440.5" y="466.9">W</text>
<text class="b t" x="145.7" y="502.3">48</text>
<text class="b d" x="168.6" y="496.2" text-anchor="middle">°</text>
<text class="b t" x="174.7" y="502.3">N</text>
<text class="b t" x="145.7" y="521.2">46</text>
<text class="b d" x="168.6" y="515.1" text-anchor="middle">°</text>
<text class="b t" x="174.7" y="521.2">N</text>
<text class="b t" x="145.7" y="538.2">44</text>
<text class="b d" x="168.6" y="532.1" text-anchor="middle">°</text>
<text class="b t" x="174.7" y="538.2">N</text>
<text class="b t" x="145.7" y="556.7">42</text>
<text class="b d" x="168.6" y="550.6" text-anchor="middle">°</text>
<text class="b t" x="174.7" y="556.7">N</text>
<text class="b t" x="145.7" y="573.4">40</text>
<text class="b d" x="168.6" y="567.3" text-anchor="middle">°</text>
<text class="b t" x="174.7" y="573.4">N</text>
<text class="b t" x="145.7" y="588.4">38</text>
<text class="b d" x="168.6" y="582.3" text-anchor="middle">°</text>
<text class="b t" x="174.7" y="588.4">N</text>
<text class="b t" x="145.7" y="604.1">36</text>
<text class="b d" x="168.6" y="598.0" text-anchor="middle">°</text>
<text class="b t" x="174.7" y="604.1">N</text>
<text class="b t" x="145.7" y="619.7">34</text>
<text class="b d" x="168.6" y="613.6" text-anchor="middle">°</text>
<text class="b t" x="174.7" y="619.7">N</text>
<text class="b t" x="145.7" y="635.6">32</text>
<text class="b d" x="168.6" y="629.5" text-anchor="middle">°</text>
<text class="b t" x="174.7" y="635.6">N</text>
<text class="b t" x="145.7" y="650.6">30</text>
<text class="b d" x="168.6" y="644.5" text-anchor="middle">°</text>
<text class="b t" x="174.7" y="650.6">N</text>
<text class="b t" x="145.7" y="663.2">28</text>
<text class="b d" x="168.6" y="657.1" text-anchor="middle">°</text>
<text class="b t" x="174.7" y="663.2">N</text>
<text class="b t" x="145.7" y="677.1">26</text>
<text class="b d" x="168.6" y="671.0" text-anchor="middle">°</text>
<text class="b t" x="174.7" y="677.1">N</text>
<text class="b t" x="145.7" y="692.5">24</text>
<text class="b d" x="168.6" y="686.4" text-anchor="middle">°</text>
<text class="b t" x="174.7" y="692.5">N</text>
<text class="b t" x="145.7" y="704.4">22</text>
<text class="b d" x="168.6" y="698.3" text-anchor="middle">°</text>
<text class="b t" x="174.7" y="704.4">N</text>
<rect x="617.25" y="486.80" width="233.00" height="212.60" fill="#fff" stroke="#262626" stroke-width="1"/>
<g transform="translate(617.25,486.80) scale(1.00000,1.00000)">
<g clip-path="url(#cd)"><g class="D" transform="translate(-196.50,-96.80)"><circle cx="242.9" cy="236.9" fill="#ff7600"/><circle cx="234.0" cy="233.9" fill="#ff7900"/><circle cx="250.2" cy="242.8" fill="#d60000"/><circle cx="242.1" cy="243.6" fill="#82ff7d"/><circle cx="243.3" cy="241.6" fill="#ffee00"/><circle cx="234.5" cy="248.8" fill="#8fff70"/><circle cx="245.1" cy="247.5" fill="#05fffa"/><circle cx="240.1" cy="245.7" fill="#beff41"/><circle cx="232.1" cy="243.8" fill="#64ff9b"/><circle cx="250.9" cy="240.3" fill="#d90000"/><circle cx="239.7" cy="244.8" fill="#beff41"/><circle cx="235.9" cy="247.4" fill="#b6ff49"/><circle cx="236.2" cy="244.4" fill="#b0ff4f"/><circle cx="233.7" cy="246.9" fill="#55ffaa"/><circle cx="247.6" cy="233.6" fill="#f10000"/><circle cx="229.7" cy="240.1" fill="#ffe500"/><circle cx="236.1" cy="240.2" fill="#d3ff2c"/><circle cx="239.6" cy="229.1" fill="#ff6400"/><circle cx="230.7" cy="231.5" fill="#ff8100"/><circle cx="234.3" cy="236.7" fill="#fbff04"/><circle cx="240.7" cy="240.4" fill="#ff9200"/><circle cx="233.3" cy="240.7" fill="#a3ff5c"/><circle cx="242.9" cy="229.4" fill="#ff3200"/><circle cx="245.9" cy="236.8" fill="#b40000"/><circle cx="248.7" cy="246.9" fill="#daff25"/><circle cx="235.0" cy="232.3" fill="#ff6800"/><circle cx="240.6" cy="234.0" fill="#b10000"/><circle cx="246.4" cy="242.8" fill="#bb0000"/><circle cx="228.3" cy="232.0" fill="#ffe100"/><circle cx="227.9" cy="237.3" fill="#9bff64"/><circle cx="238.3" cy="231.6" fill="#ff8200"/><circle cx="247.0" cy="240.7" fill="#db0000"/><circle cx="252.2" cy="238.8" fill="#c90000"/><circle cx="231.6" cy="237.2" fill="#d6ff29"/><circle cx="246.1" cy="230.5" fill="#ef0000"/><circle cx="229.4" cy="234.9" fill="#ff6100"/><circle cx="253.6" cy="241.8" fill="#c50000"/><circle cx="241.4" cy="248.7" fill="#01fffe"/><circle cx="243.0" cy="231.0" fill="#f60000"/><circle cx="243.0" cy="235.7" fill="#e80000"/><circle cx="252.6" cy="243.8" fill="#ca0000"/><circle cx="239.1" cy="237.1" fill="#ffed00"/><circle cx="248.2" cy="238.7" fill="#c20000"/><circle cx="236.1" cy="234.5" fill="#ffe300"/><circle cx="247.6" cy="252.3" fill="#40ffbf"/><circle cx="257.3" cy="249.2" fill="#f3ff0c"/><circle cx="233.6" cy="253.3" fill="#00c6ff"/><circle cx="245.6" cy="256.4" fill="#00afff"/><circle cx="235.9" cy="255.1" fill="#00d9ff"/><circle cx="249.1" cy="250.6" fill="#d6ff29"/><circle cx="231.5" cy="250.3" fill="#42ffbd"/><circle cx="238.1" cy="250.1" fill="#7aff85"/><circle cx="251.8" cy="249.5" fill="#85ff7a"/><circle cx="246.5" cy="248.9" fill="#4affb5"/><circle cx="242.9" cy="255.9" fill="#00b3ff"/><circle cx="253.3" cy="253.5" fill="#62ff9d"/><circle cx="248.7" cy="255.9" fill="#00a5ff"/><circle cx="254.7" cy="248.0" fill="#a7ff58"/><circle cx="243.2" cy="254.1" fill="#00b3ff"/><circle cx="239.5" cy="253.6" fill="#0097ff"/><circle cx="236.9" cy="252.8" fill="#16ffe9"/><circle cx="238.8" cy="255.7" fill="#00d3ff"/><circle cx="235.2" cy="251.0" fill="#2fffd0"/><circle cx="259.5" cy="250.0" fill="#b2ff4d"/><circle cx="251.3" cy="252.9" fill="#94ff6b"/><circle cx="243.0" cy="250.4" fill="#0afff5"/><circle cx="257.6" cy="253.8" fill="#61ff9e"/><circle cx="286.8" cy="238.7" fill="#79ff86"/><circle cx="269.6" cy="223.2" fill="#3cffc3"/><circle cx="282.0" cy="235.4" fill="#32ffcd"/><circle cx="257.7" cy="226.0" fill="#ffb800"/><circle cx="266.6" cy="224.0" fill="#1fffe0"/><circle cx="258.3" cy="230.4" fill="#ffd000"/><circle cx="283.3" cy="236.5" fill="#00beff"/><circle cx="289.0" cy="237.0" fill="#5cffa3"/><circle cx="263.9" cy="223.8" fill="#37ffc8"/><circle cx="256.2" cy="229.2" fill="#ff0c00"/><circle cx="267.8" cy="226.8" fill="#a6ff59"/><circle cx="282.8" cy="240.1" fill="#5affa5"/><circle cx="279.5" cy="233.9" fill="#45ffba"/><circle cx="281.3" cy="243.1" fill="#19ffe6"/><circle cx="290.5" cy="234.8" fill="#f6ff09"/><circle cx="265.5" cy="229.0" fill="#61ff9e"/><circle cx="284.8" cy="241.1" fill="#2dffd2"/><circle cx="288.9" cy="241.6" fill="#23ffdc"/><circle cx="264.3" cy="227.2" fill="#6fff90"/><circle cx="253.4" cy="227.0" fill="#ff8400"/><circle cx="261.1" cy="227.3" fill="#d6ff29"/><circle cx="286.0" cy="232.8" fill="#00bfff"/><circle cx="290.9" cy="240.0" fill="#0ffff0"/><circle cx="301.3" cy="237.1" fill="#bfff40"/><circle cx="265.0" cy="249.1" fill="#fdff02"/><circle cx="278.1" cy="241.0" fill="#00e5ff"/><circle cx="274.7" cy="243.9" fill="#56ffa9"/><circle cx="302.6" cy="241.1" fill="#46ffb9"/><circle cx="273.5" cy="240.7" fill="#d4ff2b"/><circle cx="324.3" cy="234.7" fill="#ff8b00"/><circle cx="321.6" cy="234.6" fill="#ffc800"/><circle cx="319.6" cy="237.5" fill="#ff4f00"/><circle cx="271.1" cy="242.9" fill="#91ff6e"/><circle cx="332.1" cy="240.6" fill="#ffae00"/><circle cx="314.8" cy="241.0" fill="#fffd00"/><circle cx="327.5" cy="235.9" fill="#ff9f00"/><circle cx="315.1" cy="235.9" fill="#6cff93"/><circle cx="331.4" cy="236.9" fill="#ffb800"/><circle cx="322.4" cy="236.4" fill="#baff45"/><circle cx="312.2" cy="236.7" fill="#7eff81"/><circle cx="272.9" cy="247.6" fill="#50ffaf"/><circle cx="318.9" cy="235.0" fill="#ff7b00"/><circle cx="278.8" cy="244.4" fill="#ff8e00"/><circle cx="299.9" cy="234.1" fill="#ffad00"/><circle cx="313.0" cy="229.5" fill="#fff100"/><circle cx="275.0" cy="250.3" fill="#12ffed"/><circle cx="321.6" cy="240.4" fill="#ff1d00"/><circle cx="328.0" cy="239.7" fill="#ff0400"/><circle cx="307.5" cy="239.9" fill="#4dffb2"/><circle cx="313.3" cy="234.1" fill="#fff300"/><circle cx="316.7" cy="241.2" fill="#ffc700"/><circle cx="270.8" cy="246.5" fill="#02fffd"/><circle cx="267.2" cy="250.5" fill="#efff10"/><circle cx="270.0" cy="240.4" fill="#7eff81"/><circle cx="301.9" cy="234.9" fill="#ffa100"/><circle cx="298.3" cy="240.0" fill="#e7ff18"/><circle cx="272.7" cy="249.5" fill="#2cffd3"/><circle cx="276.0" cy="247.0" fill="#13ffec"/><circle cx="295.3" cy="235.0" fill="#7dff82"/><circle cx="266.3" cy="247.8" fill="#ffec00"/><circle cx="325.3" cy="240.1" fill="#ffab00"/><circle cx="304.2" cy="236.1" fill="#ff7700"/><circle cx="334.9" cy="220.7" fill="#2affd5"/><circle cx="357.6" cy="233.9" fill="#fff000"/><circle cx="351.7" cy="219.6" fill="#48ffb7"/><circle cx="348.1" cy="219.1" fill="#c7ff38"/><circle cx="366.8" cy="222.0" fill="#ff9000"/><circle cx="361.1" cy="221.0" fill="#52ffad"/><circle cx="342.6" cy="228.3" fill="#ff1100"/><circle cx="352.1" cy="232.6" fill="#ff2f00"/><circle cx="367.3" cy="225.6" fill="#fffc00"/><circle cx="323.5" cy="223.9" fill="#97ff68"/><circle cx="358.1" cy="221.7" fill="#feff01"/><circle cx="375.4" cy="238.4" fill="#ff6800"/><circle cx="341.9" cy="226.0" fill="#ffbc00"/><circle cx="333.4" cy="219.6" fill="#00d3ff"/><circle cx="374.6" cy="225.2" fill="#00dbff"/><circle cx="340.0" cy="235.5" fill="#a90000"/><circle cx="344.5" cy="224.9" fill="#43ffbc"/><circle cx="340.4" cy="239.0" fill="#f60000"/><circle cx="363.1" cy="228.5" fill="#ff1e00"/><circle cx="372.6" cy="224.8" fill="#00dfff"/><circle cx="344.4" cy="231.8" fill="#ae0000"/><circle cx="358.5" cy="229.1" fill="#c40000"/><circle cx="340.6" cy="228.0" fill="#a90000"/><circle cx="323.4" cy="229.5" fill="#ff7f00"/><circle cx="353.5" cy="234.7" fill="#ff3d00"/><circle cx="338.3" cy="222.2" fill="#ff6400"/><circle cx="370.7" cy="227.3" fill="#8eff71"/><circle cx="347.4" cy="234.6" fill="#ff7c00"/><circle cx="333.4" cy="232.2" fill="#ab0000"/><circle cx="327.5" cy="228.7" fill="#ff3a00"/><circle cx="324.9" cy="220.7" fill="#b5ff4a"/><circle cx="359.3" cy="230.7" fill="#f50000"/><circle cx="337.0" cy="225.9" fill="#ff8700"/><circle cx="325.8" cy="224.7" fill="#66ff99"/><circle cx="338.0" cy="238.0" fill="#b90000"/><circle cx="373.1" cy="235.5" fill="#ff8800"/><circle cx="356.7" cy="230.7" fill="#ff1300"/><circle cx="378.7" cy="231.4" fill="#ffd200"/><circle cx="341.9" cy="232.3" fill="#f20000"/><circle cx="346.1" cy="227.3" fill="#bd0000"/><circle cx="338.3" cy="230.6" fill="#ff2e00"/><circle cx="372.6" cy="228.6" fill="#ff4900"/><circle cx="357.2" cy="225.6" fill="#e50000"/><circle cx="372.3" cy="232.4" fill="#ffd100"/><circle cx="343.4" cy="234.6" fill="#ff0200"/><circle cx="366.4" cy="228.9" fill="#ff7f00"/><circle cx="329.3" cy="224.4" fill="#d8ff27"/><circle cx="332.2" cy="229.1" fill="#a90000"/><circle cx="348.1" cy="221.3" fill="#23ffdc"/><circle cx="350.6" cy="228.7" fill="#d40000"/><circle cx="344.9" cy="219.1" fill="#95ff6a"/><circle cx="348.8" cy="232.7" fill="#ff4000"/><circle cx="334.0" cy="226.1" fill="#6aff95"/><circle cx="354.3" cy="221.1" fill="#5effa1"/><circle cx="329.2" cy="230.6" fill="#ff0600"/><circle cx="368.2" cy="231.8" fill="#caff35"/><circle cx="377.1" cy="235.0" fill="#ff7100"/><circle cx="376.3" cy="229.4" fill="#ff9900"/><circle cx="351.2" cy="235.6" fill="#ffae00"/><circle cx="327.3" cy="222.1" fill="#e6ff19"/><circle cx="364.0" cy="230.6" fill="#ff5e00"/><circle cx="359.5" cy="225.5" fill="#bd0000"/><circle cx="364.5" cy="225.9" fill="#c0ff3f"/><circle cx="335.0" cy="228.5" fill="#f50000"/><circle cx="376.7" cy="230.8" fill="#08fff7"/><circle cx="354.4" cy="228.4" fill="#ff1000"/><circle cx="320.5" cy="221.3" fill="#00009e"/><circle cx="339.0" cy="202.4" fill="#0016ff"/><circle cx="319.1" cy="205.5" fill="#25ffda"/><circle cx="317.7" cy="207.5" fill="#00cdff"/><circle cx="341.6" cy="204.4" fill="#000eff"/><circle cx="327.6" cy="202.7" fill="#00c4ff"/><circle cx="338.7" cy="205.6" fill="#0024ff"/><circle cx="328.7" cy="207.7" fill="#00d0ff"/><circle cx="325.2" cy="208.0" fill="#13ffec"/><circle cx="301.9" cy="209.4" fill="#0097ff"/><circle cx="335.4" cy="209.0" fill="#00a4ff"/><circle cx="345.1" cy="204.4" fill="#0000cc"/><circle cx="331.9" cy="202.7" fill="#007bff"/><circle cx="315.1" cy="204.1" fill="#008bff"/><circle cx="329.5" cy="204.2" fill="#00aeff"/><circle cx="298.6" cy="211.1" fill="#00ecff"/><circle cx="333.1" cy="206.1" fill="#0071ff"/><circle cx="322.6" cy="204.8" fill="#38ffc7"/><circle cx="309.0" cy="209.3" fill="#17ffe8"/><circle cx="297.1" cy="209.6" fill="#00a3ff"/><circle cx="325.6" cy="205.3" fill="#06fff9"/><circle cx="312.5" cy="208.8" fill="#00c4ff"/><circle cx="309.9" cy="205.6" fill="#00ddff"/><circle cx="304.2" cy="209.0" fill="#23ffdc"/><circle cx="335.2" cy="202.0" fill="#000bff"/><circle cx="320.0" cy="208.5" fill="#00deff"/><circle cx="365.3" cy="249.9" fill="#c90000"/><circle cx="327.5" cy="258.1" fill="#94ff6b"/><circle cx="330.0" cy="250.6" fill="#ff1800"/><circle cx="373.5" cy="271.8" fill="#ffe900"/><circle cx="380.9" cy="271.1" fill="#cfff30"/><circle cx="350.0" cy="257.9" fill="#ff1300"/><circle cx="371.8" cy="268.3" fill="#eaff15"/><circle cx="376.1" cy="276.4" fill="#1bffe4"/><circle cx="335.6" cy="254.8" fill="#ff3e00"/><circle cx="357.2" cy="267.0" fill="#00f3ff"/><circle cx="363.9" cy="264.0" fill="#ffee00"/><circle cx="368.6" cy="260.9" fill="#d10000"/><circle cx="332.1" cy="250.0" fill="#b80000"/><circle cx="366.2" cy="264.5" fill="#b3ff4c"/><circle cx="383.7" cy="271.6" fill="#00b5ff"/><circle cx="374.7" cy="262.4" fill="#ff7500"/><circle cx="380.3" cy="264.0" fill="#ffeb00"/><circle cx="360.0" cy="252.6" fill="#d30000"/><circle cx="375.5" cy="273.2" fill="#e0ff1f"/><circle cx="344.6" cy="256.2" fill="#ff0900"/><circle cx="352.4" cy="251.9" fill="#a90000"/><circle cx="366.3" cy="252.1" fill="#8e0000"/><circle cx="373.3" cy="266.2" fill="#ffdb00"/><circle cx="338.1" cy="252.0" fill="#bd0000"/><circle cx="330.6" cy="256.0" fill="#ddff22"/><circle cx="381.3" cy="267.6" fill="#6cff93"/><circle cx="371.6" cy="256.7" fill="#8a0000"/><circle cx="356.7" cy="270.6" fill="#0097ff"/><circle cx="334.3" cy="251.7" fill="#f10000"/><circle cx="351.5" cy="260.9" fill="#72ff8d"/><circle cx="371.5" cy="275.1" fill="#aaff55"/><circle cx="378.6" cy="274.4" fill="#ff8100"/><circle cx="356.7" cy="266.0" fill="#37ffc8"/><circle cx="330.4" cy="258.8" fill="#ffff00"/><circle cx="369.3" cy="259.2" fill="#e20000"/><circle cx="378.7" cy="280.0" fill="#ffd600"/><circle cx="338.5" cy="258.2" fill="#ff4100"/><circle cx="368.0" cy="255.9" fill="#a20000"/><circle cx="364.9" cy="267.8" fill="#ff6300"/><circle cx="371.8" cy="261.7" fill="#ff7600"/><circle cx="353.5" cy="258.7" fill="#ff9b00"/><circle cx="330.4" cy="253.5" fill="#ff8400"/><circle cx="353.5" cy="268.2" fill="#00baff"/><circle cx="367.4" cy="268.9" fill="#29ffd6"/><circle cx="334.6" cy="259.5" fill="#9fff60"/><circle cx="377.0" cy="264.9" fill="#ff2100"/><circle cx="381.9" cy="279.2" fill="#82ff7d"/><circle cx="363.9" cy="258.6" fill="#c00000"/><circle cx="381.6" cy="273.7" fill="#48ffb7"/><circle cx="358.9" cy="262.8" fill="#92ff6d"/><circle cx="376.4" cy="279.3" fill="#00f6ff"/><circle cx="351.6" cy="266.1" fill="#00b1ff"/><circle cx="376.1" cy="267.2" fill="#ffe600"/><circle cx="334.3" cy="262.6" fill="#f8ff07"/><circle cx="326.1" cy="256.8" fill="#e4ff1b"/><circle cx="359.0" cy="259.7" fill="#a2ff5d"/><circle cx="340.8" cy="259.5" fill="#ffd800"/><circle cx="385.6" cy="275.3" fill="#77ff88"/><circle cx="365.2" cy="260.9" fill="#ff9d00"/><circle cx="373.8" cy="258.9" fill="#ff3500"/><circle cx="380.9" cy="278.0" fill="#a8ff57"/><circle cx="354.3" cy="263.1" fill="#c5ff3a"/><circle cx="360.3" cy="261.2" fill="#f1ff0e"/><circle cx="340.8" cy="251.8" fill="#ff6e00"/><circle cx="335.7" cy="260.9" fill="#cdff32"/><circle cx="354.7" cy="256.0" fill="#ff6300"/><circle cx="370.7" cy="254.1" fill="#c30000"/><circle cx="322.7" cy="256.0" fill="#8bff74"/><circle cx="361.8" cy="267.5" fill="#fff900"/><circle cx="377.1" cy="271.1" fill="#ffbb00"/><circle cx="377.6" cy="268.7" fill="#ff9300"/><circle cx="347.6" cy="255.7" fill="#b20000"/><circle cx="348.7" cy="253.4" fill="#ff2300"/><circle cx="368.3" cy="250.8" fill="#b50000"/><circle cx="367.3" cy="259.0" fill="#a60000"/><circle cx="334.1" cy="255.3" fill="#fc0000"/><circle cx="357.3" cy="255.1" fill="#ff3c00"/><circle cx="359.3" cy="272.0" fill="#07fff8"/><circle cx="350.7" cy="267.9" fill="#27ffd8"/><circle cx="358.9" cy="264.9" fill="#d9ff26"/><circle cx="364.2" cy="253.4" fill="#d00000"/><circle cx="340.7" cy="255.0" fill="#ff2500"/><circle cx="340.3" cy="262.3" fill="#bfff40"/><circle cx="346.6" cy="261.0" fill="#48ffb7"/><circle cx="344.5" cy="261.3" fill="#ffc700"/><circle cx="323.5" cy="253.6" fill="#5dffa2"/><circle cx="363.6" cy="255.9" fill="#d30000"/><circle cx="367.4" cy="271.8" fill="#009aff"/><circle cx="346.7" cy="253.9" fill="#f00000"/><circle cx="355.7" cy="258.9" fill="#3fffc0"/><circle cx="327.5" cy="251.8" fill="#24ffdb"/><circle cx="351.8" cy="255.1" fill="#ffa500"/><circle cx="362.0" cy="256.9" fill="#c30000"/><circle cx="370.9" cy="265.2" fill="#ffae00"/><circle cx="373.0" cy="276.3" fill="#00d5ff"/><circle cx="386.7" cy="280.2" fill="#09fff6"/><circle cx="355.8" cy="253.7" fill="#ff4600"/><circle cx="323.9" cy="259.0" fill="#7cff83"/><circle cx="346.4" cy="258.1" fill="#ff3400"/><circle cx="370.0" cy="272.3" fill="#e3ff1c"/><circle cx="384.7" cy="278.4" fill="#46ffb9"/></g><g transform="translate(-196.50,-96.80) scale(0.5)" fill="none" stroke-width="9.4" stroke-linecap="round"><path stroke="#000099" d="M599 542h0M548 559h0M603 571h0M540 574h0M585 573h0M491 579h0M496 578h0M500 578h0M538 578h0M541 577h0M620 577h0M541 582h0M495 587h0M511 587h0M517 586h0M596 592h0M605 596h0M538 599h0M585 600h0M597 603h0"/><path stroke="#0000b2" d="M554 533h0M504 537h0M511 537h0M592 537h0M508 542h0M511 541h0M591 541h0M595 541h0M603 542h0M598 545h0M591 549h0M593 554h0M602 553h0M605 553h0M610 555h0M517 559h0M522 558h0M527 559h0M530 558h0M534 556h0M538 557h0M545 558h0M554 558h0M571 557h0M577 557h0M585 557h0M591 558h0M515 563h0M520 563h0M522 561h0M538 562h0M543 561h0M571 561h0M582 562h0M588 563h0M611 561h0M489 567h0M516 566h0M539 567h0M544 565h0M554 567h0M557 565h0M562 567h0M568 565h0M573 567h0M577 566h0M585 566h0M603 565h0M610 566h0M613 565h0M619 566h0M621 567h0M630 566h0M486 569h0M492 571h0M495 569h0M533 571h0M537 571h0M542 570h0M546 569h0M551 569h0M557 570h0M560 569h0M569 571h0M575 570h0M580 571h0M583 569h0M593 571h0M598 569h0M607 571h0M612 569h0M617 570h0M625 569h0M628 569h0M490 575h0M493 575h0M498 574h0M502 574h0M516 575h0M520 573h0M527 574h0M531 574h0M534 574h0M544 574h0M550 575h0M555 573h0M559 575h0M562 575h0M568 575h0M572 573h0M575 573h0M581 575h0M594 574h0M603 573h0M608 573h0M617 574h0M626 574h0M631 574h0M635 575h0M488 577h0M509 580h0M514 578h0M523 578h0M529 580h0M533 577h0M548 577h0M552 578h0M556 579h0M563 577h0M571 579h0M574 579h0M580 577h0M582 577h0M606 578h0M611 579h0M615 579h0M626 577h0M629 577h0M490 582h0M494 584h0M497 583h0M504 582h0M512 581h0M517 582h0M526 583h0M531 581h0M535 582h0M543 582h0M548 583h0M566 584h0M572 581h0M578 581h0M604 581h0M607 583h0M614 583h0M617 582h0M649 583h0M492 587h0M501 586h0M506 587h0M514 587h0M522 586h0M536 586h0M541 585h0M557 587h0M561 586h0M566 588h0M570 586h0M579 588h0M603 588h0M605 586h0M639 586h0M490 592h0M492 591h0M498 592h0M504 591h0M513 591h0M516 592h0M522 590h0M541 590h0M550 592h0M563 591h0M581 590h0M598 590h0M605 591h0M610 591h0M612 590h0M632 591h0M641 591h0M491 595h0M494 594h0M500 594h0M504 594h0M510 595h0M513 595h0M519 596h0M531 596h0M537 596h0M543 595h0M564 595h0M570 596h0M593 595h0M596 594h0M602 594h0M612 596h0M634 594h0M498 598h0M508 600h0M513 598h0M521 599h0M526 598h0M531 598h0M535 600h0M545 598h0M549 599h0M553 600h0M558 599h0M571 599h0M580 598h0M590 600h0M594 598h0M600 599h0M604 598h0M693 599h0M701 598h0M496 603h0M501 602h0M514 604h0M520 604h0M531 604h0M537 604h0M546 602h0M552 603h0M565 604h0M578 604h0M584 603h0M587 602h0M593 603h0M601 602h0M607 604h0M610 605h0M616 602h0M621 604h0M626 603h0M629 605h0M648 604h0M657 604h0M671 604h0M686 604h0M688 605h0M521 608h0M527 608h0M531 608h0M539 607h0M544 608h0M548 607h0M572 609h0M577 608h0M585 607h0M591 607h0M595 607h0M600 608h0M613 606h0M621 606h0M632 608h0M635 607h0M651 607h0M668 607h0M673 607h0M564 612h0M569 612h0M574 611h0M603 611h0M612 612h0M616 611h0M630 610h0M648 611h0M539 617h0M545 617h0M550 615h0M554 614h0M651 615h0M654 616h0M665 617h0M668 617h0M638 620h0M643 620h0M648 620h0M653 619h0M660 620h0M666 621h0M672 620h0M674 620h0M522 623h0M632 624h0M636 623h0"/><path stroke="#0000cc" d="M596 516h0M572 525h0M581 526h0M584 525h0M595 525h0M601 523h0M605 524h0M557 529h0M562 529h0M565 529h0M570 528h0M584 529h0M598 530h0M615 529h0M548 532h0M558 532h0M562 532h0M567 532h0M580 534h0M586 533h0M600 533h0M604 533h0M607 533h0M612 532h0M618 534h0M499 537h0M513 536h0M545 537h0M552 537h0M556 537h0M575 538h0M579 538h0M584 537h0M588 536h0M596 537h0M602 537h0M607 538h0M610 538h0M616 536h0M498 540h0M504 541h0M521 540h0M525 542h0M529 541h0M535 541h0M548 540h0M553 540h0M568 542h0M573 540h0M576 542h0M587 542h0M608 540h0M500 546h0M505 546h0M514 545h0M519 546h0M524 545h0M529 546h0M534 544h0M543 545h0M547 544h0M552 545h0M555 546h0M561 546h0M587 546h0M591 547h0M601 545h0M606 545h0M610 546h0M489 549h0M507 550h0M521 551h0M526 550h0M530 548h0M534 549h0M540 550h0M544 550h0M548 549h0M552 551h0M576 551h0M580 550h0M585 550h0M594 549h0M601 550h0M605 551h0M609 549h0M613 549h0M617 551h0M488 555h0M492 554h0M505 553h0M508 553h0M516 553h0M519 553h0M523 554h0M527 554h0M532 554h0M538 555h0M542 553h0M552 553h0M556 552h0M561 553h0M564 555h0M570 554h0M574 554h0M578 554h0M582 555h0M587 554h0M597 553h0M616 555h0M620 555h0M629 553h0M485 559h0M488 557h0M503 558h0M507 558h0M511 557h0M558 556h0M563 558h0M568 558h0M581 558h0M593 557h0M600 558h0M603 558h0M609 559h0M613 558h0M618 557h0M623 557h0M627 558h0M482 561h0M487 561h0M490 561h0M496 562h0M502 561h0M511 562h0M528 562h0M534 560h0M546 562h0M551 563h0M555 561h0M559 560h0M566 561h0M575 562h0M578 562h0M591 561h0M598 562h0M601 562h0M605 562h0M614 562h0M621 561h0M625 562h0M484 567h0M495 565h0M498 565h0M501 567h0M507 566h0M512 567h0M521 566h0M527 565h0M529 565h0M535 567h0M549 565h0M582 567h0M590 565h0M595 567h0M599 566h0M628 565h0M636 567h0M500 572h0M506 569h0M511 569h0M518 571h0M528 569h0M565 571h0M588 569h0M621 570h0M634 570h0M638 571h0M647 571h0M507 575h0M511 574h0M589 576h0M599 574h0M613 575h0M621 575h0M642 573h0M505 578h0M518 579h0M560 579h0M589 579h0M592 578h0M602 577h0M633 578h0M638 578h0M647 577h0M651 578h0M506 583h0M520 581h0M554 581h0M557 583h0M564 582h0M582 583h0M585 584h0M591 584h0M595 584h0M600 584h0M622 583h0M627 582h0M631 583h0M635 582h0M640 582h0M644 584h0M654 583h0M532 586h0M547 586h0M552 586h0M575 587h0M583 588h0M587 586h0M594 586h0M598 586h0M609 588h0M615 587h0M619 588h0M629 587h0M634 585h0M642 587h0M647 588h0M652 585h0M658 587h0M508 590h0M525 591h0M531 590h0M534 592h0M543 591h0M553 590h0M558 590h0M567 591h0M571 590h0M577 590h0M586 591h0M589 591h0M619 590h0M621 592h0M628 591h0M637 592h0M523 595h0M528 594h0M546 595h0M550 596h0M555 595h0M560 594h0M574 595h0M580 596h0M582 594h0M589 595h0M621 596h0M624 595h0M629 596h0M642 596h0M662 594h0M675 596h0M690 595h0M695 596h0M699 594h0M704 594h0M708 596h0M494 599h0M503 598h0M517 600h0M562 600h0M567 599h0M576 598h0M608 600h0M613 600h0M617 600h0M621 599h0M626 598h0M640 600h0M644 599h0M649 598h0M656 598h0M658 598h0M672 600h0M679 599h0M683 598h0M687 598h0M696 600h0M705 600h0M709 598h0M713 599h0M506 604h0M523 605h0M527 603h0M541 603h0M555 604h0M561 604h0M569 603h0M574 603h0M635 602h0M637 602h0M643 602h0M652 602h0M667 604h0M675 603h0M679 602h0M694 602h0M698 604h0M703 604h0M706 603h0M495 607h0M497 607h0M504 607h0M507 607h0M512 607h0M516 608h0M534 607h0M553 608h0M559 608h0M563 609h0M566 608h0M581 608h0M603 609h0M609 608h0M617 607h0M628 608h0M640 609h0M646 607h0M656 606h0M660 606h0M663 608h0M678 608h0M681 606h0M687 607h0M693 606h0M695 608h0M701 607h0M704 607h0M509 611h0M513 612h0M520 611h0M524 611h0M534 611h0M538 612h0M542 611h0M546 611h0M551 612h0M556 612h0M559 612h0M579 613h0M582 611h0M588 610h0M591 611h0M596 613h0M606 612h0M621 611h0M625 613h0M634 613h0M638 610h0M644 612h0M653 610h0M657 610h0M670 611h0M675 613h0M683 610h0M688 611h0M692 610h0M713 611h0M497 616h0M516 617h0M522 615h0M535 616h0M559 617h0M561 615h0M568 617h0M572 615h0M577 615h0M594 615h0M600 617h0M607 617h0M612 615h0M618 617h0M622 615h0M627 615h0M631 615h0M637 615h0M640 615h0M646 617h0M658 616h0M672 615h0M677 616h0M682 615h0M686 617h0M501 621h0M513 621h0M518 621h0M523 619h0M527 619h0M536 620h0M547 620h0M550 621h0M570 619h0M593 621h0M597 621h0M602 621h0M607 620h0M611 620h0M624 620h0M630 620h0M633 620h0M657 621h0M679 619h0M684 620h0M689 619h0M693 619h0M508 623h0M511 624h0M527 623h0M531 623h0M550 623h0M586 624h0M604 623h0M644 624h0M650 623h0M659 624h0M664 624h0M678 623h0"/><path stroke="#0000e6" d="M592 513h0M559 516h0M562 516h0M566 518h0M576 517h0M586 517h0M546 521h0M552 520h0M561 521h0M564 522h0M569 522h0M574 519h0M580 521h0M584 520h0M607 520h0M548 524h0M562 526h0M566 526h0M576 526h0M589 524h0M609 524h0M612 523h0M542 528h0M545 528h0M552 529h0M574 530h0M578 530h0M588 529h0M593 528h0M601 528h0M605 528h0M610 528h0M503 532h0M509 533h0M522 534h0M544 532h0M573 532h0M577 533h0M590 532h0M595 532h0M621 533h0M495 538h0M520 537h0M524 538h0M532 538h0M538 536h0M542 537h0M561 536h0M564 537h0M568 536h0M619 537h0M495 540h0M516 541h0M540 542h0M545 541h0M558 540h0M563 542h0M581 541h0M613 541h0M486 545h0M491 545h0M496 544h0M510 546h0M538 545h0M566 545h0M570 546h0M573 546h0M578 545h0M583 545h0M615 547h0M478 550h0M484 550h0M495 549h0M498 549h0M503 549h0M511 549h0M516 551h0M558 551h0M564 548h0M567 549h0M570 551h0M621 550h0M627 551h0M630 550h0M481 554h0M497 555h0M499 553h0M546 553h0M624 553h0M635 552h0M494 559h0M498 558h0M631 557h0M505 562h0M515 569h0M523 569h0M642 570h0M647 575h0M654 576h0M678 575h0M596 577h0M644 578h0M657 578h0M665 579h0M658 583h0M673 582h0M678 584h0M681 583h0M528 586h0M626 586h0M661 585h0M667 586h0M671 586h0M675 587h0M681 588h0M647 592h0M651 590h0M655 592h0M659 591h0M663 590h0M669 591h0M674 592h0M679 590h0M682 591h0M695 592h0M615 596h0M640 594h0M648 596h0M652 594h0M656 595h0M666 595h0M670 595h0M681 596h0M684 594h0M633 598h0M635 600h0M663 599h0M669 600h0M510 604h0M663 602h0M712 604h0M711 607h0M501 611h0M505 611h0M529 613h0M662 611h0M666 613h0M679 611h0M698 613h0M701 612h0M708 612h0M717 610h0M501 615h0M508 615h0M511 617h0M526 615h0M531 615h0M580 615h0M587 616h0M589 617h0M604 614h0M690 614h0M695 615h0M701 617h0M706 615h0M709 614h0M506 621h0M509 620h0M533 619h0M555 621h0M561 621h0M564 620h0M575 621h0M580 620h0M582 621h0M589 619h0M616 619h0M619 620h0M697 619h0M704 620h0M708 619h0M543 624h0M559 624h0M571 623h0M576 623h0M589 623h0M612 623h0M682 624h0M687 624h0M691 623h0M695 623h0"/><path stroke="#0000ff" d="M582 513h0M554 517h0M570 516h0M580 515h0M590 515h0M600 516h0M543 521h0M555 520h0M588 521h0M594 519h0M598 521h0M600 520h0M612 520h0M615 520h0M545 526h0M554 524h0M557 524h0M537 530h0M620 529h0M493 532h0M513 533h0M518 534h0M527 532h0M531 533h0M534 532h0M538 534h0M492 536h0M527 536h0M624 538h0M486 542h0M488 541h0M618 542h0M628 541h0M637 541h0M476 546h0M482 544h0M620 545h0M626 545h0M629 545h0M633 546h0M636 548h0M639 553h0M647 555h0M637 558h0M646 558h0M649 557h0M659 557h0M629 561h0M635 562h0M637 563h0M642 561h0M647 561h0M640 566h0M645 565h0M649 566h0M653 570h0M658 571h0M650 573h0M658 575h0M664 573h0M672 575h0M681 574h0M661 578h0M670 579h0M676 577h0M679 579h0M684 578h0M664 584h0M669 584h0M687 583h0M685 588h0M689 588h0M695 586h0M686 590h0M690 590h0M700 590h0M705 592h0M709 590h0M713 595h0M718 600h0M718 603h0M715 606h0M720 608h0M713 616h0M718 617h0M542 621h0M712 621h0M701 623h0M709 624h0"/><path stroke="#0019ff" d="M565 512h0M574 511h0M580 512h0M548 516h0M603 515h0M538 521h0M539 524h0M618 524h0M518 529h0M525 529h0M528 529h0M533 530h0M476 534h0M490 533h0M498 532h0M626 533h0M478 538h0M483 536h0M486 537h0M629 537h0M633 537h0M640 538h0M474 540h0M479 541h0M623 541h0M633 542h0M641 542h0M638 544h0M642 550h0M644 551h0M642 555h0M640 557h0M655 557h0M651 561h0M655 565h0M661 570h0M667 575h0M688 575h0M689 580h0M693 579h0M692 582h0M700 587h0M702 585h0M715 592h0M717 594h0M720 603h0M725 603h0M722 607h0M722 612h0M735 612h0M725 615h0M718 620h0M720 620h0M725 619h0M715 623h0"/><path stroke="#0033ff" d="M547 514h0M560 512h0M569 512h0M588 511h0M492 521h0M529 521h0M521 525h0M536 526h0M622 523h0M490 530h0M496 530h0M505 529h0M508 528h0M513 529h0M626 530h0M630 529h0M472 532h0M481 533h0M484 532h0M633 534h0M647 541h0M644 545h0M651 553h0M658 555h0M657 563h0M660 565h0M663 565h0M669 567h0M666 569h0M670 571h0M714 574h0M698 579h0M696 581h0M700 582h0M706 583h0M709 582h0M708 586h0M712 587h0M719 591h0M721 595h0M725 599h0M727 598h0M731 602h0M734 602h0M728 607h0M733 608h0M726 611h0M731 610h0M739 612h0M729 616h0M733 616h0M732 621h0M719 624h0M728 623h0"/><path stroke="#004dff" d="M575 509h0M586 509h0M554 513h0M489 516h0M497 516h0M527 518h0M544 515h0M476 521h0M483 520h0M485 521h0M497 520h0M524 520h0M532 521h0M480 525h0M483 525h0M490 525h0M493 524h0M525 525h0M529 523h0M473 530h0M482 529h0M486 530h0M502 528h0M635 532h0M644 538h0M649 538h0M650 540h0M648 545h0M651 549h0M654 550h0M662 554h0M664 559h0M669 559h0M672 559h0M665 562h0M669 562h0M672 565h0M674 570h0M681 570h0M684 570h0M690 569h0M695 571h0M692 574h0M697 573h0M700 575h0M711 573h0M702 578h0M706 578h0M712 579h0M715 583h0M718 585h0M724 591h0M727 594h0M730 594h0M734 598h0M736 600h0M745 611h0M737 616h0M745 617h0M751 617h0M736 621h0M739 619h0M743 620h0M750 621h0M754 619h0M742 623h0M746 623h0M751 623h0"/><path stroke="#0066ff" d="M571 509h0M582 508h0M552 512h0M494 516h0M529 517h0M535 516h0M539 515h0M622 516h0M626 517h0M472 520h0M499 519h0M519 520h0M625 519h0M471 526h0M476 525h0M499 526h0M516 525h0M627 526h0M633 525h0M476 528h0M633 528h0M640 532h0M652 536h0M653 546h0M656 545h0M658 548h0M676 557h0M662 561h0M675 563h0M708 563h0M678 567h0M709 565h0M713 565h0M699 571h0M705 575h0M718 576h0M729 591h0M732 591h0M742 598h0M739 603h0M737 607h0M743 608h0M752 607h0M749 610h0M753 611h0M741 615h0M757 615h0"/><path stroke="#0080ff" d="M545 507h0M549 508h0M562 508h0M568 507h0M542 513h0M521 516h0M469 520h0M514 521h0M630 521h0M503 525h0M511 525h0M645 533h0M649 534h0M657 536h0M655 541h0M660 546h0M664 549h0M667 553h0M671 554h0M676 554h0M682 556h0M696 558h0M701 558h0M705 558h0M710 559h0M713 557h0M694 562h0M700 563h0M702 562h0M712 561h0M718 563h0M690 566h0M697 565h0M701 565h0M705 567h0M702 569h0M707 571h0M711 569h0M716 569h0M718 578h0M722 577h0M720 581h0M722 588h0M735 595h0M780 599h0M745 603h0M753 603h0M776 605h0M746 607h0M755 606h0M774 608h0M778 607h0M760 614h0M765 616h0M782 615h0M759 620h0M764 619h0M756 623h0"/><path stroke="#0099ff" d="M554 508h0M559 507h0M537 513h0M502 516h0M507 518h0M512 517h0M517 517h0M633 515h0M504 520h0M510 521h0M635 522h0M638 520h0M636 524h0M638 528h0M658 541h0M677 551h0M679 554h0M683 553h0M697 555h0M703 554h0M708 554h0M712 554h0M687 557h0M692 558h0M681 563h0M689 561h0M681 565h0M685 565h0M718 567h0M725 572h0M725 575h0M725 587h0M729 587h0M737 590h0M738 596h0M771 595h0M755 600h0M764 600h0M748 602h0M759 604h0M764 602h0M764 608h0M768 606h0M759 612h0M762 611h0M767 613h0M771 612h0M781 613h0M770 616h0M773 617h0M779 616h0M771 620h0M770 623h0"/><path stroke="#00b2ff" d="M523 513h0M529 512h0M531 512h0M626 513h0M633 513h0M637 516h0M507 524h0M662 537h0M665 544h0M672 545h0M675 546h0M668 548h0M690 553h0M694 553h0M715 553h0M719 558h0M684 563h0M720 562h0M722 566h0M722 569h0M728 574h0M723 581h0M733 584h0M737 582h0M734 587h0M745 588h0M742 592h0M744 594h0M764 595h0M766 595h0M776 594h0M747 598h0M751 599h0M762 600h0M771 599h0M773 599h0M767 605h0M771 603h0M761 607h0M777 610h0M767 620h0M776 620h0M782 621h0"/><path stroke="#00ccff" d="M540 507h0M628 512h0M639 512h0M641 515h0M643 529h0M655 533h0M664 540h0M668 541h0M673 540h0M708 546h0M673 548h0M683 549h0M688 550h0M696 551h0M709 549h0M715 550h0M723 558h0M725 561h0M731 569h0M726 579h0M729 578h0M734 578h0M729 581h0M741 581h0M749 587h0M757 587h0M747 590h0M750 590h0M755 592h0M750 594h0M752 594h0M757 594h0"/><path stroke="#00e5ff" d="M509 513h0M513 512h0M519 511h0M641 525h0M647 528h0M652 530h0M667 537h0M671 538h0M677 542h0M680 545h0M703 544h0M712 545h0M693 549h0M701 548h0M705 549h0M721 554h0M728 558h0M730 561h0M729 565h0M732 566h0M734 574h0M739 577h0M752 579h0M757 579h0M763 578h0M767 580h0M771 580h0M757 584h0M761 581h0M765 582h0M740 586h0M753 585h0M763 588h0M767 586h0M772 587h0M759 591h0M765 591h0M773 591h0"/><path stroke="#00ffff" d="M536 507h0M627 508h0M506 511h0M643 513h0M642 521h0M660 533h0M696 534h0M676 537h0M692 537h0M699 536h0M695 541h0M701 543h0M686 545h0M690 545h0M694 544h0M698 544h0M720 550h0M722 549h0M733 556h0M734 563h0M736 571h0M737 574h0M765 576h0M770 575h0M745 577h0M748 579h0M745 582h0M750 584h0M770 583h0M775 582h0M777 583h0M776 587h0M769 590h0"/><path stroke="#1affe5" d="M651 526h0M656 530h0M665 532h0M673 534h0M691 534h0M679 538h0M690 537h0M683 542h0M691 542h0M726 553h0M730 555h0M734 555h0M738 567h0M741 565h0M768 571h0M742 574h0M755 575h0M777 578h0"/><path stroke="#33ffcc" d="M521 508h0M669 533h0M678 533h0M685 538h0M687 542h0M734 549h0M737 558h0M739 570h0M771 570h0M775 569h0M750 575h0M761 573h0M774 573h0"/><path stroke="#4dffb2" d="M530 507h0M646 517h0M647 524h0M693 529h0M686 534h0M729 551h0M740 554h0M740 561h0M743 561h0M748 567h0M744 570h0M748 572h0M759 572h0M764 570h0M747 575h0"/><path stroke="#66ff99" d="M527 507h0M663 530h0M688 530h0M683 532h0M748 563h0M770 566h0M773 567h0M754 569h0"/><path stroke="#80ff80" d="M666 530h0M671 529h0M676 528h0M742 559h0M752 566h0"/><path stroke="#99ff66" d="M679 529h0M684 528h0M757 566h0M761 567h0"/><path stroke="#b3ff4c" d="M660 525h0"/></g><g transform="translate(-196.50,-96.80)"><circle cx="384.3" cy="275.7" r="3.6" fill="#0000e6"/><circle cx="262.2" cy="248.8" r="3.3" fill="#e50000"/></g></g>
<use href="#map"/>
</g>
<rect x="862.25" y="485.50" width="23.00" height="215.00" fill="url(#jet)" stroke="#262626" stroke-width="1"/>
<path d="M885.25 593.00h-2.3" stroke="#262626" stroke-width="1"/>
<text class="b c" x="893.4" y="493.9">100</text>
<text class="b c" x="893.4" y="601.4">50</text>
<text class="b c" x="893.4" y="708.9">0</text>
<text class="b x" y="730.8"><tspan x="561.0">SAT</tspan><tspan x="617.8">350</tspan><tspan x="673.1">hPa</tspan><tspan x="730.2">RH</tspan><tspan x="776.5">(Percent)</tspan></text>
<text class="b t" x="635.4" y="466.9">100</text>
<text class="b d" x="665.9" y="460.6" text-anchor="middle">°</text>
<text class="b t" x="673.5" y="466.9">W</text>
<text class="b t" x="704.5" y="466.9">90</text>
<text class="b d" x="726.0" y="460.6" text-anchor="middle">°</text>
<text class="b t" x="733.6" y="466.9">W</text>
<text class="b t" x="768.5" y="466.9">80</text>
<text class="b d" x="790.0" y="460.6" text-anchor="middle">°</text>
<text class="b t" x="797.6" y="466.9">W</text>
<text class="b t" x="832.1" y="466.9">70</text>
<text class="b d" x="853.6" y="460.6" text-anchor="middle">°</text>
<text class="b t" x="861.2" y="466.9">W</text>
<text class="b t" x="566.5" y="502.3">48</text>
<text class="b d" x="589.4" y="496.2" text-anchor="middle">°</text>
<text class="b t" x="595.5" y="502.3">N</text>
<text class="b t" x="566.5" y="521.2">46</text>
<text class="b d" x="589.4" y="515.1" text-anchor="middle">°</text>
<text class="b t" x="595.5" y="521.2">N</text>
<text class="b t" x="566.5" y="538.2">44</text>
<text class="b d" x="589.4" y="532.1" text-anchor="middle">°</text>
<text class="b t" x="595.5" y="538.2">N</text>
<text class="b t" x="566.5" y="556.7">42</text>
<text class="b d" x="589.4" y="550.6" text-anchor="middle">°</text>
<text class="b t" x="595.5" y="556.7">N</text>
<text class="b t" x="566.5" y="573.4">40</text>
<text class="b d" x="589.4" y="567.3" text-anchor="middle">°</text>
<text class="b t" x="595.5" y="573.4">N</text>
<text class="b t" x="566.5" y="588.4">38</text>
<text class="b d" x="589.4" y="582.3" text-anchor="middle">°</text>
<text class="b t" x="595.5" y="588.4">N</text>
<text class="b t" x="566.5" y="604.1">36</text>
<text class="b d" x="589.4" y="598.0" text-anchor="middle">°</text>
<text class="b t" x="595.5" y="604.1">N</text>
<text class="b t" x="566.5" y="619.7">34</text>
<text class="b d" x="589.4" y="613.6" text-anchor="middle">°</text>
<text class="b t" x="595.5" y="619.7">N</text>
<text class="b t" x="566.5" y="635.6">32</text>
<text class="b d" x="589.4" y="629.5" text-anchor="middle">°</text>
<text class="b t" x="595.5" y="635.6">N</text>
<text class="b t" x="566.5" y="650.6">30</text>
<text class="b d" x="589.4" y="644.5" text-anchor="middle">°</text>
<text class="b t" x="595.5" y="650.6">N</text>
<text class="b t" x="566.5" y="663.2">28</text>
<text class="b d" x="589.4" y="657.1" text-anchor="middle">°</text>
<text class="b t" x="595.5" y="663.2">N</text>
<text class="b t" x="566.5" y="677.1">26</text>
<text class="b d" x="589.4" y="671.0" text-anchor="middle">°</text>
<text class="b t" x="595.5" y="677.1">N</text>
<text class="b t" x="566.5" y="692.5">24</text>
<text class="b d" x="589.4" y="686.4" text-anchor="middle">°</text>
<text class="b t" x="595.5" y="692.5">N</text>
<text class="b t" x="566.5" y="704.4">22</text>
<text class="b d" x="589.4" y="698.3" text-anchor="middle">°</text>
<text class="b t" x="595.5" y="704.4">N</text>
<rect x="1037.90" y="485.90" width="234.50" height="214.50" fill="#fff" stroke="#262626" stroke-width="1"/>
<g transform="translate(1037.90,485.90) scale(1.00644,1.00894)">
<g clip-path="url(#cd)"><g class="D" transform="translate(-196.50,-96.80)"><circle cx="249.8" cy="246.3" fill="#ff7500"/><circle cx="252.2" cy="237.1" fill="#8aff75"/><circle cx="228.4" cy="231.9" fill="#1dffe2"/><circle cx="248.9" cy="255.0" fill="#7dff82"/><circle cx="233.4" cy="246.4" fill="#ffa900"/><circle cx="232.8" cy="251.8" fill="#e60000"/><circle cx="241.3" cy="239.5" fill="#ddff22"/><circle cx="248.3" cy="237.5" fill="#cfff30"/><circle cx="242.9" cy="237.8" fill="#d3ff2c"/><circle cx="247.2" cy="246.3" fill="#ffec00"/><circle cx="228.9" cy="242.9" fill="#b6ff49"/><circle cx="239.4" cy="232.3" fill="#34ffcb"/><circle cx="230.9" cy="243.9" fill="#deff21"/><circle cx="253.9" cy="256.5" fill="#0084ff"/><circle cx="246.4" cy="243.1" fill="#ff8300"/><circle cx="238.0" cy="234.1" fill="#18ffe7"/><circle cx="229.0" cy="240.2" fill="#b6ff49"/><circle cx="229.0" cy="235.8" fill="#4affb5"/><circle cx="234.7" cy="256.6" fill="#ffac00"/><circle cx="255.4" cy="246.8" fill="#64ff9b"/><circle cx="253.1" cy="250.2" fill="#76ff89"/><circle cx="231.2" cy="230.6" fill="#2affd5"/><circle cx="232.1" cy="250.6" fill="#ce0000"/><circle cx="251.6" cy="252.5" fill="#50ffaf"/><circle cx="241.2" cy="255.0" fill="#ddff22"/><circle cx="232.5" cy="241.2" fill="#31ffce"/><circle cx="234.7" cy="243.9" fill="#ff6700"/><circle cx="248.4" cy="234.8" fill="#72ff8d"/><circle cx="257.4" cy="253.9" fill="#31ffce"/><circle cx="239.8" cy="255.7" fill="#ffa400"/><circle cx="244.9" cy="250.4" fill="#efff10"/><circle cx="242.7" cy="243.9" fill="#ffad00"/><circle cx="236.2" cy="240.6" fill="#55ffaa"/><circle cx="234.1" cy="249.5" fill="#ff1f00"/><circle cx="233.8" cy="258.0" fill="#ffa700"/><circle cx="238.6" cy="250.1" fill="#ca0000"/><circle cx="240.0" cy="251.9" fill="#ffb600"/><circle cx="238.4" cy="243.6" fill="#ffc400"/><circle cx="244.7" cy="246.1" fill="#ffff00"/><circle cx="241.6" cy="231.0" fill="#33ffcc"/><circle cx="244.5" cy="234.3" fill="#2dffd2"/><circle cx="245.0" cy="237.8" fill="#94ff6b"/><circle cx="247.9" cy="253.4" fill="#9bff64"/><circle cx="249.9" cy="234.2" fill="#1cffe3"/><circle cx="253.4" cy="243.7" fill="#ff3900"/><circle cx="240.3" cy="228.8" fill="#4dffb2"/><circle cx="233.3" cy="233.8" fill="#5bffa4"/><circle cx="231.8" cy="238.4" fill="#3affc5"/><circle cx="240.5" cy="246.8" fill="#a40000"/><circle cx="246.8" cy="231.4" fill="#b1ff4e"/><circle cx="237.4" cy="229.0" fill="#23ffdc"/><circle cx="250.3" cy="249.4" fill="#feff01"/><circle cx="255.5" cy="252.1" fill="#00f5ff"/><circle cx="234.6" cy="237.3" fill="#adff52"/><circle cx="244.8" cy="240.1" fill="#98ff67"/><circle cx="240.9" cy="234.0" fill="#67ff98"/><circle cx="246.5" cy="256.3" fill="#94ff6b"/><circle cx="248.3" cy="240.2" fill="#92ff6d"/><circle cx="234.7" cy="230.9" fill="#b2ff4d"/><circle cx="255.8" cy="251.0" fill="#23ffdc"/><circle cx="250.1" cy="244.5" fill="#ff6c00"/><circle cx="251.8" cy="239.8" fill="#ffd800"/><circle cx="244.0" cy="253.4" fill="#f1ff0e"/><circle cx="236.7" cy="246.9" fill="#f70000"/><circle cx="237.7" cy="258.2" fill="#ff9700"/><circle cx="228.3" cy="236.7" fill="#9bff64"/><circle cx="239.0" cy="238.0" fill="#b3ff4c"/><circle cx="241.5" cy="250.8" fill="#f10000"/><circle cx="237.6" cy="253.5" fill="#ff5c00"/><circle cx="261.8" cy="229.5" fill="#e3ff1c"/><circle cx="261.7" cy="227.3" fill="#dbff24"/><circle cx="266.4" cy="223.5" fill="#daff25"/><circle cx="260.2" cy="224.1" fill="#ddff22"/><circle cx="259.2" cy="228.6" fill="#c9ff36"/><circle cx="258.1" cy="227.2" fill="#ffcf00"/><circle cx="265.4" cy="225.8" fill="#ffd600"/><circle cx="268.1" cy="226.7" fill="#ffb800"/><circle cx="255.5" cy="230.3" fill="#00a4ff"/><circle cx="262.3" cy="224.1" fill="#ffae00"/><circle cx="301.6" cy="236.9" fill="#00dbff"/><circle cx="316.6" cy="240.1" fill="#00daff"/><circle cx="271.0" cy="243.5" fill="#0047ff"/><circle cx="314.4" cy="240.2" fill="#00d5ff"/><circle cx="335.5" cy="243.8" fill="#00d1ff"/><circle cx="287.2" cy="240.3" fill="#005fff"/><circle cx="311.9" cy="231.2" fill="#10ffef"/><circle cx="270.5" cy="249.4" fill="#00f8ff"/><circle cx="321.2" cy="239.2" fill="#00e2ff"/><circle cx="296.4" cy="237.1" fill="#0069ff"/><circle cx="328.3" cy="240.8" fill="#18ffe7"/><circle cx="298.2" cy="232.9" fill="#00d9ff"/><circle cx="312.5" cy="237.9" fill="#0098ff"/><circle cx="266.0" cy="247.4" fill="#71ff8e"/><circle cx="281.8" cy="243.5" fill="#0047ff"/><circle cx="296.6" cy="233.2" fill="#00c1ff"/><circle cx="315.0" cy="236.0" fill="#0074ff"/><circle cx="285.6" cy="232.8" fill="#0055ff"/><circle cx="315.0" cy="243.2" fill="#0046ff"/><circle cx="323.1" cy="244.6" fill="#00a3ff"/><circle cx="330.5" cy="237.1" fill="#00bfff"/><circle cx="294.8" cy="242.5" fill="#0097ff"/><circle cx="286.3" cy="242.5" fill="#0034ff"/><circle cx="273.5" cy="246.7" fill="#00cdff"/><circle cx="276.5" cy="246.1" fill="#00daff"/><circle cx="314.3" cy="235.0" fill="#00beff"/><circle cx="317.6" cy="234.5" fill="#00aaff"/><circle cx="323.0" cy="237.3" fill="#00b9ff"/><circle cx="333.5" cy="240.3" fill="#00b8ff"/><circle cx="290.8" cy="236.3" fill="#00dfff"/><circle cx="268.8" cy="247.9" fill="#00f9ff"/><circle cx="285.8" cy="236.9" fill="#0079ff"/><circle cx="299.7" cy="240.8" fill="#00dfff"/><circle cx="324.3" cy="240.4" fill="#00e5ff"/><circle cx="308.0" cy="236.4" fill="#0098ff"/><circle cx="310.3" cy="240.5" fill="#00b4ff"/><circle cx="289.3" cy="242.8" fill="#009bff"/><circle cx="280.0" cy="246.2" fill="#0005ff"/><circle cx="279.2" cy="242.5" fill="#00d9ff"/><circle cx="335.4" cy="240.5" fill="#00aaff"/><circle cx="292.3" cy="241.0" fill="#00cbff"/><circle cx="326.5" cy="243.8" fill="#13ffec"/><circle cx="331.3" cy="244.1" fill="#00aeff"/><circle cx="320.7" cy="236.5" fill="#00e3ff"/><circle cx="268.9" cy="243.9" fill="#2dffd2"/><circle cx="283.5" cy="240.2" fill="#00c0ff"/><circle cx="268.8" cy="249.3" fill="#12ffed"/><circle cx="309.3" cy="230.0" fill="#00edff"/><circle cx="310.1" cy="234.7" fill="#00cbff"/><circle cx="264.3" cy="249.7" fill="#18ffe7"/><circle cx="324.6" cy="235.0" fill="#008cff"/><circle cx="311.2" cy="243.0" fill="#00aeff"/><circle cx="288.6" cy="232.8" fill="#00aaff"/><circle cx="266.2" cy="252.1" fill="#50ffaf"/><circle cx="274.7" cy="244.0" fill="#009fff"/><circle cx="376.4" cy="225.3" fill="#0066ff"/><circle cx="374.9" cy="227.4" fill="#00b4ff"/><circle cx="378.5" cy="238.1" fill="#f9ff06"/><circle cx="360.5" cy="230.7" fill="#007bff"/><circle cx="331.3" cy="221.4" fill="#003bff"/><circle cx="379.6" cy="231.7" fill="#00bfff"/><circle cx="363.1" cy="231.6" fill="#0049ff"/><circle cx="369.8" cy="229.4" fill="#3cffc3"/><circle cx="350.0" cy="224.4" fill="#00ccff"/><circle cx="375.8" cy="238.5" fill="#ffed00"/><circle cx="348.2" cy="222.6" fill="#00cdff"/><circle cx="342.8" cy="235.9" fill="#005eff"/><circle cx="353.6" cy="220.9" fill="#59ffa6"/><circle cx="334.5" cy="225.0" fill="#0042ff"/><circle cx="369.1" cy="234.0" fill="#00dfff"/><circle cx="363.1" cy="234.3" fill="#00a3ff"/><circle cx="346.3" cy="231.6" fill="#006aff"/><circle cx="334.6" cy="228.0" fill="#0056ff"/><circle cx="340.4" cy="227.2" fill="#00b4ff"/><circle cx="361.2" cy="227.4" fill="#00bfff"/><circle cx="336.6" cy="224.6" fill="#00faff"/><circle cx="350.4" cy="235.6" fill="#0dfff2"/><circle cx="323.7" cy="222.6" fill="#0000d6"/><circle cx="331.1" cy="225.5" fill="#007fff"/><circle cx="376.8" cy="227.7" fill="#00e4ff"/><circle cx="358.9" cy="221.5" fill="#5dffa2"/><circle cx="365.9" cy="228.4" fill="#00abff"/><circle cx="342.2" cy="222.4" fill="#0063ff"/><circle cx="340.1" cy="234.5" fill="#0000d6"/><circle cx="353.2" cy="230.5" fill="#00f1ff"/><circle cx="353.9" cy="235.9" fill="#00edff"/><circle cx="360.9" cy="225.8" fill="#0081ff"/><circle cx="351.6" cy="228.7" fill="#00ceff"/><circle cx="365.0" cy="234.9" fill="#08fff7"/><circle cx="367.1" cy="225.2" fill="#00acff"/><circle cx="323.4" cy="224.4" fill="#0079ff"/><circle cx="361.3" cy="221.5" fill="#44ffbb"/><circle cx="348.0" cy="231.7" fill="#0099ff"/><circle cx="374.1" cy="235.0" fill="#5cffa3"/><circle cx="337.9" cy="230.9" fill="#0056ff"/><circle cx="340.4" cy="225.0" fill="#0036ff"/><circle cx="376.0" cy="231.2" fill="#00c0ff"/><circle cx="327.2" cy="227.6" fill="#0051ff"/><circle cx="359.5" cy="229.6" fill="#00b5ff"/><circle cx="370.8" cy="224.1" fill="#0040ff"/><circle cx="347.7" cy="234.8" fill="#0053ff"/><circle cx="367.2" cy="230.8" fill="#00d6ff"/><circle cx="356.4" cy="230.5" fill="#004cff"/><circle cx="326.2" cy="225.7" fill="#0061ff"/><circle cx="363.0" cy="225.7" fill="#00b4ff"/><circle cx="351.9" cy="225.7" fill="#006cff"/><circle cx="355.3" cy="228.5" fill="#0072ff"/><circle cx="344.9" cy="224.1" fill="#008dff"/><circle cx="341.7" cy="230.7" fill="#00beff"/><circle cx="377.6" cy="234.8" fill="#7cff83"/><circle cx="359.4" cy="235.4" fill="#00a9ff"/><circle cx="319.1" cy="204.2" fill="#bfff40"/><circle cx="324.5" cy="208.0" fill="#ffda00"/><circle cx="320.2" cy="209.5" fill="#ffbc00"/><circle cx="352.1" cy="251.9" fill="#0098ff"/><circle cx="346.1" cy="252.2" fill="#23ffdc"/><circle cx="316.7" cy="208.3" fill="#ebff14"/><circle cx="350.6" cy="254.4" fill="#00d6ff"/><circle cx="312.7" cy="207.9" fill="#f9ff06"/><circle cx="346.2" cy="254.3" fill="#0091ff"/><circle cx="321.5" cy="205.5" fill="#f0ff0f"/><circle cx="381.5" cy="269.2" fill="#01fffe"/><circle cx="365.8" cy="258.4" fill="#b2ff4d"/><circle cx="371.9" cy="262.7" fill="#48ffb7"/><circle cx="364.6" cy="261.1" fill="#d0ff2f"/><circle cx="377.7" cy="265.2" fill="#06fff9"/><circle cx="361.8" cy="252.3" fill="#fff000"/><circle cx="380.6" cy="271.0" fill="#00b0ff"/><circle cx="368.8" cy="267.4" fill="#00d1ff"/><circle cx="370.9" cy="265.0" fill="#00b6ff"/><circle cx="367.7" cy="266.2" fill="#00ecff"/><circle cx="371.3" cy="256.7" fill="#d9ff26"/><circle cx="372.9" cy="271.0" fill="#00e9ff"/><circle cx="375.6" cy="261.5" fill="#79ff86"/><circle cx="364.9" cy="256.5" fill="#f1ff0e"/><circle cx="379.2" cy="267.5" fill="#34ffcb"/><circle cx="372.7" cy="264.4" fill="#009aff"/><circle cx="368.1" cy="254.8" fill="#ff7b00"/><circle cx="364.8" cy="250.9" fill="#ff4f00"/><circle cx="382.1" cy="275.2" fill="#00d5ff"/><circle cx="371.0" cy="267.9" fill="#10ffef"/><circle cx="385.6" cy="274.4" fill="#000dff"/><circle cx="381.9" cy="279.9" fill="#57ffa8"/><circle cx="367.9" cy="262.5" fill="#ceff31"/><circle cx="370.6" cy="253.4" fill="#fff600"/><circle cx="381.2" cy="282.4" fill="#008cff"/><circle cx="373.0" cy="253.4" fill="#42ffbd"/><circle cx="378.1" cy="280.0" fill="#0017ff"/><circle cx="375.2" cy="279.2" fill="#00beff"/><circle cx="372.9" cy="278.1" fill="#0063ff"/><circle cx="370.9" cy="260.1" fill="#dcff23"/><circle cx="377.9" cy="271.2" fill="#10ffef"/><circle cx="383.9" cy="282.6" fill="#00fdff"/><circle cx="379.7" cy="274.5" fill="#00cdff"/><circle cx="366.4" cy="253.0" fill="#deff21"/><circle cx="370.7" cy="275.2" fill="#006eff"/><circle cx="378.1" cy="276.9" fill="#009fff"/><circle cx="379.6" cy="264.6" fill="#a3ff5c"/><circle cx="380.4" cy="277.6" fill="#005dff"/><circle cx="383.7" cy="276.8" fill="#00dcff"/><circle cx="374.3" cy="267.4" fill="#00c1ff"/><circle cx="384.4" cy="270.3" fill="#44ffbb"/><circle cx="386.4" cy="284.0" fill="#2bffd4"/><circle cx="369.6" cy="271.7" fill="#0098ff"/><circle cx="375.1" cy="274.6" fill="#00b5ff"/></g><g transform="translate(-196.50,-96.80) scale(0.5)" fill="none" stroke-width="9.4" stroke-linecap="round"><path stroke="#000099" d="M594 592h0"/><path stroke="#0000b2" d="M579 537h0M667 541h0M676 541h0M532 547h0M644 546h0M531 549h0M631 549h0M670 549h0M488 553h0M505 555h0M509 555h0M630 553h0M494 558h0M503 557h0M571 558h0M580 558h0M594 557h0M598 557h0M656 557h0M662 558h0M682 557h0M504 562h0M547 563h0M562 561h0M565 563h0M580 563h0M584 562h0M588 562h0M597 562h0M605 562h0M621 563h0M624 563h0M629 562h0M634 561h0M651 561h0M663 561h0M666 561h0M681 562h0M484 567h0M490 567h0M503 567h0M536 565h0M591 566h0M603 566h0M618 566h0M623 566h0M636 567h0M641 566h0M658 565h0M555 572h0M560 569h0M587 569h0M592 571h0M598 571h0M601 569h0M610 569h0M617 570h0M619 571h0M630 571h0M662 569h0M712 569h0M498 574h0M511 575h0M525 574h0M529 574h0M534 574h0M541 574h0M545 575h0M553 575h0M557 573h0M584 574h0M595 575h0M622 573h0M636 573h0M504 577h0M519 580h0M522 578h0M528 579h0M534 578h0M624 577h0M633 578h0M647 577h0M689 578h0M717 579h0M502 581h0M507 582h0M513 582h0M517 582h0M536 583h0M538 584h0M550 582h0M600 584h0M644 583h0M649 584h0M679 584h0M691 582h0M697 581h0M509 587h0M534 586h0M547 586h0M550 588h0M556 587h0M589 586h0M593 588h0M598 586h0M633 586h0M639 585h0M652 586h0M501 592h0M508 592h0M511 590h0M517 591h0M531 592h0M552 592h0M558 592h0M562 590h0M567 591h0M591 591h0M599 591h0M603 590h0M610 592h0M612 590h0M626 591h0M637 590h0M641 590h0M650 589h0M656 592h0M501 594h0M510 596h0M529 595h0M551 596h0M561 596h0M564 596h0M589 596h0M593 595h0M596 595h0M601 595h0M611 596h0M621 594h0M624 594h0M676 596h0M743 594h0M493 600h0M499 598h0M513 598h0M520 600h0M562 599h0M567 598h0M585 599h0M590 598h0M603 598h0M619 600h0M623 598h0M627 600h0M665 599h0M672 600h0M676 600h0M682 600h0M686 598h0M696 600h0M700 598h0M497 602h0M505 604h0M568 605h0M577 603h0M598 602h0M621 602h0M625 603h0M629 604h0M666 603h0M695 603h0M704 603h0M497 606h0M502 608h0M669 608h0M672 607h0M509 611h0M746 616h0M595 624h0"/><path stroke="#0000cc" d="M598 522h0M594 525h0M614 524h0M569 527h0M574 528h0M582 530h0M611 529h0M624 530h0M530 533h0M559 532h0M564 534h0M567 532h0M577 534h0M582 533h0M585 534h0M589 534h0M595 532h0M608 533h0M632 534h0M514 537h0M519 538h0M525 537h0M528 537h0M532 537h0M548 536h0M550 538h0M560 536h0M564 537h0M569 536h0M573 538h0M584 538h0M589 536h0M597 537h0M601 538h0M606 537h0M612 536h0M620 538h0M626 538h0M629 537h0M652 537h0M657 536h0M662 538h0M667 536h0M670 537h0M679 538h0M683 538h0M513 540h0M520 542h0M526 542h0M529 541h0M535 542h0M545 542h0M548 542h0M559 540h0M561 540h0M566 540h0M572 542h0M577 540h0M603 543h0M613 542h0M617 541h0M621 541h0M641 541h0M645 540h0M650 541h0M655 541h0M659 542h0M665 541h0M673 543h0M683 542h0M688 543h0M692 540h0M506 546h0M509 546h0M514 545h0M523 547h0M528 545h0M536 546h0M542 546h0M546 546h0M551 545h0M565 546h0M570 545h0M575 546h0M579 545h0M589 545h0M597 546h0M600 546h0M606 546h0M616 545h0M620 546h0M624 546h0M634 546h0M639 547h0M646 545h0M654 544h0M656 546h0M661 544h0M666 545h0M671 545h0M676 546h0M681 545h0M683 546h0M690 546h0M698 546h0M488 549h0M494 550h0M498 549h0M502 548h0M507 551h0M512 550h0M517 551h0M526 549h0M536 548h0M540 549h0M543 550h0M553 550h0M558 549h0M562 548h0M566 551h0M572 549h0M577 551h0M584 550h0M594 549h0M600 549h0M603 550h0M614 550h0M616 549h0M624 549h0M628 550h0M635 549h0M642 550h0M645 549h0M651 549h0M659 548h0M665 550h0M672 550h0M678 548h0M685 549h0M690 549h0M695 551h0M699 550h0M481 554h0M492 554h0M495 554h0M500 554h0M513 554h0M519 554h0M524 553h0M528 553h0M534 552h0M538 554h0M554 555h0M561 552h0M569 552h0M575 555h0M578 555h0M587 553h0M591 553h0M598 552h0M600 553h0M608 553h0M611 553h0M615 554h0M620 553h0M633 554h0M637 555h0M644 553h0M648 555h0M652 554h0M657 553h0M662 554h0M665 553h0M670 555h0M674 553h0M681 553h0M685 555h0M690 552h0M693 555h0M698 553h0M485 558h0M489 557h0M498 559h0M506 557h0M513 557h0M515 558h0M520 557h0M525 558h0M534 558h0M540 557h0M544 557h0M549 557h0M553 557h0M561 557h0M576 557h0M585 556h0M590 556h0M604 558h0M607 559h0M614 557h0M618 559h0M623 558h0M628 557h0M632 558h0M636 557h0M641 557h0M644 559h0M649 559h0M658 559h0M667 556h0M678 557h0M685 557h0M692 559h0M697 557h0M704 558h0M482 563h0M487 561h0M492 561h0M496 562h0M501 561h0M514 562h0M520 561h0M524 561h0M527 563h0M533 563h0M542 561h0M552 562h0M555 562h0M571 562h0M574 561h0M593 563h0M611 561h0M615 561h0M638 563h0M643 563h0M647 561h0M658 561h0M672 562h0M685 561h0M690 561h0M694 562h0M698 562h0M494 567h0M497 565h0M507 566h0M513 567h0M516 567h0M522 567h0M525 565h0M530 565h0M540 567h0M543 566h0M548 566h0M554 566h0M557 565h0M563 566h0M568 566h0M572 566h0M575 567h0M580 567h0M585 566h0M596 567h0M598 567h0M608 566h0M613 565h0M626 566h0M633 567h0M645 567h0M651 567h0M655 565h0M664 567h0M668 566h0M672 566h0M676 567h0M681 567h0M687 565h0M692 567h0M695 567h0M709 567h0M486 570h0M491 571h0M497 571h0M504 569h0M510 570h0M514 570h0M519 570h0M522 571h0M529 569h0M532 571h0M536 571h0M542 571h0M545 571h0M552 569h0M566 571h0M570 571h0M575 571h0M579 571h0M584 570h0M606 570h0M624 571h0M633 569h0M639 571h0M643 571h0M648 571h0M653 570h0M666 571h0M670 569h0M675 570h0M680 570h0M683 569h0M689 570h0M699 569h0M704 571h0M709 571h0M486 576h0M488 574h0M493 574h0M502 574h0M508 574h0M518 576h0M521 575h0M549 574h0M561 575h0M568 573h0M571 574h0M577 575h0M581 574h0M591 575h0M600 575h0M603 575h0M608 574h0M613 574h0M617 573h0M627 575h0M630 575h0M640 574h0M650 575h0M658 574h0M663 576h0M669 574h0M672 573h0M678 574h0M682 573h0M690 573h0M695 573h0M701 574h0M704 576h0M711 575h0M714 574h0M718 575h0M485 578h0M490 578h0M495 580h0M500 579h0M511 579h0M514 579h0M537 578h0M543 579h0M545 579h0M551 577h0M556 579h0M559 579h0M565 578h0M569 578h0M575 579h0M577 580h0M583 578h0M587 577h0M592 579h0M597 578h0M603 577h0M606 580h0M610 580h0M616 578h0M621 579h0M630 578h0M639 578h0M644 578h0M651 580h0M656 579h0M662 579h0M667 578h0M670 578h0M675 578h0M680 578h0M686 579h0M692 578h0M697 580h0M708 579h0M711 578h0M721 578h0M725 580h0M731 579h0M734 579h0M488 582h0M494 583h0M498 583h0M520 584h0M527 582h0M531 583h0M543 582h0M553 582h0M558 582h0M562 582h0M567 581h0M573 581h0M575 583h0M582 582h0M585 581h0M590 584h0M596 583h0M608 583h0M613 582h0M617 584h0M622 582h0M626 584h0M632 583h0M637 582h0M640 583h0M654 582h0M659 583h0M664 582h0M668 582h0M681 581h0M687 583h0M701 583h0M706 583h0M711 584h0M715 583h0M722 581h0M492 587h0M496 586h0M500 586h0M504 587h0M513 586h0M518 588h0M524 587h0M529 586h0M537 587h0M542 587h0M560 586h0M566 587h0M569 587h0M573 588h0M578 588h0M584 586h0M602 586h0M608 587h0M610 586h0M614 587h0M619 588h0M625 586h0M630 588h0M643 586h0M648 587h0M658 588h0M662 587h0M667 587h0M671 587h0M674 588h0M680 586h0M685 586h0M688 586h0M704 586h0M706 587h0M721 586h0M731 587h0M740 587h0M490 591h0M495 591h0M499 591h0M520 590h0M526 592h0M536 591h0M539 591h0M543 592h0M549 592h0M575 592h0M581 592h0M585 592h0M616 591h0M622 590h0M630 590h0M644 590h0M660 591h0M665 591h0M669 592h0M677 592h0M683 592h0M687 591h0M692 590h0M695 591h0M701 590h0M723 590h0M729 590h0M734 592h0M738 591h0M491 595h0M496 596h0M506 596h0M515 596h0M518 596h0M524 595h0M533 594h0M536 595h0M543 594h0M546 594h0M554 594h0M571 594h0M573 595h0M577 596h0M585 594h0M607 596h0M617 594h0M630 595h0M633 594h0M638 596h0M644 594h0M647 594h0M654 595h0M657 595h0M662 595h0M667 595h0M672 595h0M679 595h0M685 594h0M688 595h0M692 596h0M698 596h0M702 596h0M707 594h0M712 594h0M717 595h0M721 594h0M736 595h0M740 595h0M749 595h0M502 598h0M508 598h0M518 598h0M525 599h0M529 600h0M535 598h0M539 600h0M544 599h0M547 600h0M553 600h0M559 599h0M571 598h0M576 600h0M581 598h0M595 599h0M600 600h0M608 600h0M614 598h0M630 598h0M636 599h0M641 600h0M646 599h0M649 598h0M656 598h0M660 599h0M669 600h0M690 598h0M704 600h0M709 599h0M713 599h0M719 599h0M724 599h0M729 600h0M733 598h0M736 600h0M742 598h0M751 599h0M755 600h0M499 603h0M509 604h0M513 603h0M520 603h0M522 602h0M527 604h0M532 604h0M543 603h0M547 603h0M552 602h0M555 603h0M561 604h0M564 602h0M575 604h0M583 604h0M588 604h0M593 603h0M603 604h0M607 603h0M612 602h0M615 603h0M633 603h0M642 603h0M648 604h0M653 603h0M657 603h0M670 605h0M675 604h0M681 604h0M684 603h0M688 604h0M697 602h0M707 603h0M713 604h0M718 602h0M722 603h0M731 603h0M734 603h0M740 604h0M746 603h0M750 604h0M759 605h0M495 608h0M507 607h0M511 608h0M517 608h0M520 608h0M526 606h0M531 608h0M534 606h0M548 608h0M558 607h0M561 607h0M567 607h0M572 608h0M575 608h0M581 607h0M591 608h0M596 606h0M599 607h0M603 608h0M609 607h0M612 608h0M618 607h0M623 608h0M628 606h0M631 607h0M636 607h0M650 606h0M656 606h0M659 607h0M662 607h0M677 606h0M683 607h0M687 608h0M691 607h0M695 606h0M700 607h0M704 607h0M711 606h0M728 608h0M737 607h0M741 607h0M760 607h0M520 613h0M532 613h0M537 611h0M541 612h0M562 612h0M569 612h0M584 611h0M596 610h0M601 610h0M606 611h0M610 612h0M616 610h0M619 611h0M624 610h0M629 611h0M633 613h0M638 611h0M647 613h0M658 611h0M663 612h0M666 612h0M669 613h0M674 610h0M681 610h0M684 610h0M694 612h0M698 612h0M702 612h0M707 613h0M725 611h0M739 611h0M748 611h0M499 616h0M512 616h0M518 616h0M521 614h0M534 616h0M540 617h0M554 616h0M557 616h0M562 615h0M580 616h0M586 616h0M594 617h0M598 615h0M604 615h0M609 615h0M614 616h0M617 615h0M622 615h0M627 617h0M633 616h0M637 616h0M649 616h0M654 615h0M665 616h0M668 615h0M672 616h0M676 616h0M695 617h0M700 615h0M705 617h0M715 615h0M732 615h0M752 615h0M514 619h0M520 621h0M529 621h0M532 621h0M547 619h0M579 621h0M584 621h0M588 619h0M603 620h0M629 620h0M643 621h0M667 621h0M675 619h0M722 619h0M745 620h0M749 619h0M753 621h0M517 623h0M522 624h0M563 623h0M589 624h0M642 624h0M645 623h0M649 623h0M672 624h0M690 623h0M734 623h0M747 624h0"/><path stroke="#0000e6" d="M553 517h0M581 517h0M586 516h0M605 517h0M608 518h0M552 521h0M570 521h0M573 522h0M583 520h0M588 521h0M593 522h0M600 520h0M605 520h0M614 521h0M620 521h0M561 524h0M571 526h0M577 523h0M582 523h0M584 524h0M590 526h0M599 524h0M603 524h0M607 524h0M618 524h0M621 525h0M529 529h0M533 529h0M560 530h0M564 529h0M578 528h0M587 528h0M591 530h0M596 530h0M602 529h0M605 528h0M616 528h0M619 530h0M628 528h0M633 529h0M639 529h0M647 530h0M651 530h0M526 534h0M534 532h0M543 533h0M550 534h0M553 534h0M572 532h0M599 532h0M603 532h0M614 533h0M623 532h0M628 532h0M636 533h0M641 532h0M644 534h0M649 533h0M653 534h0M659 533h0M673 534h0M676 534h0M495 538h0M500 538h0M506 537h0M510 537h0M538 538h0M543 538h0M555 538h0M594 537h0M616 538h0M635 537h0M638 538h0M644 536h0M647 537h0M676 536h0M688 538h0M694 538h0M699 538h0M704 537h0M488 541h0M494 541h0M498 540h0M504 541h0M508 540h0M517 542h0M540 542h0M553 542h0M581 540h0M585 542h0M591 542h0M595 540h0M600 541h0M608 541h0M628 540h0M631 541h0M636 540h0M697 541h0M700 540h0M711 541h0M715 540h0M486 545h0M491 544h0M497 546h0M500 544h0M517 546h0M557 545h0M560 544h0M582 544h0M594 547h0M611 544h0M631 545h0M695 545h0M703 545h0M709 546h0M479 549h0M484 551h0M520 550h0M548 549h0M582 550h0M589 549h0M607 549h0M653 550h0M683 549h0M706 549h0M478 553h0M541 554h0M547 553h0M552 555h0M563 555h0M583 554h0M624 554h0M704 552h0M706 554h0M711 554h0M479 557h0M530 559h0M558 557h0M567 558h0M673 558h0M701 557h0M711 556h0M715 558h0M722 558h0M510 561h0M536 561h0M603 561h0M675 563h0M704 562h0M706 563h0M713 561h0M715 561h0M700 567h0M704 565h0M714 567h0M719 566h0M723 566h0M729 565h0M734 566h0M501 571h0M656 571h0M694 571h0M716 570h0M721 571h0M725 570h0M734 571h0M647 575h0M654 574h0M687 575h0M724 574h0M729 575h0M734 574h0M737 575h0M704 578h0M740 578h0M604 582h0M674 583h0M720 584h0M727 584h0M732 583h0M738 582h0M694 587h0M699 588h0M711 586h0M718 587h0M725 586h0M736 587h0M571 590h0M672 590h0M706 592h0M711 591h0M714 592h0M719 592h0M743 590h0M747 591h0M752 591h0M755 592h0M726 596h0M730 595h0M752 596h0M746 599h0M759 598h0M536 604h0M639 603h0M661 605h0M725 604h0M754 603h0M763 603h0M767 603h0M771 603h0M781 605h0M539 606h0M545 608h0M553 609h0M585 608h0M641 609h0M645 608h0M714 609h0M719 607h0M725 608h0M732 608h0M747 607h0M752 607h0M756 607h0M765 608h0M770 608h0M774 608h0M778 607h0M501 612h0M506 612h0M514 611h0M522 612h0M527 611h0M546 611h0M552 611h0M555 610h0M565 611h0M574 613h0M579 611h0M588 610h0M592 612h0M643 611h0M652 612h0M688 612h0M713 610h0M717 612h0M721 612h0M729 611h0M736 612h0M745 612h0M754 611h0M759 612h0M763 612h0M767 613h0M780 612h0M502 615h0M508 617h0M527 617h0M530 616h0M543 617h0M549 615h0M568 616h0M572 616h0M576 615h0M590 616h0M640 616h0M645 617h0M658 614h0M681 617h0M685 616h0M690 615h0M711 615h0M719 617h0M723 616h0M729 615h0M736 615h0M741 614h0M755 617h0M760 614h0M769 617h0M775 615h0M783 615h0M501 620h0M505 621h0M509 621h0M524 619h0M536 621h0M540 619h0M551 619h0M556 621h0M559 621h0M565 621h0M568 620h0M573 619h0M591 621h0M597 619h0M607 621h0M611 621h0M621 621h0M624 620h0M635 619h0M637 620h0M646 620h0M651 621h0M656 619h0M661 620h0M672 620h0M679 619h0M684 619h0M690 620h0M694 621h0M699 620h0M703 619h0M706 619h0M712 619h0M717 620h0M725 621h0M731 619h0M735 621h0M739 621h0M757 621h0M768 620h0M772 621h0M777 620h0M780 620h0M499 623h0M502 624h0M509 623h0M513 624h0M530 624h0M534 624h0M540 624h0M549 623h0M552 624h0M557 623h0M576 623h0M585 623h0M605 624h0M608 623h0M619 623h0M627 623h0M635 624h0M658 624h0M664 623h0M668 624h0M695 624h0M700 623h0M711 623h0M719 624h0M724 624h0M728 623h0M738 623h0M741 623h0M755 623h0M774 624h0M784 624h0"/><path stroke="#0000ff" d="M599 509h0M565 513h0M589 512h0M592 512h0M596 511h0M607 513h0M611 513h0M549 517h0M558 515h0M566 517h0M572 518h0M575 517h0M589 517h0M596 517h0M598 515h0M614 516h0M622 515h0M537 519h0M541 521h0M547 521h0M556 521h0M559 522h0M565 521h0M579 520h0M610 519h0M625 520h0M630 521h0M634 522h0M643 520h0M536 525h0M539 525h0M545 526h0M548 524h0M554 524h0M559 525h0M567 526h0M626 526h0M633 523h0M637 525h0M641 526h0M645 523h0M654 525h0M522 530h0M537 530h0M543 529h0M548 528h0M552 530h0M555 530h0M642 529h0M657 529h0M506 534h0M520 534h0M540 533h0M616 532h0M663 532h0M669 532h0M681 533h0M686 533h0M691 532h0M696 533h0M701 533h0M706 532h0M493 537h0M707 536h0M713 536h0M717 537h0M483 541h0M705 541h0M478 546h0M481 545h0M711 545h0M717 546h0M708 549h0M716 550h0M716 554h0M721 555h0M730 554h0M720 556h0M734 558h0M721 562h0M727 562h0M730 562h0M736 561h0M738 566h0M730 571h0M740 570h0M742 573h0M747 573h0M744 580h0M749 579h0M753 577h0M742 584h0M748 581h0M751 582h0M745 586h0M749 586h0M755 586h0M759 589h0M758 595h0M763 596h0M768 596h0M772 596h0M776 595h0M780 594h0M766 599h0M769 598h0M774 599h0M776 602h0M771 610h0M775 612h0M764 616h0M777 616h0M615 619h0M764 619h0M759 623h0"/><path stroke="#0019ff" d="M607 504h0M594 508h0M603 509h0M608 508h0M556 513h0M560 512h0M579 511h0M582 511h0M601 511h0M615 513h0M619 511h0M624 512h0M628 512h0M639 513h0M647 513h0M534 516h0M539 516h0M543 516h0M563 515h0M617 516h0M628 516h0M632 516h0M635 516h0M642 517h0M647 518h0M650 517h0M656 518h0M528 520h0M533 520h0M639 520h0M647 520h0M653 520h0M656 522h0M660 520h0M527 524h0M531 526h0M649 525h0M659 523h0M664 524h0M663 529h0M666 529h0M671 528h0M675 530h0M685 529h0M694 529h0M704 529h0M511 533h0M515 532h0M710 533h0M482 537h0M722 538h0M481 542h0M719 542h0M721 546h0M719 549h0M723 549h0M725 554h0M736 554h0M727 558h0M737 557h0M742 558h0M739 562h0M741 566h0M743 570h0M753 569h0M752 574h0M754 575h0M759 578h0M756 583h0M757 586h0M766 590h0M771 592h0M773 590h0M778 590h0M778 598h0"/><path stroke="#0033ff" d="M607 496h0M605 500h0M609 499h0M613 500h0M601 503h0M612 504h0M615 504h0M568 509h0M572 508h0M575 508h0M581 509h0M586 508h0M590 508h0M613 507h0M619 508h0M621 507h0M628 508h0M631 509h0M641 509h0M548 513h0M569 511h0M574 512h0M632 512h0M644 513h0M653 513h0M531 517h0M659 515h0M664 517h0M676 517h0M704 516h0M665 520h0M671 520h0M685 520h0M689 521h0M702 520h0M668 525h0M674 525h0M676 526h0M681 524h0M701 525h0M704 525h0M711 525h0M681 527h0M688 528h0M700 529h0M707 530h0M712 529h0M499 533h0M502 532h0M715 533h0M718 534h0M477 538h0M486 536h0M722 542h0M726 545h0M728 550h0M734 550h0M746 557h0M745 563h0M750 563h0M748 567h0M752 566h0M748 571h0M763 579h0M761 583h0M764 582h0M762 587h0M766 586h0M772 587h0M776 586h0"/><path stroke="#004dff" d="M593 497h0M581 500h0M585 499h0M600 501h0M618 500h0M623 500h0M628 501h0M579 505h0M582 504h0M589 503h0M592 504h0M596 504h0M619 504h0M625 504h0M630 504h0M635 504h0M637 505h0M646 505h0M652 503h0M558 509h0M636 508h0M645 507h0M649 507h0M653 509h0M658 508h0M536 513h0M542 512h0M552 512h0M658 513h0M660 511h0M670 513h0M675 513h0M708 513h0M711 514h0M525 516h0M668 515h0M673 515h0M687 517h0M699 516h0M710 516h0M522 521h0M675 519h0M681 520h0M694 519h0M697 521h0M707 521h0M712 521h0M521 525h0M687 524h0M691 523h0M697 524h0M514 530h0M518 527h0M490 533h0M474 537h0M727 537h0M732 541h0M729 545h0M734 547h0M741 554h0M743 555h0M759 570h0M761 575h0M765 575h0M768 579h0M771 579h0M770 582h0M775 582h0"/><path stroke="#0066ff" d="M588 497h0M597 496h0M601 495h0M615 497h0M576 500h0M591 499h0M596 501h0M571 503h0M575 503h0M644 504h0M660 504h0M553 509h0M564 507h0M664 507h0M669 507h0M711 509h0M667 512h0M702 512h0M521 517h0M682 515h0M691 516h0M695 516h0M520 521h0M715 523h0M509 529h0M715 529h0M485 533h0M729 536h0M727 542h0M738 548h0M764 571h0M768 575h0M773 574h0M777 577h0"/><path stroke="#0080ff" d="M573 495h0M580 495h0M584 495h0M568 498h0M570 499h0M562 505h0M564 504h0M540 509h0M543 508h0M548 508h0M673 507h0M706 507h0M680 512h0M685 512h0M516 526h0M505 528h0M479 534h0M493 532h0M766 571h0"/><path stroke="#0099ff" d="M563 501h0M556 505h0M680 505h0M702 505h0M677 508h0M700 509h0M714 508h0M523 512h0M529 511h0M532 512h0M688 512h0M694 513h0M698 512h0M517 515h0M715 516h0M513 524h0M501 528h0M476 534h0M728 533h0M772 571h0M777 570h0"/><path stroke="#00b2ff" d="M549 500h0M558 501h0M546 504h0M552 505h0M535 509h0M682 507h0M697 507h0M519 513h0M513 517h0M509 521h0M513 520h0M506 525h0M723 532h0"/><path stroke="#00ccff" d="M687 509h0M690 508h0M717 522h0M495 529h0M722 529h0"/><path stroke="#00e5ff" d="M542 504h0M695 505h0M524 509h0M530 508h0M514 512h0M506 517h0M504 521h0M502 524h0M488 528h0M490 528h0M726 530h0"/><path stroke="#00ffff" d="M536 504h0M522 509h0M502 516h0M498 526h0M720 525h0"/><path stroke="#1affe5" d="M502 521h0M720 521h0M476 530h0M481 528h0"/><path stroke="#33ffcc" d="M490 525h0M722 526h0M473 530h0"/><path stroke="#4dffb2" d="M483 526h0M492 524h0"/><path stroke="#66ff99" d="M497 517h0M495 520h0"/><path stroke="#80ff80" d="M492 517h0"/><path stroke="#99ff66" d="M486 519h0M492 521h0"/><path stroke="#b3ff4c" d="M480 524h0"/><path stroke="#ccff33" d="M482 520h0"/><path stroke="#e5ff1a" d="M475 525h0"/><path stroke="#ffff00" d="M477 521h0"/><path stroke="#ffe500" d="M471 523h0"/><path stroke="#ffb300" d="M472 521h0"/></g><g transform="translate(-196.50,-96.80)"><circle cx="340.7" cy="204.0" r="3.4" fill="#004dff"/><circle cx="241.8" cy="233.5" r="3.3" fill="#d10000"/><circle cx="374.8" cy="237.5" r="3.2" fill="#d10000"/><circle cx="324.7" cy="238.6" r="2.2" fill="#e50000"/></g></g>
<use href="#map"/>
</g>
<rect x="1285.50" y="485.50" width="23.50" height="215.00" fill="url(#jet)" stroke="#262626" stroke-width="1"/>
<path d="M1309.00 593.00h-2.3" stroke="#262626" stroke-width="1"/>
<text class="b c" x="1317.1" y="493.9">100</text>
<text class="b c" x="1317.1" y="601.4">50</text>
<text class="b c" x="1317.1" y="708.9">0</text>
<text class="b x" y="731.6"><tspan x="982.0">SAT</tspan><tspan x="1039.6">400</tspan><tspan x="1095.9">hPa</tspan><tspan x="1151.7">RH</tspan><tspan x="1197.2">(Percent)</tspan></text>
<text class="b t" x="1058.5" y="465.4">100</text>
<text class="b d" x="1089.0" y="459.1" text-anchor="middle">°</text>
<text class="b t" x="1096.6" y="465.4">W</text>
<text class="b t" x="1126.3" y="465.4">90</text>
<text class="b d" x="1147.8" y="459.1" text-anchor="middle">°</text>
<text class="b t" x="1155.4" y="465.4">W</text>
<text class="b t" x="1189.6" y="465.4">80</text>
<text class="b d" x="1211.1" y="459.1" text-anchor="middle">°</text>
<text class="b t" x="1218.7" y="465.4">W</text>
<text class="b t" x="1255.3" y="465.4">70</text>
<text class="b d" x="1276.8" y="459.1" text-anchor="middle">°</text>
<text class="b t" x="1284.4" y="465.4">W</text>
<text class="b t" x="987.8" y="502.3">48</text>
<text class="b d" x="1010.7" y="496.2" text-anchor="middle">°</text>
<text class="b t" x="1016.8" y="502.3">N</text>
<text class="b t" x="987.8" y="521.2">46</text>
<text class="b d" x="1010.7" y="515.1" text-anchor="middle">°</text>
<text class="b t" x="1016.8" y="521.2">N</text>
<text class="b t" x="987.8" y="538.2">44</text>
<text class="b d" x="1010.7" y="532.1" text-anchor="middle">°</text>
<text class="b t" x="1016.8" y="538.2">N</text>
<text class="b t" x="987.8" y="556.7">42</text>
<text class="b d" x="1010.7" y="550.6" text-anchor="middle">°</text>
<text class="b t" x="1016.8" y="556.7">N</text>
<text class="b t" x="987.8" y="573.4">40</text>
<text class="b d" x="1010.7" y="567.3" text-anchor="middle">°</text>
<text class="b t" x="1016.8" y="573.4">N</text>
<text class="b t" x="987.8" y="588.4">38</text>
<text class="b d" x="1010.7" y="582.3" text-anchor="middle">°</text>
<text class="b t" x="1016.8" y="588.4">N</text>
<text class="b t" x="987.8" y="604.1">36</text>
<text class="b d" x="1010.7" y="598.0" text-anchor="middle">°</text>
<text class="b t" x="1016.8" y="604.1">N</text>
<text class="b t" x="987.8" y="619.7">34</text>
<text class="b d" x="1010.7" y="613.6" text-anchor="middle">°</text>
<text class="b t" x="1016.8" y="619.7">N</text>
<text class="b t" x="987.8" y="635.6">32</text>
<text class="b d" x="1010.7" y="629.5" text-anchor="middle">°</text>
<text class="b t" x="1016.8" y="635.6">N</text>
<text class="b t" x="987.8" y="650.6">30</text>
<text class="b d" x="1010.7" y="644.5" text-anchor="middle">°</text>
<text class="b t" x="1016.8" y="650.6">N</text>
<text class="b t" x="987.8" y="665.4">28</text>
<text class="b d" x="1010.7" y="659.3" text-anchor="middle">°</text>
<text class="b t" x="1016.8" y="665.4">N</text>
<text class="b t" x="987.8" y="679.1">26</text>
<text class="b d" x="1010.7" y="673.0" text-anchor="middle">°</text>
<text class="b t" x="1016.8" y="679.1">N</text>
<text class="b t" x="987.8" y="691.9">24</text>
<text class="b d" x="1010.7" y="685.8" text-anchor="middle">°</text>
<text class="b t" x="1016.8" y="691.9">N</text>
<text class="b t" x="987.8" y="706.4">22</text>
<text class="b d" x="1010.7" y="700.3" text-anchor="middle">°</text>
<text class="b t" x="1016.8" y="706.4">N</text>
</svg></body></html>
